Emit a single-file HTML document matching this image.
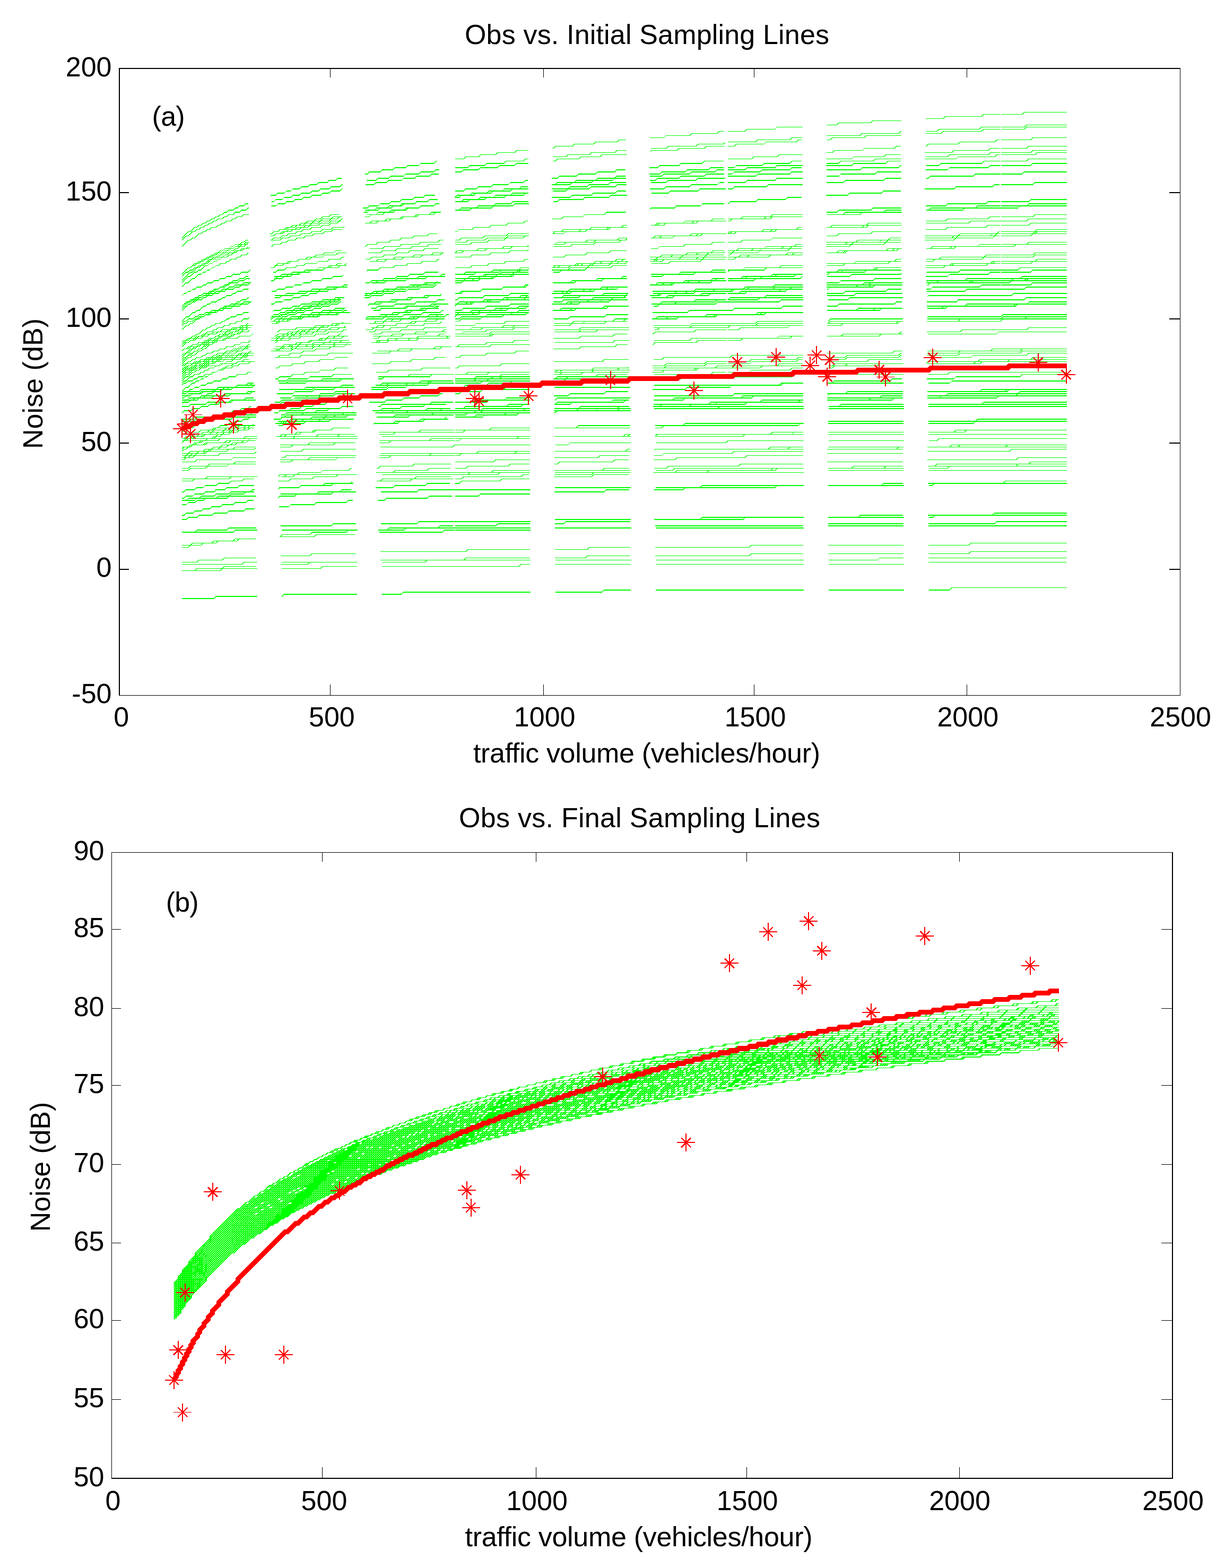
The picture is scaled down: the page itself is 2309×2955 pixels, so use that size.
<!DOCTYPE html>
<html lang="en"><head><meta charset="utf-8"><title>Obs vs. Sampling Lines</title><style>html,body{margin:0;padding:0;background:#fff}svg{display:block}</style></head><body>
<svg width="2309" height="2955" viewBox="0 0 2309 2955">
<rect width="2309" height="2955" fill="#fff"/>
<g transform="translate(343 2.25) scale(0.804 1.005)" fill="none" stroke="#00ff00" stroke-width="1.49" stroke-dasharray="177.49 58.33" shape-rendering="crispEdges">
<path d="M0 444l15-12h5l10-8h5l5-4h5l5-4h5l5-4h5l5-4h5l5-4h5l5-4h5l5-4h5l5-4h10l5-4h5l5-4h10l5-4h10l5-4h5l5-4h15l5-4h10l5-4h10l5-4h15l5-4h10l5-4h15l5-4h15l5-4h15l5-4h20l5-4h15l5-4h20l5-4h20l5-4h20l5-4h25l5-4h25l5-4h25l5-4h25l5-4h30l5-4h30l5-4h10"/>
<path d="M640 296h20l5-4h30l5-4h35l5-4h40l5-4h35l5-4h45l5-4h40l5-4h45l5-4h50l5-4h50l5-4h50l5-4h55l5-4h60l5-4h20"/>
<path d="M1280 244h40l5-4h65l5-4h65l5-4h70l5-4h75l5-4h80l5-4h80l5-4h85l5-4h40"/>
<path d="M1920 212h50l5-4h100"/>
<path d="M0 448l10-8h5l10-8h5l5-4h5l5-4h5l5-4h5l5-4h5l5-4h5l5-4h10l5-4h5l5-4h10l5-4h10l5-4h10l5-4h10l5-4h10l5-4h15l5-4h10l5-4h15l5-4h15l5-4h15l5-4h20l5-4h15l5-4h20l5-4h20l5-4h20l5-4h25l5-4h25l5-4h25l5-4h30l5-4h30l5-4h30l5-4h35l5-4h5"/>
<path d="M640 312h30l5-4h35l5-4h40l5-4h40l5-4h45l5-4h45l5-4h50l5-4h55l5-4h55l5-4h55l5-4h65l5-4h60l5-4h5"/>
<path d="M1280 264h65l5-4h75l5-4h75l5-4h80l5-4h85l5-4h85l5-4h95l5-4h45"/>
<path d="M1920 236h55l5-4h95"/>
<path d="M0 460l15-12h5l5-4h5l10-8h5l5-4h5l5-4h5l5-4h10l5-4h5l5-4h5l5-4h10l5-4h5l5-4h10l5-4h10l5-4h10l5-4h10l5-4h15l5-4h10l5-4h15l5-4h15l5-4h15l5-4h15l5-4h20l5-4h15l5-4h20l5-4h20l5-4h25l5-4h20l5-4h25l5-4h30l5-4h25l5-4h30l5-4h35l5-4h15"/>
<path d="M640 320h15l5-4h35l5-4h40l5-4h35l5-4h45l5-4h40l5-4h50l5-4h45l5-4h55l5-4h50l5-4h60l5-4h60l5-4h50"/>
<path d="M1280 272h15l5-4h65l5-4h70l5-4h75l5-4h75l5-4h85l5-4h85l5-4h90l5-4h40"/>
<path d="M1920 240h55l5-4h95"/>
<path d="M0 524l20-16h5l15-12h5l5-4h5l10-8h5l5-4h5l5-4h5l5-4h5l5-4h5l5-4h5l5-4h5l5-4h10l5-4h5l5-4h10l5-4h5l5-4h10l5-4h10l5-4h10l5-4h10l5-4h10l5-4h15l5-4h10l5-4h15l5-4h10l5-4h15l5-4h20l5-4h15l5-4h15l5-4h20l5-4h20l5-4h20l5-4h20l5-4h25l5-4h20l5-4h25l5-4h25l5-4h10"/>
<path d="M640 356h20l5-4h25l5-4h30l5-4h35l5-4h30l5-4h35l5-4h35l5-4h40l5-4h40l5-4h40l5-4h45l5-4h45l5-4h45l5-4h50l5-4h50l5-4"/>
<path d="M1280 296h55l5-4h55l5-4h60l5-4h60l5-4h65l5-4h70l5-4h70l5-4h70l5-4h80l5-4h10"/>
<path d="M1920 260h70l5-4h80"/>
<path d="M0 524l20-16h5l10-8h5l5-4h5l5-4h5l10-8h5l5-4h5l5-4h5l5-4h10l5-4h5l5-4h5l5-4h10l5-4h5l5-4h10l5-4h10l5-4h10l5-4h10l5-4h10l5-4h10l5-4h15l5-4h15l5-4h10l5-4h15l5-4h20l5-4h15l5-4h15l5-4h20l5-4h20l5-4h20l5-4h25l5-4h20l5-4h25l5-4h25l5-4h30l5-4h25"/>
<path d="M640 368l5-4h30l5-4h35l5-4h30l5-4h35l5-4h35l5-4h40l5-4h40l5-4h45l5-4h40l5-4h50l5-4h45l5-4h55l5-4h50l5-4h40"/>
<path d="M1280 312h15l5-4h60l5-4h60l5-4h65l5-4h70l5-4h70l5-4h75l5-4h75l5-4h80l5-4h25"/>
<path d="M1920 276h60l5-4h90"/>
<path d="M0 512l15-12h5l10-8h5l5-4h5l5-4h5l5-4h5l5-4h5l5-4h5l5-4h5l5-4h10l5-4h5l5-4h10l5-4h5l5-4h10l5-4h10l5-4h10l5-4h15l5-4h10l5-4h15l5-4h15l5-4h15l5-4h15l5-4h15l5-4h20l5-4h20l5-4h20l5-4h20l5-4h20l5-4h25l5-4h25l5-4h30l5-4h25l5-4h30l5-4h25"/>
<path d="M640 368h10l5-4h30l5-4h35l5-4h40l5-4h40l5-4h40l5-4h45l5-4h45l5-4h45l5-4h55l5-4h50l5-4h60l5-4h55l5-4h25"/>
<path d="M1280 316h40l5-4h65l5-4h70l5-4h70l5-4h75l5-4h85l5-4h80l5-4h90l5-4h25"/>
<path d="M1920 284h70l5-4h80"/>
<path d="M0 528l15-12h5l10-8h5l5-4h5l10-8h5l5-4h5l5-4h5l5-4h5l5-4h10l5-4h5l5-4h5l5-4h10l5-4h5l5-4h10l5-4h10l5-4h10l5-4h10l5-4h15l5-4h10l5-4h15l5-4h10l5-4h15l5-4h20l5-4h15l5-4h15l5-4h20l5-4h20l5-4h20l5-4h25l5-4h20l5-4h25l5-4h25l5-4h30l5-4h25l5-4h15"/>
<path d="M640 376h15l5-4h35l5-4h30l5-4h35l5-4h40l5-4h40l5-4h40l5-4h40l5-4h45l5-4h50l5-4h50l5-4h50l5-4h55l5-4h50"/>
<path d="M1280 324h10l5-4h60l5-4h65l5-4h65l5-4h70l5-4h75l5-4h75l5-4h80l5-4h85l5-4h10"/>
<path d="M1920 288h80l5-4h70"/>
<path d="M0 512l15-12h5l5-4h5l5-4h5l5-4h5l5-4h5l5-4h5l5-4h5l5-4h10l5-4h5l5-4h10l5-4h10l5-4h10l5-4h10l5-4h10l5-4h10l5-4h15l5-4h15l5-4h15l5-4h15l5-4h15l5-4h20l5-4h20l5-4h20l5-4h20l5-4h25l5-4h25l5-4h25l5-4h30l5-4h30l5-4h30l5-4h35l5-4h5"/>
<path d="M640 376h30l5-4h35l5-4h40l5-4h40l5-4h45l5-4h45l5-4h50l5-4h55l5-4h55l5-4h55l5-4h65l5-4h65l5-4"/>
<path d="M1280 328h65l5-4h75l5-4h75l5-4h80l5-4h85l5-4h90l5-4h95l5-4h40"/>
<path d="M1920 300h60l5-4h90"/>
<path d="M0 536l10-8h5l10-8h5l10-8h5l5-4h5l5-4h5l5-4h5l5-4h5l5-4h10l5-4h5l5-4h10l5-4h5l5-4h10l5-4h10l5-4h10l5-4h10l5-4h10l5-4h15l5-4h10l5-4h15l5-4h15l5-4h15l5-4h20l5-4h15l5-4h20l5-4h20l5-4h20l5-4h25l5-4h25l5-4h25l5-4h25l5-4h30l5-4h30l5-4h20"/>
<path d="M640 392h10l5-4h35l5-4h35l5-4h35l5-4h40l5-4h40l5-4h45l5-4h45l5-4h50l5-4h50l5-4h55l5-4h55l5-4h60l5-4h20"/>
<path d="M1280 340h40l5-4h65l5-4h70l5-4h70l5-4h80l5-4h80l5-4h80l5-4h90l5-4h25"/>
<path d="M1920 308h70l5-4h80"/>
<path d="M0 516l10-8h5l5-4h5l5-4h5l5-4h5l5-4h5l5-4h5l5-4h10l5-4h10l5-4h5l5-4h10l5-4h10l5-4h15l5-4h10l5-4h15l5-4h15l5-4h15l5-4h15l5-4h20l5-4h20l5-4h20l5-4h20l5-4h25l5-4h25l5-4h25l5-4h30l5-4h30l5-4h35l5-4h35l5-4h35l5-4h5"/>
<path d="M640 392h35l5-4h45l5-4h45l5-4h45l5-4h50l5-4h55l5-4h55l5-4h65l5-4h65l5-4h65l5-4h65"/>
<path d="M1280 352h10l5-4h75l5-4h80l5-4h90l5-4h90l5-4h100l5-4h100l5-4h60"/>
<path d="M1920 324h50l5-4h100"/>
<path d="M0 580l15-12h5l10-8h5l5-4h5l5-4h5l5-4h5l5-4h5l5-4h5l5-4h5l5-4h5l5-4h5l5-4h10l5-4h10l5-4h5l5-4h10l5-4h10l5-4h10l5-4h10l5-4h15l5-4h10l5-4h15l5-4h15l5-4h15l5-4h15l5-4h20l5-4h20l5-4h15l5-4h25l5-4h20l5-4h25l5-4h20l5-4h25l5-4h30l5-4h30l5-4h25"/>
<path d="M640 432h5l5-4h30l5-4h35l5-4h35l5-4h35l5-4h40l5-4h40l5-4h45l5-4h45l5-4h45l5-4h50l5-4h55l5-4h55l5-4h60"/>
<path d="M1280 380l5-4h60l5-4h65l5-4h65l5-4h70l5-4h75l5-4h80l5-4h80l5-4h85l5-4h15"/>
<path d="M1920 344h75l5-4h75"/>
<path d="M0 600l10-8h5l10-8h5l5-4h5l10-8h5l5-4h5l5-4h10l5-4h5l5-4h5l5-4h10l5-4h5l5-4h10l5-4h10l5-4h10l5-4h10l5-4h10l5-4h10l5-4h15l5-4h15l5-4h15l5-4h15l5-4h15l5-4h20l5-4h15l5-4h20l5-4h25l5-4h20l5-4h25l5-4h25l5-4h25l5-4h30l5-4h30l5-4h30l5-4"/>
<path d="M640 456h35l5-4h35l5-4h35l5-4h40l5-4h45l5-4h40l5-4h45l5-4h50l5-4h50l5-4h55l5-4h55l5-4h60l5-4h35"/>
<path d="M1280 408h30l5-4h65l5-4h70l5-4h75l5-4h75l5-4h80l5-4h85l5-4h90l5-4h30"/>
<path d="M1920 376h65l5-4h85"/>
<path d="M0 572l10-8h5l5-4h5l5-4h5l5-4h5l5-4h10l5-4h5l5-4h10l5-4h10l5-4h5l5-4h15l5-4h10l5-4h10l5-4h15l5-4h15l5-4h15l5-4h15l5-4h20l5-4h15l5-4h25l5-4h20l5-4h25l5-4h25l5-4h25l5-4h30l5-4h30l5-4h30l5-4h35l5-4h40l5-4h15"/>
<path d="M640 452h25l5-4h40l5-4h45l5-4h50l5-4h50l5-4h55l5-4h60l5-4h60l5-4h65l5-4h70l5-4h70"/>
<path d="M1280 412h5l5-4h75l5-4h85l5-4h90l5-4h90l5-4h100l5-4h105l5-4h55"/>
<path d="M1920 384h60l5-4h90"/>
<path d="M0 552l5-4h5l5-4h5l5-4h5l5-4h10l5-4h5l5-4h10l5-4h10l5-4h10l5-4h10l5-4h15l5-4h15l5-4h15l5-4h15l5-4h20l5-4h20l5-4h20l5-4h25l5-4h25l5-4h25l5-4h30l5-4h30l5-4h35l5-4h35l5-4h40l5-4h40l5-4h35"/>
<path d="M640 448h10l5-4h50l5-4h50l5-4h60l5-4h60l5-4h60l5-4h70l5-4h75l5-4h80l5-4h80"/>
<path d="M1280 412h5l5-4h90l5-4h95l5-4h105l5-4h110l5-4h120l5-4h85"/>
<path d="M1920 388h40l5-4h110"/>
<path d="M0 616l10-8h5l5-4h5l10-8h5l5-4h5l5-4h5l5-4h10l5-4h5l5-4h5l5-4h10l5-4h10l5-4h5l5-4h10l5-4h15l5-4h10l5-4h10l5-4h15l5-4h15l5-4h15l5-4h15l5-4h15l5-4h20l5-4h20l5-4h20l5-4h25l5-4h20l5-4h25l5-4h30l5-4h25l5-4h30l5-4h30l5-4h35l5-4"/>
<path d="M640 480h35l5-4h40l5-4h40l5-4h40l5-4h45l5-4h45l5-4h50l5-4h55l5-4h55l5-4h60l5-4h60l5-4h60"/>
<path d="M1280 436h5l5-4h70l5-4h75l5-4h75l5-4h80l5-4h85l5-4h90l5-4h95l5-4h25"/>
<path d="M1920 404h75l5-4h75"/>
<path d="M0 572l5-4h5l5-4h5l5-4h5l5-4h10l5-4h10l5-4h10l5-4h10l5-4h10l5-4h10l5-4h15l5-4h15l5-4h15l5-4h20l5-4h20l5-4h20l5-4h25l5-4h25l5-4h25l5-4h30l5-4h30l5-4h35l5-4h35l5-4h40l5-4h40l5-4h50"/>
<path d="M640 472l5-4h45l5-4h55l5-4h55l5-4h60l5-4h65l5-4h70l5-4h80l5-4h80l5-4h85"/>
<path d="M1280 436l5-4h95l5-4h100l5-4h105l5-4h115l5-4h125l5-4h70"/>
<path d="M1920 412h60l5-4h90"/>
<path d="M0 644l15-12h5l5-4h5l5-4h5l10-8h5l5-4h5l5-4h5l5-4h10l5-4h5l5-4h5l5-4h10l5-4h10l5-4h10l5-4h5l5-4h15l5-4h10l5-4h10l5-4h15l5-4h15l5-4h15l5-4h15l5-4h15l5-4h20l5-4h15l5-4h20l5-4h25l5-4h20l5-4h25l5-4h25l5-4h25l5-4h30l5-4h30l5-4h30l5-4"/>
<path d="M640 500h35l5-4h35l5-4h35l5-4h40l5-4h40l5-4h45l5-4h45l5-4h50l5-4h50l5-4h55l5-4h55l5-4h60l5-4h35"/>
<path d="M1280 452h30l5-4h65l5-4h70l5-4h75l5-4h75l5-4h80l5-4h85l5-4h90l5-4h30"/>
<path d="M1920 420h65l5-4h85"/>
<path d="M0 676l15-12h5l10-8h5l5-4h5l10-8h5l5-4h5l5-4h5l5-4h5l5-4h5l5-4h5l5-4h10l5-4h5l5-4h10l5-4h10l5-4h5l5-4h10l5-4h10l5-4h15l5-4h10l5-4h10l5-4h15l5-4h15l5-4h15l5-4h15l5-4h15l5-4h20l5-4h20l5-4h20l5-4h20l5-4h20l5-4h25l5-4h25l5-4h25l5-4h25l5-4h30l5-4"/>
<path d="M640 520h30l5-4h35l5-4h30l5-4h35l5-4h40l5-4h35l5-4h45l5-4h40l5-4h45l5-4h50l5-4h45l5-4h55l5-4h55l5-4h35"/>
<path d="M1280 468h20l5-4h60l5-4h65l5-4h65l5-4h70l5-4h70l5-4h75l5-4h80l5-4h85l5-4h5"/>
<path d="M1920 432h80l5-4h70"/>
<path d="M0 668l10-8h5l10-8h5l5-4h5l10-8h5l5-4h5l5-4h5l5-4h5l5-4h10l5-4h5l5-4h5l5-4h10l5-4h10l5-4h5l5-4h10l5-4h10l5-4h15l5-4h10l5-4h10l5-4h15l5-4h15l5-4h15l5-4h15l5-4h20l5-4h15l5-4h20l5-4h20l5-4h25l5-4h20l5-4h25l5-4h25l5-4h30l5-4h25l5-4h30l5-4h5"/>
<path d="M640 520h30l5-4h30l5-4h35l5-4h40l5-4h40l5-4h40l5-4h40l5-4h50l5-4h45l5-4h50l5-4h55l5-4h55l5-4h60l5-4h5"/>
<path d="M1280 468h55l5-4h65l5-4h70l5-4h70l5-4h75l5-4h80l5-4h80l5-4h85l5-4h20"/>
<path d="M1920 436h75l5-4h75"/>
<path d="M0 680l15-12h5l5-4h5l10-8h5l5-4h5l10-8h5l5-4h5l5-4h10l5-4h5l5-4h5l5-4h10l5-4h5l5-4h10l5-4h5l5-4h10l5-4h10l5-4h15l5-4h10l5-4h10l5-4h15l5-4h15l5-4h15l5-4h15l5-4h15l5-4h15l5-4h20l5-4h20l5-4h20l5-4h25l5-4h20l5-4h25l5-4h25l5-4h30l5-4h25l5-4h15"/>
<path d="M640 528h15l5-4h35l5-4h30l5-4h35l5-4h40l5-4h35l5-4h45l5-4h40l5-4h45l5-4h50l5-4h45l5-4h55l5-4h55l5-4h50"/>
<path d="M1280 476h5l5-4h60l5-4h65l5-4h65l5-4h70l5-4h75l5-4h75l5-4h80l5-4h85l5-4h15"/>
<path d="M1920 440h70l5-4h80"/>
<path d="M0 648l10-8h5l5-4h5l5-4h5l5-4h5l5-4h5l5-4h10l5-4h5l5-4h10l5-4h10l5-4h10l5-4h10l5-4h10l5-4h15l5-4h10l5-4h15l5-4h15l5-4h20l5-4h15l5-4h20l5-4h20l5-4h25l5-4h20l5-4h25l5-4h30l5-4h30l5-4h30l5-4h30l5-4h35l5-4h40l5-4"/>
<path d="M640 524h40l5-4h40l5-4h45l5-4h50l5-4h50l5-4h55l5-4h55l5-4h65l5-4h60l5-4h70l5-4h60"/>
<path d="M1280 484h15l5-4h75l5-4h85l5-4h85l5-4h90l5-4h100l5-4h105l5-4h50"/>
<path d="M1920 456h60l5-4h90"/>
<path d="M0 604l5-4h5l5-4h10l5-4h5l5-4h10l5-4h10l5-4h15l5-4h10l5-4h15l5-4h15l5-4h20l5-4h15l5-4h20l5-4h25l5-4h25l5-4h25l5-4h30l5-4h35l5-4h35l5-4h35l5-4h40l5-4h45l5-4h50l5-4h30"/>
<path d="M640 512h20l5-4h60l5-4h60l5-4h65l5-4h70l5-4h80l5-4h85l5-4h90l5-4h70"/>
<path d="M1280 480h25l5-4h105l5-4h115l5-4h125l5-4h130l5-4h115"/>
<path d="M1920 460h30l5-4h120"/>
<path d="M0 672l5-4h5l10-8h5l5-4h5l5-4h5l5-4h5l5-4h10l5-4h5l5-4h10l5-4h10l5-4h5l5-4h10l5-4h15l5-4h10l5-4h15l5-4h10l5-4h15l5-4h20l5-4h15l5-4h20l5-4h20l5-4h20l5-4h25l5-4h20l5-4h30l5-4h25l5-4h30l5-4h30l5-4h35l5-4h35l5-4h20"/>
<path d="M640 548h15l5-4h40l5-4h45l5-4h45l5-4h50l5-4h50l5-4h55l5-4h55l5-4h60l5-4h65l5-4h70l5-4h35"/>
<path d="M1280 504h35l5-4h80l5-4h80l5-4h85l5-4h90l5-4h100l5-4h100l5-4h35"/>
<path d="M1920 476h75l5-4h75"/>
<path d="M0 664l5-4h5l10-8h5l5-4h10l5-4h5l5-4h5l5-4h10l5-4h5l5-4h10l5-4h10l5-4h10l5-4h15l5-4h10l5-4h15l5-4h15l5-4h15l5-4h20l5-4h20l5-4h20l5-4h20l5-4h25l5-4h25l5-4h25l5-4h30l5-4h30l5-4h35l5-4h35l5-4h35l5-4h30"/>
<path d="M640 548h10l5-4h45l5-4h45l5-4h50l5-4h50l5-4h55l5-4h60l5-4h60l5-4h70l5-4h70l5-4h75"/>
<path d="M1280 508l5-4h80l5-4h85l5-4h90l5-4h100l5-4h100l5-4h110l5-4h40"/>
<path d="M1920 480h75l5-4h75"/>
<path d="M0 708l10-8h5l10-8h5l5-4h5l5-4h5l5-4h5l5-4h5l5-4h5l5-4h5l5-4h10l5-4h5l5-4h10l5-4h10l5-4h10l5-4h10l5-4h10l5-4h10l5-4h15l5-4h15l5-4h15l5-4h15l5-4h15l5-4h20l5-4h15l5-4h20l5-4h20l5-4h25l5-4h25l5-4h25l5-4h25l5-4h30l5-4h30l5-4h30l5-4h10"/>
<path d="M640 568h25l5-4h35l5-4h40l5-4h35l5-4h45l5-4h45l5-4h45l5-4h50l5-4h50l5-4h55l5-4h60l5-4h60l5-4h35"/>
<path d="M1280 520h30l5-4h65l5-4h70l5-4h75l5-4h80l5-4h80l5-4h90l5-4h90l5-4h20"/>
<path d="M1920 488h80l5-4h70"/>
<path d="M0 704l10-8h5l10-8h5l5-4h5l5-4h5l5-4h5l5-4h5l5-4h10l5-4h5l5-4h10l5-4h5l5-4h10l5-4h10l5-4h10l5-4h15l5-4h10l5-4h15l5-4h10l5-4h15l5-4h20l5-4h15l5-4h20l5-4h20l5-4h20l5-4h20l5-4h25l5-4h25l5-4h25l5-4h30l5-4h30l5-4h30l5-4h35l5-4"/>
<path d="M640 568h35l5-4h35l5-4h40l5-4h45l5-4h40l5-4h50l5-4h50l5-4h50l5-4h55l5-4h60l5-4h60l5-4h65"/>
<path d="M1280 524h5l5-4h65l5-4h75l5-4h75l5-4h80l5-4h85l5-4h90l5-4h95l5-4h30"/>
<path d="M1920 492h70l5-4h80"/>
<path d="M0 656l5-4h5l5-4h5l5-4h10l5-4h10l5-4h5l5-4h10l5-4h15l5-4h10l5-4h15l5-4h15l5-4h15l5-4h20l5-4h20l5-4h20l5-4h25l5-4h25l5-4h30l5-4h30l5-4h35l5-4h35l5-4h35l5-4h45l5-4h45l5-4h40"/>
<path d="M640 560h5l5-4h55l5-4h55l5-4h60l5-4h70l5-4h70l5-4h75l5-4h85l5-4h85l5-4h35"/>
<path d="M1280 524h60l5-4h105l5-4h110l5-4h115l5-4h130l5-4h95"/>
<path d="M1920 504h40l5-4h110"/>
<path d="M0 732l10-8h5l10-8h5l5-4h5l5-4h5l5-4h5l5-4h5l5-4h5l5-4h5l5-4h5l5-4h10l5-4h5l5-4h10l5-4h10l5-4h10l5-4h10l5-4h10l5-4h15l5-4h10l5-4h15l5-4h15l5-4h15l5-4h20l5-4h15l5-4h20l5-4h20l5-4h20l5-4h25l5-4h20l5-4h25l5-4h30l5-4h30l5-4h30l5-4h30"/>
<path d="M640 592l5-4h35l5-4h35l5-4h35l5-4h40l5-4h40l5-4h45l5-4h45l5-4h50l5-4h50l5-4h55l5-4h55l5-4h60l5-4h30"/>
<path d="M1280 540h35l5-4h65l5-4h70l5-4h75l5-4h75l5-4h80l5-4h85l5-4h90l5-4h25"/>
<path d="M1920 508h70l5-4h80"/>
<path d="M0 684l5-4h5l5-4h5l5-4h5l5-4h10l5-4h5l5-4h10l5-4h10l5-4h10l5-4h15l5-4h10l5-4h15l5-4h15l5-4h20l5-4h15l5-4h20l5-4h20l5-4h25l5-4h25l5-4h30l5-4h25l5-4h35l5-4h30l5-4h40l5-4h40l5-4h40l5-4h30"/>
<path d="M640 580h15l5-4h50l5-4h50l5-4h55l5-4h60l5-4h65l5-4h70l5-4h75l5-4h80l5-4h75"/>
<path d="M1280 544h10l5-4h90l5-4h95l5-4h105l5-4h110l5-4h120l5-4h80"/>
<path d="M1920 520h45l5-4h105"/>
<path d="M0 692l5-4h5l5-4h5l5-4h5l5-4h5l5-4h10l5-4h10l5-4h5l5-4h15l5-4h10l5-4h10l5-4h15l5-4h15l5-4h15l5-4h15l5-4h20l5-4h20l5-4h25l5-4h20l5-4h25l5-4h30l5-4h30l5-4h30l5-4h35l5-4h35l5-4h40l5-4h45l5-4h10"/>
<path d="M640 584h35l5-4h50l5-4h50l5-4h55l5-4h60l5-4h65l5-4h70l5-4h75l5-4h75l5-4h60"/>
<path d="M1280 548h25l5-4h90l5-4h100l5-4h100l5-4h110l5-4h115l5-4h70"/>
<path d="M1920 524h55l5-4h95"/>
<path d="M0 640l5-4h10l5-4h10l5-4h15l5-4h15l5-4h15l5-4h20l5-4h20l5-4h25l5-4h25l5-4h30l5-4h30l5-4h40l5-4h40l5-4h45l5-4h50l5-4h55l5-4h60l5-4h45"/>
<path d="M640 568h25l5-4h75l5-4h85l5-4h90l5-4h105l5-4h110l5-4h120"/>
<path d="M1280 544h5l5-4h135l5-4h150l5-4h165l5-4h165"/>
<path d="M1920 528h20l5-4h130"/>
<path d="M0 716l5-4h5l10-8h5l5-4h10l5-4h5l5-4h5l5-4h10l5-4h5l5-4h10l5-4h10l5-4h15l5-4h10l5-4h10l5-4h15l5-4h15l5-4h20l5-4h15l5-4h20l5-4h20l5-4h20l5-4h25l5-4h25l5-4h25l5-4h30l5-4h30l5-4h35l5-4h35l5-4h35l5-4h30"/>
<path d="M640 600h10l5-4h45l5-4h45l5-4h50l5-4h50l5-4h55l5-4h60l5-4h60l5-4h65l5-4h75l5-4h75"/>
<path d="M1280 560l5-4h80l5-4h85l5-4h90l5-4h95l5-4h100l5-4h110l5-4h45"/>
<path d="M1920 532h70l5-4h80"/>
<path d="M0 692l5-4h5l5-4h5l5-4h10l5-4h10l5-4h5l5-4h15l5-4h10l5-4h10l5-4h15l5-4h15l5-4h20l5-4h15l5-4h20l5-4h25l5-4h20l5-4h30l5-4h25l5-4h30l5-4h35l5-4h35l5-4h40l5-4h40l5-4h45l5-4h40"/>
<path d="M640 596h10l5-4h55l5-4h55l5-4h65l5-4h65l5-4h70l5-4h75l5-4h85l5-4h90l5-4h25"/>
<path d="M1280 560h70l5-4h105l5-4h110l5-4h120l5-4h130l5-4h80"/>
<path d="M1920 540h55l5-4h95"/>
<path d="M0 656l5-4h10l5-4h15l5-4h15l5-4h15l5-4h20l5-4h25l5-4h25l5-4h25l5-4h30l5-4h35l5-4h40l5-4h45l5-4h50l5-4h55l5-4h60l5-4h70l5-4h20"/>
<path d="M640 588h55l5-4h85l5-4h95l5-4h105l5-4h115l5-4h130l5-4h25"/>
<path d="M1280 564h120l5-4h155l5-4h180l5-4h170"/>
<path d="M1920 552h25l5-4h125"/>
<path d="M0 696l5-4h10l5-4h5l5-4h10l5-4h10l5-4h10l5-4h15l5-4h15l5-4h15l5-4h20l5-4h20l5-4h20l5-4h25l5-4h25l5-4h30l5-4h30l5-4h35l5-4h35l5-4h45l5-4h40l5-4h50l5-4h55l5-4h10"/>
<path d="M640 608h45l5-4h65l5-4h65l5-4h75l5-4h80l5-4h90l5-4h95l5-4h90"/>
<path d="M1280 580h10l5-4h110l5-4h125l5-4h130l5-4h140l5-4h100"/>
<path d="M1920 560h55l5-4h95"/>
<path d="M0 720l5-4h5l5-4h10l5-4h5l5-4h10l5-4h10l5-4h10l5-4h10l5-4h15l5-4h10l5-4h20l5-4h15l5-4h20l5-4h20l5-4h20l5-4h25l5-4h25l5-4h30l5-4h30l5-4h30l5-4h40l5-4h35l5-4h45l5-4h45l5-4h35"/>
<path d="M640 624h15l5-4h50l5-4h60l5-4h60l5-4h65l5-4h75l5-4h75l5-4h85l5-4h85l5-4h25"/>
<path d="M1280 588h75l5-4h100l5-4h115l5-4h115l5-4h130l5-4h80"/>
<path d="M1920 568h60l5-4h90"/>
<path d="M0 700l5-4h10l5-4h5l5-4h15l5-4h10l5-4h10l5-4h15l5-4h20l5-4h15l5-4h20l5-4h25l5-4h25l5-4h25l5-4h30l5-4h35l5-4h35l5-4h40l5-4h40l5-4h50l5-4h50l5-4h60l5-4"/>
<path d="M640 616h60l5-4h70l5-4h75l5-4h80l5-4h90l5-4h95l5-4h105l5-4h30"/>
<path d="M1280 588h85l5-4h125l5-4h135l5-4h150l5-4h125"/>
<path d="M1920 572h35l5-4h115"/>
<path d="M0 688h5l5-4h10l5-4h15l5-4h15l5-4h20l5-4h25l5-4h25l5-4h25l5-4h35l5-4h35l5-4h45l5-4h45l5-4h55l5-4h60l5-4h65l5-4h75l5-4h5"/>
<path d="M640 624h80l5-4h95l5-4h105l5-4h120l5-4h130l5-4h85"/>
<path d="M1280 604h65l5-4h165l5-4h185l5-4h210"/>
<path d="M1920 592l5-4h150"/>
<path d="M0 736l5-4h10l5-4h5l5-4h10l5-4h10l5-4h10l5-4h15l5-4h10l5-4h15l5-4h20l5-4h15l5-4h25l5-4h20l5-4h25l5-4h25l5-4h30l5-4h30l5-4h35l5-4h40l5-4h40l5-4h45l5-4h50l5-4h45"/>
<path d="M640 648h5l5-4h60l5-4h60l5-4h70l5-4h75l5-4h75l5-4h90l5-4h90l5-4h75"/>
<path d="M1280 616h25l5-4h110l5-4h120l5-4h125l5-4h140l5-4h95"/>
<path d="M1920 596h55l5-4h95"/>
<path d="M0 684h5l5-4h15l5-4h20l5-4h20l5-4h25l5-4h25l5-4h35l5-4h40l5-4h40l5-4h50l5-4h60l5-4h65l5-4h70l5-4h85l5-4h15"/>
<path d="M640 628h85l5-4h110l5-4h125l5-4h140l5-4h160"/>
<path d="M1280 612l5-4h185l5-4h205l5-4h235"/>
<path d="M1920 600l5-4h150"/>
<path d="M0 756l5-4h10l5-4h5l5-4h10l5-4h10l5-4h10l5-4h15l5-4h10l5-4h15l5-4h20l5-4h15l5-4h20l5-4h25l5-4h25l5-4h25l5-4h30l5-4h30l5-4h35l5-4h40l5-4h40l5-4h45l5-4h50l5-4h45"/>
<path d="M640 668h10l5-4h55l5-4h65l5-4h65l5-4h75l5-4h80l5-4h85l5-4h95l5-4h70"/>
<path d="M1280 636h30l5-4h110l5-4h115l5-4h130l5-4h140l5-4h90"/>
<path d="M1920 616h60l5-4h90"/>
<path d="M0 696h5l5-4h20l5-4h20l5-4h30l5-4h30l5-4h40l5-4h45l5-4h50l5-4h60l5-4h70l5-4h85l5-4h95l5-4h30"/>
<path d="M640 648h80l5-4h130l5-4h150l5-4h175l5-4h85"/>
<path d="M1280 632h115l5-4h235l5-4h270l5-4h5"/>
<path d="M1920 620h155"/>
<path d="M0 744h5l5-4h10l5-4h20l5-4h20l5-4h20l5-4h25l5-4h30l5-4h35l5-4h40l5-4h45l5-4h50l5-4h55l5-4h65l5-4h75l5-4h75"/>
<path d="M640 688h5l5-4h95l5-4h110l5-4h120l5-4h135l5-4h150"/>
<path d="M1280 668h5l5-4h175l5-4h195l5-4h225l5-4h20"/>
<path d="M1920 652h155"/>
<path d="M0 808l5-4h5l5-4h10l5-4h5l5-4h10l5-4h10l5-4h10l5-4h15l5-4h10l5-4h15l5-4h15l5-4h20l5-4h20l5-4h20l5-4h25l5-4h25l5-4h25l5-4h30l5-4h35l5-4h35l5-4h40l5-4h40l5-4h45l5-4h50l5-4h5"/>
<path d="M640 712h45l5-4h55l5-4h65l5-4h65l5-4h70l5-4h80l5-4h80l5-4h90l5-4h50"/>
<path d="M1280 680h50l5-4h105l5-4h110l5-4h120l5-4h135l5-4h95"/>
<path d="M1920 660h45l5-4h105"/>
<path d="M0 828l5-4h5l5-4h5l5-4h10l5-4h5l5-4h10l5-4h5l5-4h10l5-4h15l5-4h10l5-4h15l5-4h10l5-4h20l5-4h15l5-4h20l5-4h20l5-4h20l5-4h25l5-4h25l5-4h25l5-4h30l5-4h30l5-4h35l5-4h35l5-4h40l5-4h45l5-4h25"/>
<path d="M640 724h20l5-4h50l5-4h50l5-4h60l5-4h60l5-4h65l5-4h70l5-4h75l5-4h75l5-4h70"/>
<path d="M1280 688h20l5-4h90l5-4h95l5-4h105l5-4h115l5-4h120l5-4h65"/>
<path d="M1920 664h60l5-4h90"/>
<path d="M0 844l5-4h5l5-4h5l5-4h5l5-4h10l5-4h5l5-4h10l5-4h5l5-4h10l5-4h15l5-4h10l5-4h10l5-4h15l5-4h15l5-4h20l5-4h15l5-4h20l5-4h20l5-4h25l5-4h25l5-4h25l5-4h25l5-4h30l5-4h35l5-4h35l5-4h35l5-4h40l5-4h35"/>
<path d="M640 736h10l5-4h45l5-4h50l5-4h50l5-4h55l5-4h60l5-4h65l5-4h70l5-4h75l5-4h75l5-4h35"/>
<path d="M1280 696h50l5-4h90l5-4h95l5-4h100l5-4h110l5-4h115l5-4h50"/>
<path d="M1920 672h70l5-4h80"/>
<path d="M0 772l5-4h15l5-4h15l5-4h15l5-4h20l5-4h25l5-4h25l5-4h30l5-4h30l5-4h40l5-4h40l5-4h45l5-4h55l5-4h60l5-4h70l5-4h75l5-4"/>
<path d="M640 708h85l5-4h95l5-4h105l5-4h120l5-4h135l5-4h75"/>
<path d="M1280 688h75l5-4h165l5-4h190l5-4h195"/>
<path d="M1920 676h15l5-4h135"/>
<path d="M0 736h10l5-4h25l5-4h35l5-4h40l5-4h50l5-4h60l5-4h75l5-4h85l5-4h110l5-4h105"/>
<path d="M640 700h25l5-4h155l5-4h190l5-4h225l5-4h25"/>
<path d="M1280 684h245l5-4h325l5-4h60"/>
<path d="M1920 676h155"/>
<path d="M0 800l5-4h10l5-4h15l5-4h10l5-4h15l5-4h20l5-4h15l5-4h25l5-4h20l5-4h30l5-4h30l5-4h30l5-4h40l5-4h40l5-4h45l5-4h50l5-4h60l5-4h60l5-4h35"/>
<path d="M640 728h35l5-4h75l5-4h85l5-4h95l5-4h100l5-4h115l5-4h105"/>
<path d="M1280 704h20l5-4h135l5-4h150l5-4h170l5-4h145"/>
<path d="M1920 688h40l5-4h110"/>
<path d="M0 752h5l5-4h25l5-4h30l5-4h35l5-4h45l5-4h55l5-4h60l5-4h80l5-4h90l5-4h110l5-4h55"/>
<path d="M640 712h75l5-4h155l5-4h185l5-4h210"/>
<path d="M1280 700h10l5-4h260l5-4h310l5-4h45"/>
<path d="M1920 688h155"/>
<path d="M0 748h10l5-4h35l5-4h40l5-4h50l5-4h65l5-4h80l5-4h100l5-4h125l5-4h95"/>
<path d="M640 716h60l5-4h190l5-4h235l5-4h140"/>
<path d="M1280 704h150l5-4h360l5-4h120"/>
<path d="M1920 696h155"/>
<path d="M0 840l5-4h10l5-4h5l5-4h10l5-4h10l5-4h15l5-4h10l5-4h15l5-4h15l5-4h20l5-4h20l5-4h20l5-4h25l5-4h25l5-4h30l5-4h30l5-4h35l5-4h35l5-4h45l5-4h40l5-4h50l5-4h55l5-4h10"/>
<path d="M640 752h45l5-4h65l5-4h65l5-4h75l5-4h80l5-4h85l5-4h95l5-4h95"/>
<path d="M1280 724h5l5-4h110l5-4h120l5-4h130l5-4h145l5-4h105"/>
<path d="M1920 704h45l5-4h105"/>
<path d="M0 760h15l5-4h35l5-4h50l5-4h60l5-4h75l5-4h95l5-4h125l5-4h150"/>
<path d="M640 732h5l5-4h195l5-4h245l5-4h180"/>
<path d="M1280 720h125l5-4h390l5-4h115"/>
<path d="M1920 712h155"/>
<path d="M0 820h5l5-4h15l5-4h15l5-4h20l5-4h25l5-4h25l5-4h30l5-4h35l5-4h40l5-4h45l5-4h50l5-4h60l5-4h65l5-4h75l5-4h65"/>
<path d="M640 764h20l5-4h95l5-4h110l5-4h125l5-4h140l5-4h125"/>
<path d="M1280 744h30l5-4h180l5-4h200l5-4h215"/>
<path d="M1920 732h10l5-4h140"/>
<path d="M0 792h5l5-4h25l5-4h30l5-4h35l5-4h45l5-4h55l5-4h60l5-4h80l5-4h90l5-4h110l5-4h55"/>
<path d="M640 752h75l5-4h155l5-4h185l5-4h210"/>
<path d="M1280 740h10l5-4h260l5-4h310l5-4h45"/>
<path d="M1920 728h155"/>
<path d="M0 856h5l5-4h10l5-4h10l5-4h10l5-4h15l5-4h15l5-4h20l5-4h20l5-4h20l5-4h25l5-4h30l5-4h30l5-4h35l5-4h40l5-4h40l5-4h45l5-4h55l5-4h55l5-4h60l5-4h5"/>
<path d="M640 780h65l5-4h75l5-4h85l5-4h90l5-4h100l5-4h110l5-4h85"/>
<path d="M1280 756h40l5-4h130l5-4h150l5-4h160l5-4h140"/>
<path d="M1920 740h35l5-4h115"/>
<path d="M0 824h5l5-4h15l5-4h20l5-4h25l5-4h25l5-4h30l5-4h35l5-4h45l5-4h45l5-4h55l5-4h65l5-4h75l5-4h85l5-4h50"/>
<path d="M640 772h45l5-4h110l5-4h125l5-4h145l5-4h165l5-4h25"/>
<path d="M1280 752h165l5-4h215l5-4h240l5-4h5"/>
<path d="M1920 740h155"/>
<path d="M0 812h5l5-4h30l5-4h30l5-4h40l5-4h50l5-4h60l5-4h75l5-4h90l5-4h110l5-4h105"/>
<path d="M640 776h25l5-4h155l5-4h190l5-4h230l5-4h20"/>
<path d="M1280 760h260l5-4h330l5-4h40"/>
<path d="M1920 752h155"/>
<path d="M0 784h25l5-4h85l5-4h120l5-4h180l5-4h210"/>
<path d="M640 768h60l5-4h400l5-4h170"/>
<path d="M1280 760h425l5-4h210"/>
<path d="M1920 756h155"/>
<path d="M0 836h15l5-4h30l5-4h45l5-4h50l5-4h65l5-4h85l5-4h105l5-4h125l5-4h80"/>
<path d="M640 804h80l5-4h200l5-4h245l5-4h100"/>
<path d="M1280 792h200l5-4h375l5-4h55"/>
<path d="M1920 784h155"/>
<path d="M0 836h15l5-4h35l5-4h50l5-4h60l5-4h80l5-4h100l5-4h125l5-4h140"/>
<path d="M640 808h20l5-4h200l5-4h255l5-4h150"/>
<path d="M1280 796h165l5-4h405l5-4h60"/>
<path d="M1920 788h155"/>
<path d="M0 852h10l5-4h40l5-4h45l5-4h60l5-4h80l5-4h95l5-4h125l5-4h150"/>
<path d="M640 824h10l5-4h200l5-4h250l5-4h165"/>
<path d="M1280 812h150l5-4h400l5-4h80"/>
<path d="M1920 804h155"/>
<path d="M0 820h145l5-4h490"/>
<path d="M640 816h395l5-4h240"/>
<path d="M1280 812h640"/>
<path d="M1920 812h155"/>
<path d="M0 856h25l5-4h55l5-4h80l5-4h105l5-4h145l5-4h200l5-4"/>
<path d="M640 832h265l5-4h365l5-4"/>
<path d="M1280 824h490l5-4h145"/>
<path d="M1920 820h155"/>
<path d="M0 920h5l5-4h20l5-4h15l5-4h25l5-4h25l5-4h25l5-4h35l5-4h40l5-4h40l5-4h50l5-4h60l5-4h65l5-4h75l5-4h85l5-4h5"/>
<path d="M640 864h90l5-4h110l5-4h125l5-4h145l5-4h150"/>
<path d="M1280 848h10l5-4h180l5-4h210l5-4h225"/>
<path d="M1920 836h10l5-4h140"/>
<path d="M0 876h15l5-4h40l5-4h55l5-4h70l5-4h95l5-4h120l5-4h155l5-4h55"/>
<path d="M640 848h140l5-4h255l5-4h235"/>
<path d="M1280 840h95l5-4h420l5-4h115"/>
<path d="M1920 832h155"/>
<path d="M0 864h30l5-4h80l5-4h120l5-4h175l5-4h215"/>
<path d="M640 848h50l5-4h395l5-4h185"/>
<path d="M1280 840h395l5-4h240"/>
<path d="M1920 836h155"/>
<path d="M0 932h5l5-4h15l5-4h20l5-4h20l5-4h20l5-4h25l5-4h35l5-4h35l5-4h35l5-4h50l5-4h50l5-4h60l5-4h65l5-4h75l5-4h60"/>
<path d="M640 876h25l5-4h95l5-4h110l5-4h125l5-4h140l5-4h120"/>
<path d="M1280 856h40l5-4h175l5-4h200l5-4h210"/>
<path d="M1920 844h20l5-4h130"/>
<path d="M0 944h10l5-4h15l5-4h15l5-4h25l5-4h25l5-4h30l5-4h30l5-4h40l5-4h45l5-4h50l5-4h60l5-4h65l5-4h75l5-4h85l5-4"/>
<path d="M640 888h100l5-4h110l5-4h125l5-4h145l5-4h140"/>
<path d="M1280 872h25l5-4h185l5-4h210l5-4h205"/>
<path d="M1920 860h35l5-4h115"/>
<path d="M0 964h5l5-4h15l5-4h15l5-4h15l5-4h20l5-4h25l5-4h25l5-4h30l5-4h35l5-4h35l5-4h45l5-4h50l5-4h55l5-4h60l5-4h70l5-4h65"/>
<path d="M640 904h10l5-4h90l5-4h95l5-4h110l5-4h125l5-4h135l5-4h45"/>
<path d="M1280 880h110l5-4h175l5-4h190l5-4h150"/>
<path d="M1920 868h65l5-4h85"/>
<path d="M0 936h10l5-4h25l5-4h30l5-4h30l5-4h45l5-4h45l5-4h60l5-4h70l5-4h80l5-4h95l5-4h100"/>
<path d="M640 896h15l5-4h135l5-4h160l5-4h190l5-4h120"/>
<path d="M1280 880h100l5-4h260l5-4h270"/>
<path d="M1920 872h35l5-4h115"/>
<path d="M0 900h25l5-4h80l5-4h125l5-4h190l5-4h200"/>
<path d="M640 884h85l5-4h420l5-4h125"/>
<path d="M1280 876h515l5-4h120"/>
<path d="M1920 872h155"/>
<path d="M0 896h55l5-4h200l5-4h375"/>
<path d="M640 888h30l5-4h605"/>
<path d="M1280 884h210l5-4h425"/>
<path d="M1920 880h155"/>
<path d="M0 972h10l5-4h20l5-4h30l5-4h30l5-4h35l5-4h40l5-4h55l5-4h55l5-4h70l5-4h85l5-4h95l5-4h60"/>
<path d="M640 928h55l5-4h130l5-4h155l5-4h180l5-4h100"/>
<path d="M1280 912h110l5-4h245l5-4h275"/>
<path d="M1920 904h5l5-4h145"/>
<path d="M0 936h30l5-4h70l5-4h95l5-4h140l5-4h195l5-4h85"/>
<path d="M640 916h185l5-4h385l5-4h60"/>
<path d="M1280 908h480l5-4h155"/>
<path d="M1920 904h155"/>
<path d="M0 1024h15l5-4h25l5-4h30l5-4h35l5-4h45l5-4h55l5-4h65l5-4h80l5-4h90l5-4h115l5-4h35"/>
<path d="M640 984h95l5-4h155l5-4h190l5-4h185"/>
<path d="M1280 972h35l5-4h265l5-4h310l5-4h15"/>
<path d="M1920 960h155"/>
<path d="M0 996h30l5-4h70l5-4h95l5-4h140l5-4h195l5-4h85"/>
<path d="M640 976h190l5-4h380l5-4h60"/>
<path d="M1280 968h480l5-4h155"/>
<path d="M1920 964h155"/>
<path d="M0 1020h20l5-4h45l5-4h55l5-4h75l5-4h95l5-4h130l5-4h160l5-4h25"/>
<path d="M640 992h185l5-4h270l5-4h175"/>
<path d="M1280 984h175l5-4h445l5-4h10"/>
<path d="M1920 976h155"/>
<path d="M0 996h120l5-4h395l5-4h115"/>
<path d="M640 988h640"/>
<path d="M1280 988h230l5-4h405"/>
<path d="M1920 984h155"/>
<path d="M0 1052h35l5-4h55l5-4h85l5-4h110l5-4h150l5-4h180"/>
<path d="M640 1032h25l5-4h280l5-4h325"/>
<path d="M1280 1024h50l5-4h510l5-4h70"/>
<path d="M1920 1016h155"/>
<path d="M0 1068h30l5-4h60l5-4h80l5-4h110l5-4h150l5-4h185"/>
<path d="M640 1048h20l5-4h280l5-4h330"/>
<path d="M1280 1040h50l5-4h510l5-4h70"/>
<path d="M1920 1032h155"/>
<path d="M0 1056h140l5-4h425l5-4h65"/>
<path d="M640 1048h640"/>
<path d="M1280 1048h350l5-4h285"/>
<path d="M1920 1044h155"/>
<path d="M0 1068h90l5-4h230l5-4h310"/>
<path d="M640 1060h150l5-4h485"/>
<path d="M1280 1056h435l5-4h200"/>
<path d="M1920 1052h155"/>
<path d="M0 1120h75l5-4h155l5-4h275l5-4h120"/>
<path d="M640 1108h345l5-4h290"/>
<path d="M1280 1104h520l5-4h115"/>
<path d="M1920 1100h155"/>
<path d="M0 824h5l5-4h15l5-4h15l5-4h15l5-4h25l5-4h20l5-4h30l5-4h30l5-4h35l5-4h45l5-4h45l5-4h50l5-4h60l5-4h70l5-4h75l5-4h30"/>
<path d="M640 764h55l5-4h95l5-4h110l5-4h120l5-4h135l5-4h100"/>
<path d="M1280 744h55l5-4h175l5-4h195l5-4h200"/>
<path d="M1920 732h15l5-4h135"/>
<path d="M0 644l5-4h10l5-4h10l5-4h10l5-4h10l5-4h15l5-4h20l5-4h15l5-4h20l5-4h25l5-4h25l5-4h30l5-4h30l5-4h35l5-4h40l5-4h40l5-4h45l5-4h55l5-4h55l5-4h55"/>
<path d="M640 568h5l5-4h70l5-4h75l5-4h85l5-4h90l5-4h95l5-4h110l5-4h75"/>
<path d="M1280 540h45l5-4h130l5-4h145l5-4h155l5-4h145"/>
<path d="M1920 524h25l5-4h125"/>
<path d="M0 848h15l5-4h40l5-4h55l5-4h70l5-4h95l5-4h120l5-4h155l5-4h55"/>
<path d="M640 820h145l5-4h255l5-4h230"/>
<path d="M1280 812h100l5-4h425l5-4h105"/>
<path d="M1920 804h155"/>
<path d="M0 696l5-4h10l5-4h10l5-4h10l5-4h10l5-4h15l5-4h15l5-4h20l5-4h20l5-4h20l5-4h25l5-4h25l5-4h30l5-4h30l5-4h35l5-4h40l5-4h45l5-4h45l5-4h50l5-4h60l5-4h25"/>
<path d="M640 616h35l5-4h70l5-4h75l5-4h80l5-4h90l5-4h95l5-4h110l5-4h50"/>
<path d="M1280 588h65l5-4h130l5-4h135l5-4h155l5-4h135"/>
<path d="M1920 572h30l5-4h120"/>
<path d="M0 788h25l5-4h85l5-4h120l5-4h180l5-4h210"/>
<path d="M640 772h60l5-4h400l5-4h170"/>
<path d="M1280 764h425l5-4h210"/>
<path d="M1920 760h155"/>
<path d="M0 880h15l5-4h35l5-4h45l5-4h65l5-4h75l5-4h100l5-4h120l5-4h150"/>
<path d="M640 852h10l5-4h195l5-4h250l5-4h170"/>
<path d="M1280 840h140l5-4h395l5-4h95"/>
<path d="M1920 832h155"/>
<path d="M0 860h5l5-4h5l5-4h10l5-4h15l5-4h10l5-4h15l5-4h15l5-4h15l5-4h20l5-4h25l5-4h25l5-4h25l5-4h30l5-4h30l5-4h35l5-4h40l5-4h45l5-4h45l5-4h55l5-4h55l5-4h20"/>
<path d="M640 780h45l5-4h65l5-4h75l5-4h85l5-4h90l5-4h95l5-4h110l5-4h40"/>
<path d="M1280 752h75l5-4h130l5-4h140l5-4h150l5-4h125"/>
<path d="M1920 736h40l5-4h110"/>
<path d="M0 740h10l5-4h25l5-4h30l5-4h35l5-4h45l5-4h50l5-4h65l5-4h75l5-4h95l5-4h105l5-4h55"/>
<path d="M640 700h75l5-4h155l5-4h185l5-4h210"/>
<path d="M1280 688h10l5-4h260l5-4h310l5-4h45"/>
<path d="M1920 676h155"/>
<path d="M0 576l5-4h5l5-4h5l5-4h5l5-4h10l5-4h5l5-4h10l5-4h10l5-4h10l5-4h15l5-4h10l5-4h15l5-4h15l5-4h15l5-4h20l5-4h20l5-4h20l5-4h25l5-4h25l5-4h30l5-4h25l5-4h35l5-4h35l5-4h35l5-4h40l5-4h40l5-4h30"/>
<path d="M640 472h15l5-4h50l5-4h55l5-4h55l5-4h60l5-4h65l5-4h70l5-4h75l5-4h80l5-4h70"/>
<path d="M1280 436h15l5-4h90l5-4h100l5-4h105l5-4h110l5-4h120l5-4h70"/>
<path d="M1920 412h60l5-4h90"/>
<path d="M0 804l5-4h5l5-4h10l5-4h5l5-4h10l5-4h10l5-4h10l5-4h15l5-4h10l5-4h15l5-4h15l5-4h20l5-4h20l5-4h20l5-4h25l5-4h25l5-4h25l5-4h30l5-4h35l5-4h35l5-4h40l5-4h40l5-4h45l5-4h50l5-4h5"/>
<path d="M640 708h45l5-4h55l5-4h65l5-4h65l5-4h70l5-4h80l5-4h80l5-4h90l5-4h50"/>
<path d="M1280 676h50l5-4h105l5-4h110l5-4h120l5-4h135l5-4h95"/>
<path d="M1920 656h45l5-4h105"/>
<path d="M0 696l5-4h5l5-4h5l5-4h5l5-4h5l5-4h10l5-4h5l5-4h10l5-4h10l5-4h10l5-4h10l5-4h15l5-4h15l5-4h15l5-4h15l5-4h20l5-4h15l5-4h20l5-4h25l5-4h25l5-4h25l5-4h25l5-4h30l5-4h35l5-4h35l5-4h35l5-4h40l5-4h40"/>
<path d="M640 588h5l5-4h45l5-4h45l5-4h55l5-4h55l5-4h60l5-4h65l5-4h65l5-4h75l5-4h80l5-4h40"/>
<path d="M1280 548h40l5-4h90l5-4h95l5-4h100l5-4h105l5-4h115l5-4h65"/>
<path d="M1920 524h60l5-4h90"/>
<path d="M0 824h85l5-4h345l5-4h200"/>
<path d="M640 816h640"/>
<path d="M1280 816h35l5-4h600"/>
<path d="M1920 812h155"/>
<path d="M0 676l15-12h5l10-8h5l5-4h5l10-8h5l5-4h5l5-4h5l5-4h5l5-4h10l5-4h5l5-4h5l5-4h10l5-4h10l5-4h5l5-4h10l5-4h10l5-4h10l5-4h15l5-4h10l5-4h15l5-4h15l5-4h10l5-4h20l5-4h15l5-4h15l5-4h20l5-4h20l5-4h20l5-4h25l5-4h20l5-4h25l5-4h25l5-4h30l5-4h25l5-4h15"/>
<path d="M640 524h20l5-4h30l5-4h35l5-4h35l5-4h35l5-4h40l5-4h40l5-4h45l5-4h45l5-4h45l5-4h50l5-4h55l5-4h55l5-4h45"/>
<path d="M1280 472h10l5-4h60l5-4h65l5-4h65l5-4h70l5-4h75l5-4h75l5-4h80l5-4h85l5-4h10"/>
<path d="M1920 436h80l5-4h70"/>
<path d="M0 712l10-8h5l10-8h5l5-4h5l5-4h5l10-8h10l5-4h5l5-4h5l5-4h5l5-4h10l5-4h5l5-4h10l5-4h10l5-4h10l5-4h10l5-4h10l5-4h15l5-4h10l5-4h15l5-4h15l5-4h15l5-4h20l5-4h15l5-4h20l5-4h20l5-4h20l5-4h25l5-4h25l5-4h25l5-4h25l5-4h30l5-4h30l5-4h30"/>
<path d="M640 572l5-4h35l5-4h35l5-4h35l5-4h40l5-4h45l5-4h40l5-4h50l5-4h45l5-4h55l5-4h55l5-4h55l5-4h60l5-4h25"/>
<path d="M1280 520h40l5-4h65l5-4h70l5-4h75l5-4h75l5-4h85l5-4h85l5-4h90l5-4h15"/>
<path d="M1920 488h80l5-4h70"/>
<path d="M0 608l5-4h5l5-4h10l5-4h5l5-4h10l5-4h10l5-4h10l5-4h10l5-4h15l5-4h15l5-4h15l5-4h20l5-4h20l5-4h20l5-4h25l5-4h25l5-4h25l5-4h30l5-4h35l5-4h35l5-4h35l5-4h45l5-4h40l5-4h50l5-4h10"/>
<path d="M640 512h45l5-4h55l5-4h60l5-4h65l5-4h75l5-4h75l5-4h80l5-4h90l5-4h55"/>
<path d="M1280 480h45l5-4h100l5-4h115l5-4h120l5-4h130l5-4h105"/>
<path d="M1920 460h30l5-4h120"/>
<path d="M0 692h5l5-4h10l5-4h15l5-4h15l5-4h20l5-4h25l5-4h25l5-4h25l5-4h35l5-4h35l5-4h45l5-4h45l5-4h55l5-4h60l5-4h65l5-4h75l5-4h5"/>
<path d="M640 628h80l5-4h95l5-4h105l5-4h120l5-4h130l5-4h85"/>
<path d="M1280 608h65l5-4h165l5-4h185l5-4h210"/>
<path d="M1920 596l5-4h150"/>
</g>
<g transform="translate(328 2.1) scale(1.34 0.5025)" fill="none" stroke="#00ff00" stroke-width="2.19" shape-rendering="crispEdges">
<path d="M0 4944l6-16v-8l9-24v-8l6-16v-8l15-40v-8l54-144h3l9-24h3l9-24h3l6-16h3l6-16h3l6-16h3l3-8h3l6-16h3l3-8h3l3-8h3l3-8h3l6-16h3l3-8h3l3-8h3l3-8h3l3-8h3l3-8h6l3-8h3l3-8h3l3-8h3l3-8h6l3-8h3l3-8h3l3-8h6l3-8h3l3-8h6l3-8h6l3-8h3l3-8h6l3-8h6l3-8h6l3-8h6l3-8h6l3-8h6l3-8h6l3-8h6l3-8h6l3-8h6l3-8h9l3-8h6l3-8h9l3-8h6l3-8h9l3-8h9l3-8h9l3-8h9l3-8h9l3-8h9l3-8h9l3-8h9l3-8h12l3-8h9l3-8h12l3-8h9l3-8h12l3-8h12l3-8h12l3-8h12l3-8h12l3-8h12l3-8h15l3-8h12l3-8h15l3-8h12l3-8h15l3-8h15l3-8h15l3-8h15l3-8h18l3-8h15l3-8h18l3-8h18l3-8h18l3-8h18l3-8h18l3-8h18l3-8h21l3-8h18l3-8h21l3-8h21l3-8h21l3-8h24l3-8h21l3-8h24l3-8h24l3-8h24l3-8h21"/>
<path d="M0 4944l6-16v-8l6-16v-8l6-16v-8l12-32v-8l66-176h3l9-24h3l9-24h3l6-16h3l6-16h3l3-8h3l6-16h3l3-8h3l6-16h3l3-8h3l3-8h3l3-8h3l3-8h3l3-8h3l3-8h3l3-8h3l3-8h3l3-8h3l3-8h6l3-8h3l3-8h3l3-8h3l3-8h6l3-8h3l3-8h6l3-8h3l3-8h6l3-8h6l3-8h3l3-8h6l3-8h6l3-8h6l3-8h6l3-8h6l3-8h6l3-8h6l3-8h6l3-8h9l3-8h6l3-8h6l3-8h9l3-8h9l3-8h6l3-8h9l3-8h9l3-8h9l3-8h9l3-8h9l3-8h9l3-8h9l3-8h9l3-8h12l3-8h9l3-8h12l3-8h9l3-8h12l3-8h12l3-8h12l3-8h12l3-8h12l3-8h15l3-8h12l3-8h15l3-8h12l3-8h15l3-8h15l3-8h15l3-8h15l3-8h15l3-8h18l3-8h15l3-8h18l3-8h18l3-8h18l3-8h18l3-8h18l3-8h18l3-8h21l3-8h21l3-8h21l3-8h21l3-8h21l3-8h21l3-8h24l3-8h24l3-8h21l3-8h27l3-8h3"/>
<path d="M0 4944l6-16v-8l6-16v-8l9-24v-8l12-32v-8l54-144h3l9-24h3l9-24h3l6-16h3l6-16h3l6-16h3l3-8h3l6-16h3l3-8h3l3-8h3l3-8h3l3-8h3l6-16h3l3-8h3l3-8h6l3-8h3l3-8h3l3-8h3l3-8h3l3-8h6l3-8h3l3-8h3l3-8h6l3-8h3l3-8h6l3-8h3l3-8h6l3-8h6l3-8h6l3-8h3l3-8h6l3-8h6l3-8h6l3-8h6l3-8h9l3-8h6l3-8h6l3-8h6l3-8h9l3-8h6l3-8h9l3-8h9l3-8h6l3-8h9l3-8h9l3-8h9l3-8h9l3-8h9l3-8h12l3-8h9l3-8h12l3-8h9l3-8h12l3-8h12l3-8h9l3-8h12l3-8h12l3-8h15l3-8h12l3-8h12l3-8h15l3-8h12l3-8h15l3-8h15l3-8h15l3-8h15l3-8h15l3-8h18l3-8h15l3-8h18l3-8h18l3-8h18l3-8h18l3-8h18l3-8h21l3-8h18l3-8h21l3-8h21l3-8h21l3-8h21l3-8h24l3-8h21l3-8h24l3-8h24l3-8h24l3-8h27"/>
<path d="M0 4944l3-8v-8l6-16v-8l9-24v-8l12-32v-8l60-160h3l9-24h3l6-16h3l6-16h3l6-16h3l6-16h3l3-8h3l6-16h3l3-8h3l3-8h3l6-16h3l3-8h3l3-8h3l3-8h3l3-8h3l3-8h3l3-8h6l3-8h3l3-8h3l3-8h3l3-8h6l3-8h3l3-8h3l3-8h6l3-8h6l3-8h3l3-8h6l3-8h6l3-8h3l3-8h6l3-8h6l3-8h6l3-8h6l3-8h6l3-8h6l3-8h9l3-8h6l3-8h6l3-8h9l3-8h6l3-8h9l3-8h6l3-8h9l3-8h9l3-8h9l3-8h9l3-8h9l3-8h9l3-8h12l3-8h9l3-8h9l3-8h12l3-8h12l3-8h9l3-8h12l3-8h12l3-8h12l3-8h12l3-8h15l3-8h12l3-8h15l3-8h12l3-8h15l3-8h15l3-8h15l3-8h15l3-8h15l3-8h18l3-8h15l3-8h18l3-8h18l3-8h18l3-8h18l3-8h18l3-8h18l3-8h21l3-8h21l3-8h21l3-8h21l3-8h21l3-8h24l3-8h21l3-8h24l3-8h24l3-8h24l3-8h27"/>
<path d="M0 4944l3-8v-8l6-16v-8l6-16v-8l12-32v-8l18-48v-8l39-104h3l9-24h3l9-24h3l6-16h3l6-16h3l6-16h3l6-16h3l3-8h3l6-16h3l3-8h3l3-8h3l3-8h3l3-8h3l3-8h3l3-8h3l3-8h3l3-8h3l3-8h3l3-8h3l3-8h3l3-8h6l3-8h3l3-8h3l3-8h6l3-8h3l3-8h6l3-8h3l3-8h6l3-8h6l3-8h3l3-8h6l3-8h6l3-8h6l3-8h6l3-8h6l3-8h6l3-8h6l3-8h9l3-8h6l3-8h6l3-8h9l3-8h6l3-8h9l3-8h9l3-8h6l3-8h9l3-8h9l3-8h9l3-8h9l3-8h12l3-8h9l3-8h9l3-8h12l3-8h9l3-8h12l3-8h12l3-8h12l3-8h12l3-8h12l3-8h12l3-8h12l3-8h15l3-8h12l3-8h15l3-8h12l3-8h15l3-8h15l3-8h15l3-8h18l3-8h15l3-8h18l3-8h15l3-8h18l3-8h18l3-8h18l3-8h21l3-8h18l3-8h21l3-8h18l3-8h21l3-8h21l3-8h24l3-8h21l3-8h24l3-8h21l3-8h24l3-8h27l3-8h15"/>
<path d="M0 4936l6-16v-8l6-16v-8l9-24v-8l12-32v-8l63-168h3l9-24h3l9-24h3l6-16h3l6-16h3l3-8h3l6-16h3l3-8h3l6-16h3l3-8h3l3-8h3l3-8h3l3-8h3l3-8h3l3-8h3l3-8h3l3-8h3l3-8h3l3-8h3l3-8h3l3-8h6l3-8h3l3-8h3l3-8h6l3-8h3l3-8h6l3-8h3l3-8h6l3-8h6l3-8h3l3-8h6l3-8h6l3-8h6l3-8h6l3-8h6l3-8h6l3-8h6l3-8h9l3-8h6l3-8h6l3-8h9l3-8h6l3-8h9l3-8h9l3-8h6l3-8h9l3-8h9l3-8h9l3-8h9l3-8h9l3-8h12l3-8h9l3-8h9l3-8h12l3-8h9l3-8h12l3-8h12l3-8h12l3-8h12l3-8h12l3-8h12l3-8h15l3-8h12l3-8h15l3-8h12l3-8h15l3-8h15l3-8h15l3-8h15l3-8h15l3-8h18l3-8h15l3-8h18l3-8h18l3-8h18l3-8h18l3-8h18l3-8h21l3-8h18l3-8h21l3-8h21l3-8h21l3-8h21l3-8h21l3-8h24l3-8h24l3-8h24l3-8h21"/>
<path d="M0 4936l6-16v-8l6-16v-8l9-24v-8l15-40v-8l54-144h3l9-24h3l6-16h3l9-24h3l6-16h3l3-8h3l6-16h3l3-8h3l6-16h3l3-8h3l3-8h3l3-8h3l3-8h3l3-8h3l3-8h3l3-8h3l3-8h3l3-8h3l3-8h3l3-8h6l3-8h3l3-8h3l3-8h6l3-8h3l3-8h6l3-8h3l3-8h6l3-8h3l3-8h6l3-8h6l3-8h6l3-8h6l3-8h6l3-8h6l3-8h6l3-8h6l3-8h6l3-8h6l3-8h9l3-8h6l3-8h9l3-8h6l3-8h9l3-8h9l3-8h9l3-8h6l3-8h9l3-8h12l3-8h9l3-8h9l3-8h9l3-8h12l3-8h9l3-8h12l3-8h12l3-8h9l3-8h12l3-8h12l3-8h12l3-8h15l3-8h12l3-8h15l3-8h12l3-8h15l3-8h15l3-8h15l3-8h15l3-8h15l3-8h15l3-8h18l3-8h15l3-8h18l3-8h18l3-8h18l3-8h18l3-8h21l3-8h18l3-8h21l3-8h21l3-8h21l3-8h21l3-8h21l3-8h24l3-8h21l3-8h24l3-8h24l3-8h24l3-8h3"/>
<path d="M0 4936l6-16v-8l6-16v-8l9-24v-8l15-40v-8l48-128h3l9-24h3l9-24h3l6-16h3l6-16h3l6-16h3l3-8h3l6-16h3l3-8h3l3-8h3l3-8h3l6-16h3l3-8h3l3-8h3l3-8h3l3-8h6l3-8h3l3-8h3l3-8h3l3-8h3l3-8h6l3-8h3l3-8h6l3-8h3l3-8h6l3-8h3l3-8h6l3-8h6l3-8h3l3-8h6l3-8h6l3-8h6l3-8h6l3-8h6l3-8h6l3-8h9l3-8h6l3-8h6l3-8h9l3-8h6l3-8h9l3-8h9l3-8h6l3-8h9l3-8h9l3-8h9l3-8h9l3-8h9l3-8h12l3-8h9l3-8h9l3-8h12l3-8h12l3-8h9l3-8h12l3-8h12l3-8h12l3-8h12l3-8h15l3-8h12l3-8h15l3-8h12l3-8h15l3-8h15l3-8h15l3-8h15l3-8h15l3-8h18l3-8h15l3-8h18l3-8h18l3-8h18l3-8h18l3-8h21l3-8h18l3-8h21l3-8h18l3-8h21l3-8h24l3-8h21l3-8h21l3-8h24l3-8h24l3-8h24l3-8h24l3-8h27"/>
<path d="M0 4936l3-8v-8l9-24v-8l9-24v-8l12-32v-8l51-136h3l12-32h3l6-16h3l6-16h3l6-16h3l6-16h3l3-8h3l6-16h3l3-8h3l3-8h3l6-16h3l3-8h3l3-8h3l3-8h3l3-8h3l3-8h3l3-8h3l3-8h6l3-8h3l3-8h3l3-8h6l3-8h3l3-8h3l3-8h6l3-8h3l3-8h6l3-8h6l3-8h3l3-8h6l3-8h6l3-8h6l3-8h6l3-8h6l3-8h6l3-8h6l3-8h6l3-8h9l3-8h6l3-8h6l3-8h9l3-8h9l3-8h6l3-8h9l3-8h9l3-8h9l3-8h9l3-8h9l3-8h9l3-8h9l3-8h12l3-8h9l3-8h12l3-8h9l3-8h12l3-8h12l3-8h12l3-8h12l3-8h12l3-8h15l3-8h12l3-8h15l3-8h12l3-8h15l3-8h15l3-8h15l3-8h15l3-8h15l3-8h18l3-8h15l3-8h18l3-8h18l3-8h18l3-8h18l3-8h18l3-8h21l3-8h21l3-8h18l3-8h21l3-8h21l3-8h24l3-8h21l3-8h24l3-8h24l3-8h24l3-8h24l3-8h27"/>
<path d="M0 4936l3-8v-8l6-16v-8l9-24v-8l9-24v-8l66-176h3l9-24h3l6-16h3l6-16h3l6-16h3l6-16h3l3-8h3l6-16h3l3-8h3l3-8h3l3-8h3l3-8h3l3-8h3l3-8h3l3-8h3l3-8h3l3-8h3l3-8h3l3-8h3l3-8h3l3-8h6l3-8h3l3-8h6l3-8h3l3-8h6l3-8h3l3-8h6l3-8h3l3-8h6l3-8h6l3-8h6l3-8h6l3-8h6l3-8h6l3-8h6l3-8h6l3-8h6l3-8h9l3-8h6l3-8h9l3-8h6l3-8h9l3-8h6l3-8h9l3-8h9l3-8h9l3-8h9l3-8h9l3-8h9l3-8h12l3-8h9l3-8h12l3-8h9l3-8h12l3-8h12l3-8h9l3-8h12l3-8h15l3-8h12l3-8h12l3-8h12l3-8h15l3-8h15l3-8h12l3-8h15l3-8h15l3-8h18l3-8h15l3-8h15l3-8h18l3-8h18l3-8h15l3-8h18l3-8h21l3-8h18l3-8h18l3-8h21l3-8h21l3-8h21l3-8h21l3-8h21l3-8h24l3-8h21l3-8h24l3-8h24l3-8h24l3-8h18"/>
<path d="M0 4928l9-24v-8l6-16v-8l9-24v-8l12-32v-8l54-144h3l9-24h3l9-24h3l6-16h3l6-16h3l6-16h3l3-8h3l6-16h3l3-8h3l3-8h3l3-8h3l6-16h3l3-8h3l3-8h3l3-8h3l3-8h3l3-8h6l3-8h3l3-8h3l3-8h3l3-8h3l3-8h6l3-8h3l3-8h6l3-8h3l3-8h6l3-8h3l3-8h6l3-8h6l3-8h6l3-8h3l3-8h6l3-8h6l3-8h6l3-8h9l3-8h6l3-8h6l3-8h6l3-8h9l3-8h6l3-8h9l3-8h6l3-8h9l3-8h9l3-8h6l3-8h9l3-8h9l3-8h9l3-8h9l3-8h12l3-8h9l3-8h9l3-8h12l3-8h12l3-8h9l3-8h12l3-8h12l3-8h12l3-8h12l3-8h12l3-8h15l3-8h12l3-8h15l3-8h12l3-8h15l3-8h15l3-8h15l3-8h15l3-8h18l3-8h15l3-8h18l3-8h15l3-8h18l3-8h18l3-8h21l3-8h18l3-8h18l3-8h21l3-8h21l3-8h21l3-8h21l3-8h21l3-8h21l3-8h24l3-8h24l3-8h24l3-8h27"/>
<path d="M0 4928l6-16v-8l9-24v-8l9-24v-8l15-40v-8l45-120h3l12-32h3l6-16h3l6-16h3l6-16h3l6-16h3l6-16h3l3-8h3l6-16h3l3-8h3l3-8h3l3-8h3l3-8h3l3-8h3l3-8h3l3-8h3l3-8h3l3-8h3l3-8h3l3-8h6l3-8h3l3-8h3l3-8h6l3-8h3l3-8h3l3-8h6l3-8h6l3-8h3l3-8h6l3-8h6l3-8h6l3-8h6l3-8h6l3-8h6l3-8h6l3-8h6l3-8h6l3-8h6l3-8h9l3-8h6l3-8h9l3-8h6l3-8h9l3-8h9l3-8h6l3-8h9l3-8h9l3-8h9l3-8h12l3-8h9l3-8h9l3-8h12l3-8h9l3-8h12l3-8h9l3-8h12l3-8h12l3-8h12l3-8h12l3-8h15l3-8h12l3-8h15l3-8h12l3-8h15l3-8h15l3-8h15l3-8h15l3-8h15l3-8h15l3-8h18l3-8h18l3-8h15l3-8h18l3-8h18l3-8h21l3-8h18l3-8h21l3-8h18l3-8h21l3-8h21l3-8h21l3-8h24l3-8h21l3-8h24l3-8h24l3-8h24l3-8h27l3-8"/>
<path d="M0 4928l6-16v-8l6-16v-8l9-24v-8l15-40v-8l48-128h3l9-24h3l9-24h3l6-16h3l6-16h3l6-16h3l6-16h3l3-8h3l3-8h3l6-16h3l3-8h3l3-8h3l3-8h3l3-8h3l3-8h3l3-8h3l3-8h3l3-8h3l3-8h6l3-8h3l3-8h3l3-8h6l3-8h3l3-8h6l3-8h3l3-8h6l3-8h3l3-8h6l3-8h6l3-8h3l3-8h6l3-8h6l3-8h6l3-8h6l3-8h6l3-8h9l3-8h6l3-8h6l3-8h9l3-8h6l3-8h9l3-8h6l3-8h9l3-8h9l3-8h9l3-8h9l3-8h9l3-8h9l3-8h9l3-8h9l3-8h12l3-8h9l3-8h12l3-8h12l3-8h9l3-8h12l3-8h12l3-8h12l3-8h15l3-8h12l3-8h12l3-8h15l3-8h15l3-8h15l3-8h12l3-8h18l3-8h15l3-8h15l3-8h18l3-8h15l3-8h18l3-8h18l3-8h18l3-8h18l3-8h18l3-8h21l3-8h21l3-8h21l3-8h21l3-8h21l3-8h21l3-8h24l3-8h21l3-8h24l3-8h24l3-8h27l3-8h12"/>
<path d="M0 4928l6-16v-8l6-16v-8l9-24v-8l12-32v-8l54-144h3l12-32h3l6-16h3l6-16h3l6-16h3l6-16h3l3-8h3l6-16h3l3-8h3l3-8h3l3-8h3l6-16h3l3-8h3l3-8h3l3-8h3l3-8h6l3-8h3l3-8h3l3-8h3l3-8h3l3-8h6l3-8h3l3-8h6l3-8h3l3-8h6l3-8h3l3-8h6l3-8h6l3-8h6l3-8h3l3-8h6l3-8h6l3-8h6l3-8h6l3-8h9l3-8h6l3-8h6l3-8h6l3-8h9l3-8h6l3-8h9l3-8h9l3-8h6l3-8h9l3-8h9l3-8h9l3-8h9l3-8h9l3-8h12l3-8h9l3-8h12l3-8h9l3-8h12l3-8h9l3-8h12l3-8h12l3-8h12l3-8h12l3-8h15l3-8h12l3-8h15l3-8h12l3-8h15l3-8h15l3-8h15l3-8h15l3-8h15l3-8h18l3-8h15l3-8h18l3-8h18l3-8h18l3-8h18l3-8h18l3-8h21l3-8h18l3-8h21l3-8h21l3-8h21l3-8h21l3-8h24l3-8h21l3-8h24l3-8h24l3-8h24l3-8h27"/>
<path d="M0 4928l3-8v-8l6-16v-8l9-24v-8l9-24v-8l66-176h3l9-24h3l6-16h3l9-24h3l3-8h3l6-16h3l3-8h3l6-16h3l3-8h3l3-8h3l6-16h3l3-8h3l3-8h3l3-8h3l3-8h3l3-8h3l3-8h6l3-8h3l3-8h3l3-8h3l3-8h6l3-8h3l3-8h6l3-8h3l3-8h6l3-8h3l3-8h6l3-8h6l3-8h3l3-8h6l3-8h6l3-8h6l3-8h6l3-8h6l3-8h6l3-8h9l3-8h6l3-8h6l3-8h9l3-8h6l3-8h9l3-8h9l3-8h6l3-8h9l3-8h9l3-8h9l3-8h9l3-8h9l3-8h12l3-8h9l3-8h9l3-8h12l3-8h9l3-8h12l3-8h12l3-8h12l3-8h12l3-8h12l3-8h12l3-8h15l3-8h12l3-8h15l3-8h15l3-8h12l3-8h15l3-8h18l3-8h15l3-8h15l3-8h18l3-8h15l3-8h18l3-8h18l3-8h18l3-8h18l3-8h21l3-8h18l3-8h21l3-8h21l3-8h21l3-8h21l3-8h21l3-8h24l3-8h24l3-8h24l3-8h24l3-8h27"/>
<path d="M0 4928l3-8v-8l6-16v-8l9-24v-8l9-24v-8l63-168h3l9-24h3l6-16h3l6-16h3l6-16h3l6-16h3l3-8h3l6-16h3l3-8h3l3-8h3l3-8h3l3-8h3l3-8h3l3-8h3l3-8h3l3-8h3l3-8h3l3-8h3l3-8h3l3-8h6l3-8h3l3-8h3l3-8h6l3-8h3l3-8h6l3-8h3l3-8h6l3-8h6l3-8h3l3-8h6l3-8h6l3-8h6l3-8h6l3-8h6l3-8h6l3-8h9l3-8h6l3-8h6l3-8h9l3-8h6l3-8h9l3-8h6l3-8h9l3-8h9l3-8h9l3-8h9l3-8h9l3-8h9l3-8h9l3-8h12l3-8h9l3-8h12l3-8h9l3-8h12l3-8h12l3-8h12l3-8h12l3-8h12l3-8h12l3-8h15l3-8h12l3-8h15l3-8h15l3-8h12l3-8h15l3-8h18l3-8h15l3-8h15l3-8h18l3-8h15l3-8h18l3-8h18l3-8h18l3-8h21l3-8h18l3-8h21l3-8h18l3-8h21l3-8h24l3-8h21l3-8h21l3-8h24l3-8h24l3-8h24l3-8h24l3-8h27l3-8h3"/>
<path d="M0 4920l6-16v-8l9-24v-8l9-24v-8l18-48v-8l42-112h3l9-24h3l9-24h3l6-16h3l6-16h3l6-16h3l6-16h3l3-8h3l3-8h3l6-16h3l3-8h3l3-8h3l3-8h3l3-8h3l3-8h3l3-8h3l3-8h3l3-8h3l3-8h3l3-8h6l3-8h3l3-8h3l3-8h6l3-8h3l3-8h6l3-8h3l3-8h6l3-8h3l3-8h6l3-8h6l3-8h6l3-8h6l3-8h6l3-8h6l3-8h6l3-8h6l3-8h6l3-8h9l3-8h6l3-8h6l3-8h9l3-8h6l3-8h9l3-8h9l3-8h9l3-8h9l3-8h9l3-8h9l3-8h9l3-8h9l3-8h9l3-8h12l3-8h9l3-8h12l3-8h12l3-8h12l3-8h12l3-8h12l3-8h12l3-8h12l3-8h12l3-8h15l3-8h15l3-8h12l3-8h15l3-8h15l3-8h15l3-8h15l3-8h18l3-8h15l3-8h18l3-8h18l3-8h18l3-8h18l3-8h18l3-8h21l3-8h18l3-8h21l3-8h21l3-8h21l3-8h21l3-8h21l3-8h24l3-8h24l3-8h24l3-8h24l3-8h27"/>
<path d="M0 4920l6-16v-8l6-16v-8l9-24v-8l15-40v-8l51-136h3l12-32h3l6-16h3l6-16h3l6-16h3l6-16h3l6-16h3l3-8h3l3-8h3l6-16h3l3-8h3l3-8h3l3-8h3l3-8h3l3-8h3l3-8h3l3-8h3l3-8h3l3-8h6l3-8h3l3-8h3l3-8h6l3-8h3l3-8h3l3-8h6l3-8h6l3-8h3l3-8h6l3-8h6l3-8h3l3-8h6l3-8h6l3-8h6l3-8h6l3-8h6l3-8h6l3-8h9l3-8h6l3-8h6l3-8h9l3-8h6l3-8h9l3-8h9l3-8h9l3-8h6l3-8h9l3-8h9l3-8h9l3-8h12l3-8h9l3-8h9l3-8h12l3-8h9l3-8h12l3-8h12l3-8h9l3-8h12l3-8h15l3-8h12l3-8h12l3-8h12l3-8h15l3-8h15l3-8h12l3-8h15l3-8h15l3-8h15l3-8h18l3-8h15l3-8h15l3-8h18l3-8h18l3-8h18l3-8h18l3-8h18l3-8h21l3-8h18l3-8h21l3-8h21l3-8h21l3-8h21l3-8h24l3-8h21l3-8h24l3-8h24l3-8h24l3-8h21"/>
<path d="M0 4920l6-16v-8l6-16v-8l6-16v-8l9-24v-8l18-48v-8l42-112h3l12-32h3l9-24h3l6-16h3l6-16h3l6-16h3l3-8h3l6-16h3l3-8h3l3-8h3l6-16h3l3-8h3l3-8h3l3-8h3l3-8h3l3-8h3l3-8h3l3-8h3l3-8h6l3-8h3l3-8h3l3-8h3l3-8h6l3-8h3l3-8h6l3-8h3l3-8h6l3-8h3l3-8h6l3-8h6l3-8h6l3-8h3l3-8h6l3-8h6l3-8h6l3-8h6l3-8h9l3-8h6l3-8h6l3-8h9l3-8h6l3-8h9l3-8h6l3-8h9l3-8h9l3-8h6l3-8h9l3-8h9l3-8h9l3-8h9l3-8h12l3-8h9l3-8h9l3-8h12l3-8h12l3-8h9l3-8h12l3-8h12l3-8h12l3-8h12l3-8h12l3-8h15l3-8h12l3-8h15l3-8h12l3-8h15l3-8h15l3-8h15l3-8h15l3-8h15l3-8h18l3-8h15l3-8h18l3-8h18l3-8h18l3-8h18l3-8h18l3-8h18l3-8h21l3-8h21l3-8h21l3-8h21l3-8h21l3-8h21l3-8h24l3-8h21l3-8h24l3-8h27"/>
<path d="M0 4920l3-8v-8l6-16v-8l9-24v-8l12-32v-8l60-160h3l9-24h3l9-24h3l6-16h3l6-16h3l3-8h3l6-16h3l3-8h3l6-16h3l3-8h3l3-8h3l3-8h3l3-8h3l3-8h3l3-8h3l3-8h3l3-8h3l3-8h3l3-8h6l3-8h3l3-8h3l3-8h6l3-8h3l3-8h3l3-8h6l3-8h6l3-8h3l3-8h6l3-8h6l3-8h3l3-8h6l3-8h6l3-8h6l3-8h6l3-8h9l3-8h6l3-8h6l3-8h6l3-8h9l3-8h6l3-8h9l3-8h6l3-8h9l3-8h9l3-8h9l3-8h9l3-8h9l3-8h9l3-8h9l3-8h9l3-8h12l3-8h9l3-8h12l3-8h12l3-8h9l3-8h12l3-8h12l3-8h12l3-8h15l3-8h12l3-8h12l3-8h15l3-8h15l3-8h15l3-8h12l3-8h18l3-8h15l3-8h15l3-8h18l3-8h15l3-8h18l3-8h18l3-8h18l3-8h18l3-8h18l3-8h21l3-8h18l3-8h21l3-8h21l3-8h21l3-8h24l3-8h21l3-8h24l3-8h24l3-8h24l3-8h24l3-8h12"/>
<path d="M0 4920l3-8v-8l6-16v-8l6-16v-8l9-24v-8l18-48v-8l45-120h3l12-32h3l6-16h3l9-24h3l3-8h3l6-16h3l6-16h3l3-8h3l6-16h3l3-8h3l3-8h3l3-8h3l3-8h3l3-8h3l3-8h3l3-8h3l3-8h3l3-8h3l3-8h3l3-8h3l3-8h6l3-8h3l3-8h3l3-8h6l3-8h3l3-8h6l3-8h3l3-8h6l3-8h6l3-8h3l3-8h6l3-8h6l3-8h6l3-8h6l3-8h6l3-8h6l3-8h6l3-8h6l3-8h9l3-8h6l3-8h9l3-8h6l3-8h9l3-8h6l3-8h9l3-8h9l3-8h9l3-8h9l3-8h9l3-8h9l3-8h9l3-8h12l3-8h9l3-8h12l3-8h9l3-8h12l3-8h12l3-8h12l3-8h12l3-8h12l3-8h12l3-8h15l3-8h12l3-8h15l3-8h12l3-8h15l3-8h15l3-8h15l3-8h15l3-8h18l3-8h15l3-8h18l3-8h18l3-8h15l3-8h18l3-8h21l3-8h18l3-8h18l3-8h21l3-8h21l3-8h21l3-8h21l3-8h21l3-8h24l3-8h21l3-8h24l3-8h24l3-8h24"/>
<path d="M0 4912l9-24v-8l6-16v-8l12-32v-8l60-160h3l9-24h3l9-24h3l6-16h3l6-16h3l3-8h3l6-16h3l3-8h3l6-16h3l3-8h3l3-8h3l3-8h3l3-8h3l3-8h3l3-8h3l3-8h3l3-8h3l3-8h3l3-8h6l3-8h3l3-8h3l3-8h6l3-8h3l3-8h6l3-8h3l3-8h6l3-8h6l3-8h3l3-8h6l3-8h6l3-8h6l3-8h6l3-8h6l3-8h6l3-8h6l3-8h6l3-8h9l3-8h6l3-8h9l3-8h6l3-8h9l3-8h9l3-8h6l3-8h9l3-8h9l3-8h9l3-8h9l3-8h9l3-8h12l3-8h9l3-8h12l3-8h9l3-8h12l3-8h12l3-8h12l3-8h12l3-8h12l3-8h12l3-8h12l3-8h15l3-8h12l3-8h15l3-8h15l3-8h15l3-8h15l3-8h15l3-8h18l3-8h15l3-8h18l3-8h18l3-8h15l3-8h21l3-8h18l3-8h18l3-8h21l3-8h21l3-8h18l3-8h21l3-8h24l3-8h21l3-8h24l3-8h24l3-8h24l3-8h24l3-8h24l3-8h18"/>
<path d="M0 4912l6-16v-8l6-16v-8l9-24v-8l12-32v-8l60-160h3l9-24h3l6-16h3l6-16h3l6-16h3l6-16h3l6-16h3l3-8h3l3-8h3l6-16h3l3-8h3l3-8h3l3-8h3l3-8h3l3-8h3l3-8h3l3-8h3l3-8h3l3-8h6l3-8h3l3-8h3l3-8h6l3-8h3l3-8h6l3-8h3l3-8h6l3-8h3l3-8h6l3-8h6l3-8h3l3-8h6l3-8h6l3-8h6l3-8h6l3-8h6l3-8h6l3-8h9l3-8h6l3-8h6l3-8h9l3-8h6l3-8h9l3-8h9l3-8h6l3-8h9l3-8h9l3-8h9l3-8h9l3-8h9l3-8h12l3-8h9l3-8h9l3-8h12l3-8h9l3-8h12l3-8h12l3-8h12l3-8h12l3-8h12l3-8h12l3-8h15l3-8h12l3-8h15l3-8h12l3-8h15l3-8h15l3-8h15l3-8h15l3-8h18l3-8h15l3-8h18l3-8h18l3-8h15l3-8h18l3-8h21l3-8h18l3-8h18l3-8h21l3-8h21l3-8h21l3-8h21l3-8h21l3-8h24l3-8h21l3-8h24l3-8h24l3-8h27"/>
<path d="M0 4912l6-16v-8l6-16v-8l9-24v-8l12-32v-8l57-152h3l9-24h3l6-16h3l6-16h3l6-16h3l6-16h3l6-16h3l3-8h3l3-8h3l6-16h3l3-8h3l3-8h3l3-8h3l3-8h3l3-8h3l3-8h3l3-8h3l3-8h3l3-8h6l3-8h3l3-8h3l3-8h6l3-8h3l3-8h6l3-8h3l3-8h6l3-8h3l3-8h6l3-8h6l3-8h3l3-8h6l3-8h6l3-8h6l3-8h6l3-8h6l3-8h9l3-8h6l3-8h6l3-8h9l3-8h6l3-8h9l3-8h6l3-8h9l3-8h9l3-8h9l3-8h9l3-8h9l3-8h9l3-8h9l3-8h9l3-8h12l3-8h9l3-8h12l3-8h9l3-8h12l3-8h12l3-8h12l3-8h12l3-8h12l3-8h12l3-8h15l3-8h12l3-8h15l3-8h15l3-8h15l3-8h15l3-8h15l3-8h15l3-8h18l3-8h15l3-8h18l3-8h18l3-8h18l3-8h18l3-8h18l3-8h21l3-8h18l3-8h21l3-8h21l3-8h21l3-8h21l3-8h24l3-8h21l3-8h24l3-8h24l3-8h24l3-8h18"/>
<path d="M0 4912l6-16v-8l6-16v-8l9-24v-8l12-32v-8l54-144h3l9-24h3l6-16h3l9-24h3l3-8h3l6-16h3l6-16h3l3-8h3l3-8h3l6-16h3l3-8h3l3-8h3l3-8h3l3-8h3l3-8h3l3-8h3l3-8h3l3-8h3l3-8h6l3-8h3l3-8h3l3-8h6l3-8h3l3-8h3l3-8h6l3-8h6l3-8h3l3-8h6l3-8h6l3-8h6l3-8h3l3-8h6l3-8h6l3-8h6l3-8h9l3-8h6l3-8h6l3-8h6l3-8h9l3-8h6l3-8h9l3-8h9l3-8h6l3-8h9l3-8h9l3-8h9l3-8h9l3-8h9l3-8h9l3-8h12l3-8h9l3-8h12l3-8h9l3-8h12l3-8h12l3-8h12l3-8h12l3-8h12l3-8h12l3-8h15l3-8h12l3-8h15l3-8h12l3-8h15l3-8h15l3-8h15l3-8h18l3-8h15l3-8h18l3-8h15l3-8h18l3-8h18l3-8h18l3-8h18l3-8h21l3-8h18l3-8h21l3-8h21l3-8h21l3-8h21l3-8h24l3-8h21l3-8h24l3-8h24l3-8h24l3-8h27l3-8h6"/>
<path d="M0 4912l3-8v-8l6-16v-8l9-24v-8l9-24v-8l66-176h3l9-24h3l6-16h3l6-16h3l6-16h3l6-16h3l3-8h3l6-16h3l3-8h3l3-8h3l3-8h3l3-8h3l3-8h3l3-8h3l3-8h3l3-8h3l3-8h3l3-8h3l3-8h3l3-8h6l3-8h3l3-8h3l3-8h6l3-8h3l3-8h6l3-8h3l3-8h6l3-8h6l3-8h3l3-8h6l3-8h6l3-8h6l3-8h6l3-8h6l3-8h6l3-8h6l3-8h9l3-8h6l3-8h6l3-8h9l3-8h6l3-8h9l3-8h9l3-8h6l3-8h9l3-8h9l3-8h9l3-8h9l3-8h12l3-8h9l3-8h9l3-8h12l3-8h9l3-8h12l3-8h12l3-8h12l3-8h12l3-8h12l3-8h12l3-8h12l3-8h15l3-8h12l3-8h15l3-8h15l3-8h15l3-8h15l3-8h15l3-8h15l3-8h18l3-8h15l3-8h18l3-8h18l3-8h18l3-8h18l3-8h18l3-8h21l3-8h18l3-8h21l3-8h21l3-8h21l3-8h24l3-8h21l3-8h24l3-8h24l3-8h24l3-8h24l3-8h15"/>
<path d="M0 4904l9-24v-8l6-16v-8l9-24v-8l15-40v-8l51-136h3l9-24h3l6-16h3l9-24h3l6-16h3l3-8h3l6-16h3l3-8h3l6-16h3l3-8h3l3-8h3l3-8h3l3-8h3l6-16h6l3-8h3l3-8h3l3-8h3l3-8h3l3-8h3l3-8h3l3-8h6l3-8h3l3-8h6l3-8h3l3-8h6l3-8h3l3-8h6l3-8h3l3-8h6l3-8h6l3-8h6l3-8h6l3-8h6l3-8h6l3-8h6l3-8h6l3-8h6l3-8h9l3-8h6l3-8h9l3-8h6l3-8h9l3-8h6l3-8h9l3-8h9l3-8h9l3-8h9l3-8h9l3-8h9l3-8h9l3-8h12l3-8h9l3-8h12l3-8h9l3-8h12l3-8h12l3-8h12l3-8h12l3-8h12l3-8h12l3-8h15l3-8h12l3-8h15l3-8h15l3-8h12l3-8h15l3-8h15l3-8h18l3-8h15l3-8h15l3-8h18l3-8h18l3-8h18l3-8h18l3-8h18l3-8h18l3-8h21l3-8h18l3-8h21l3-8h21l3-8h21l3-8h24l3-8h21l3-8h24l3-8h24l3-8h24l3-8h21"/>
<path d="M0 4904l6-16v-8l9-24v-8l9-24v-8l21-56v-8l36-96h3l12-32h3l6-16h3l9-24h3l6-16h3l3-8h3l6-16h3l3-8h3l6-16h3l3-8h3l3-8h3l3-8h3l6-16h3l3-8h3l3-8h3l3-8h6l3-8h3l3-8h3l3-8h3l3-8h3l3-8h6l3-8h3l3-8h6l3-8h3l3-8h6l3-8h3l3-8h6l3-8h6l3-8h3l3-8h6l3-8h6l3-8h6l3-8h6l3-8h6l3-8h6l3-8h6l3-8h9l3-8h6l3-8h6l3-8h9l3-8h6l3-8h9l3-8h9l3-8h9l3-8h9l3-8h9l3-8h9l3-8h9l3-8h9l3-8h9l3-8h12l3-8h9l3-8h12l3-8h12l3-8h9l3-8h12l3-8h12l3-8h12l3-8h15l3-8h12l3-8h15l3-8h12l3-8h15l3-8h15l3-8h15l3-8h15l3-8h15l3-8h15l3-8h18l3-8h18l3-8h15l3-8h18l3-8h18l3-8h21l3-8h18l3-8h21l3-8h18l3-8h21l3-8h21l3-8h21l3-8h24l3-8h21l3-8h24l3-8h24l3-8h24l3-8h27l3-8h6"/>
<path d="M0 4904l6-16v-8l6-16v-8l9-24v-8l9-24v-8l66-176h3l9-24h3l6-16h3l6-16h3l6-16h3l6-16h3l3-8h3l6-16h3l3-8h3l3-8h3l3-8h3l3-8h3l3-8h3l3-8h3l3-8h3l3-8h3l3-8h3l3-8h3l3-8h3l3-8h3l3-8h6l3-8h3l3-8h3l3-8h6l3-8h3l3-8h6l3-8h3l3-8h6l3-8h6l3-8h6l3-8h3l3-8h6l3-8h6l3-8h6l3-8h6l3-8h6l3-8h9l3-8h6l3-8h6l3-8h9l3-8h6l3-8h9l3-8h6l3-8h9l3-8h9l3-8h9l3-8h9l3-8h9l3-8h9l3-8h9l3-8h9l3-8h12l3-8h9l3-8h12l3-8h9l3-8h12l3-8h12l3-8h12l3-8h12l3-8h12l3-8h15l3-8h12l3-8h12l3-8h15l3-8h15l3-8h15l3-8h15l3-8h15l3-8h15l3-8h18l3-8h15l3-8h18l3-8h15l3-8h18l3-8h21l3-8h18l3-8h18l3-8h21l3-8h18l3-8h21l3-8h21l3-8h24l3-8h21l3-8h21l3-8h24l3-8h24l3-8h24l3-8h12"/>
<path d="M0 4904l6-16v-8l6-16v-8l6-16v-8l9-24v-8l18-48v-8l42-112h3l12-32h3l6-16h3l9-24h3l6-16h3l3-8h3l6-16h3l6-16h3l3-8h3l3-8h3l3-8h3l6-16h3l3-8h3l3-8h3l3-8h3l3-8h3l3-8h3l3-8h6l3-8h3l3-8h3l3-8h3l3-8h6l3-8h3l3-8h3l3-8h6l3-8h3l3-8h6l3-8h6l3-8h3l3-8h6l3-8h6l3-8h6l3-8h6l3-8h6l3-8h6l3-8h6l3-8h6l3-8h6l3-8h9l3-8h6l3-8h9l3-8h6l3-8h9l3-8h6l3-8h9l3-8h9l3-8h9l3-8h9l3-8h9l3-8h9l3-8h9l3-8h12l3-8h9l3-8h12l3-8h9l3-8h12l3-8h12l3-8h12l3-8h12l3-8h12l3-8h12l3-8h15l3-8h12l3-8h15l3-8h12l3-8h15l3-8h15l3-8h15l3-8h15l3-8h18l3-8h15l3-8h18l3-8h15l3-8h18l3-8h18l3-8h21l3-8h18l3-8h18l3-8h21l3-8h21l3-8h21l3-8h21l3-8h21l3-8h21l3-8h24l3-8h24l3-8h24l3-8h18"/>
<path d="M0 4904l3-8v-8l6-16v-8l6-16v-8l9-24v-8l15-40v-8l51-136h3l12-32h3l6-16h3l6-16h3l6-16h3l6-16h3l6-16h3l3-8h3l6-16h3l3-8h3l3-8h3l3-8h3l3-8h3l3-8h3l3-8h3l3-8h3l3-8h3l3-8h3l3-8h3l3-8h3l3-8h6l3-8h3l3-8h3l3-8h6l3-8h3l3-8h6l3-8h3l3-8h6l3-8h6l3-8h3l3-8h6l3-8h6l3-8h6l3-8h6l3-8h6l3-8h6l3-8h6l3-8h6l3-8h9l3-8h6l3-8h6l3-8h9l3-8h9l3-8h6l3-8h9l3-8h9l3-8h9l3-8h9l3-8h9l3-8h9l3-8h9l3-8h9l3-8h12l3-8h9l3-8h12l3-8h9l3-8h12l3-8h12l3-8h12l3-8h12l3-8h12l3-8h15l3-8h12l3-8h15l3-8h12l3-8h15l3-8h15l3-8h15l3-8h15l3-8h15l3-8h18l3-8h15l3-8h18l3-8h18l3-8h18l3-8h18l3-8h18l3-8h18l3-8h21l3-8h21l3-8h18l3-8h21l3-8h24l3-8h21l3-8h24l3-8h21l3-8h24l3-8h24l3-8h3"/>
<path d="M0 4904l3-8v-8l6-16v-8l6-16v-8l9-24v-8l12-32v-8l57-152h3l9-24h3l9-24h3l6-16h3l6-16h3l6-16h3l3-8h3l6-16h3l3-8h3l3-8h3l3-8h3l6-16h3l3-8h3l3-8h3l3-8h3l3-8h3l3-8h6l3-8h3l3-8h3l3-8h3l3-8h6l3-8h3l3-8h3l3-8h6l3-8h3l3-8h6l3-8h3l3-8h6l3-8h6l3-8h6l3-8h3l3-8h6l3-8h6l3-8h6l3-8h6l3-8h9l3-8h6l3-8h6l3-8h6l3-8h9l3-8h6l3-8h9l3-8h9l3-8h6l3-8h9l3-8h9l3-8h9l3-8h9l3-8h9l3-8h9l3-8h12l3-8h9l3-8h9l3-8h12l3-8h12l3-8h9l3-8h12l3-8h12l3-8h12l3-8h12l3-8h15l3-8h12l3-8h15l3-8h12l3-8h15l3-8h15l3-8h15l3-8h15l3-8h15l3-8h18l3-8h15l3-8h18l3-8h18l3-8h15l3-8h18l3-8h21l3-8h18l3-8h21l3-8h18l3-8h21l3-8h21l3-8h21l3-8h24l3-8h21l3-8h24l3-8h24l3-8h24l3-8h6"/>
<path d="M0 4896l9-24v-8l6-16v-8l12-32v-8l60-160h3l9-24h3l6-16h3l6-16h3l6-16h3l6-16h3l3-8h3l6-16h3l3-8h3l3-8h3l6-16h3l3-8h3l3-8h3l3-8h3l3-8h3l3-8h6l3-8h3l3-8h3l3-8h3l3-8h6l3-8h3l3-8h3l3-8h6l3-8h3l3-8h6l3-8h6l3-8h3l3-8h6l3-8h6l3-8h6l3-8h6l3-8h6l3-8h6l3-8h6l3-8h6l3-8h6l3-8h9l3-8h6l3-8h9l3-8h6l3-8h9l3-8h9l3-8h9l3-8h9l3-8h9l3-8h9l3-8h9l3-8h9l3-8h9l3-8h12l3-8h9l3-8h12l3-8h12l3-8h12l3-8h12l3-8h12l3-8h12l3-8h12l3-8h15l3-8h12l3-8h15l3-8h15l3-8h15l3-8h15l3-8h15l3-8h15l3-8h18l3-8h15l3-8h18l3-8h18l3-8h18l3-8h18l3-8h18l3-8h21l3-8h21l3-8h18l3-8h21l3-8h24l3-8h21l3-8h24l3-8h21l3-8h24l3-8h24l3-8h27l3-8h24l3-8h3"/>
<path d="M0 4896l6-16v-8l6-16v-8l9-24v-8l15-40v-8l51-136h3l12-32h3l6-16h3l6-16h3l6-16h3l6-16h3l6-16h3l3-8h3l3-8h3l6-16h3l3-8h3l3-8h3l3-8h3l3-8h3l3-8h3l3-8h3l3-8h3l3-8h3l3-8h6l3-8h3l3-8h3l3-8h6l3-8h3l3-8h3l3-8h6l3-8h6l3-8h3l3-8h6l3-8h6l3-8h3l3-8h6l3-8h6l3-8h6l3-8h6l3-8h6l3-8h6l3-8h9l3-8h6l3-8h6l3-8h9l3-8h6l3-8h9l3-8h9l3-8h6l3-8h9l3-8h9l3-8h9l3-8h9l3-8h9l3-8h12l3-8h9l3-8h12l3-8h9l3-8h12l3-8h9l3-8h12l3-8h12l3-8h12l3-8h12l3-8h15l3-8h12l3-8h15l3-8h12l3-8h15l3-8h15l3-8h15l3-8h15l3-8h15l3-8h18l3-8h15l3-8h18l3-8h18l3-8h18l3-8h18l3-8h18l3-8h18l3-8h21l3-8h21l3-8h18l3-8h21l3-8h24l3-8h21l3-8h24l3-8h21l3-8h24l3-8h27l3-8h21"/>
<path d="M0 4896l6-16v-8l6-16v-8l9-24v-8l18-48v-8l42-112h3l12-32h3l9-24h3l6-16h3l6-16h3l3-8h3l6-16h3l3-8h3l6-16h3l3-8h3l3-8h3l3-8h3l3-8h3l3-8h3l3-8h3l3-8h3l3-8h3l3-8h3l3-8h3l3-8h3l3-8h6l3-8h3l3-8h3l3-8h6l3-8h3l3-8h6l3-8h6l3-8h3l3-8h6l3-8h6l3-8h6l3-8h3l3-8h6l3-8h6l3-8h9l3-8h6l3-8h6l3-8h6l3-8h9l3-8h6l3-8h9l3-8h6l3-8h9l3-8h9l3-8h9l3-8h9l3-8h9l3-8h9l3-8h9l3-8h9l3-8h12l3-8h9l3-8h12l3-8h9l3-8h12l3-8h12l3-8h12l3-8h12l3-8h12l3-8h15l3-8h12l3-8h15l3-8h12l3-8h15l3-8h15l3-8h15l3-8h15l3-8h18l3-8h15l3-8h18l3-8h15l3-8h18l3-8h18l3-8h18l3-8h21l3-8h18l3-8h21l3-8h21l3-8h21l3-8h21l3-8h21l3-8h24l3-8h24l3-8h24l3-8h24l3-8h24l3-8h21"/>
<path d="M0 4896l3-8v-8l6-16v-8l9-24v-8l9-24v-8l24-64v-8l33-88h3l12-32h3l6-16h3l9-24h3l6-16h3l6-16h3l3-8h3l6-16h3l3-8h3l3-8h3l6-16h3l3-8h3l3-8h3l3-8h3l3-8h3l3-8h3l3-8h3l3-8h3l3-8h6l3-8h3l3-8h3l3-8h3l3-8h6l3-8h3l3-8h6l3-8h3l3-8h6l3-8h6l3-8h3l3-8h6l3-8h6l3-8h6l3-8h6l3-8h6l3-8h6l3-8h6l3-8h6l3-8h6l3-8h9l3-8h6l3-8h9l3-8h6l3-8h9l3-8h6l3-8h9l3-8h9l3-8h9l3-8h9l3-8h9l3-8h9l3-8h12l3-8h9l3-8h12l3-8h9l3-8h12l3-8h12l3-8h9l3-8h12l3-8h12l3-8h15l3-8h12l3-8h12l3-8h15l3-8h12l3-8h15l3-8h15l3-8h15l3-8h15l3-8h15l3-8h18l3-8h15l3-8h18l3-8h18l3-8h18l3-8h18l3-8h18l3-8h18l3-8h21l3-8h21l3-8h18l3-8h24l3-8h21l3-8h21l3-8h24l3-8h21l3-8h24l3-8h24l3-8h15"/>
<path d="M0 4896l3-8v-8l6-16v-8l9-24v-8l9-24v-8l66-176h3l9-24h3l6-16h3l6-16h3l6-16h3l6-16h3l3-8h3l6-16h3l3-8h3l3-8h3l3-8h3l6-16h3l3-8h3l3-8h3l3-8h3l3-8h6l3-8h3l3-8h3l3-8h3l3-8h6l3-8h3l3-8h3l3-8h6l3-8h3l3-8h6l3-8h6l3-8h3l3-8h6l3-8h6l3-8h6l3-8h3l3-8h6l3-8h9l3-8h6l3-8h6l3-8h6l3-8h6l3-8h9l3-8h6l3-8h9l3-8h6l3-8h9l3-8h9l3-8h9l3-8h9l3-8h9l3-8h9l3-8h9l3-8h9l3-8h12l3-8h9l3-8h12l3-8h9l3-8h12l3-8h12l3-8h12l3-8h12l3-8h12l3-8h12l3-8h15l3-8h12l3-8h15l3-8h15l3-8h15l3-8h15l3-8h15l3-8h15l3-8h15l3-8h18l3-8h18l3-8h15l3-8h18l3-8h21l3-8h18l3-8h18l3-8h21l3-8h21l3-8h18l3-8h24l3-8h21l3-8h21l3-8h24l3-8h24l3-8h24l3-8h24l3-8h21"/>
<path d="M0 4888l9-24v-8l6-16v-8l9-24v-8l21-56v-8l39-104h3l9-24h3l9-24h3l6-16h3l6-16h3l6-16h3l6-16h3l3-8h3l3-8h3l6-16h3l3-8h3l3-8h3l3-8h3l3-8h3l3-8h3l3-8h3l3-8h3l3-8h3l3-8h3l3-8h3l3-8h6l3-8h3l3-8h3l3-8h6l3-8h3l3-8h6l3-8h6l3-8h3l3-8h6l3-8h6l3-8h6l3-8h3l3-8h6l3-8h6l3-8h6l3-8h9l3-8h6l3-8h6l3-8h6l3-8h9l3-8h6l3-8h9l3-8h9l3-8h6l3-8h9l3-8h9l3-8h9l3-8h9l3-8h9l3-8h9l3-8h12l3-8h9l3-8h12l3-8h9l3-8h12l3-8h12l3-8h12l3-8h12l3-8h12l3-8h12l3-8h12l3-8h15l3-8h12l3-8h15l3-8h15l3-8h15l3-8h15l3-8h15l3-8h15l3-8h18l3-8h15l3-8h18l3-8h18l3-8h18l3-8h18l3-8h21l3-8h18l3-8h21l3-8h21l3-8h21l3-8h21l3-8h21l3-8h24l3-8h21l3-8h24l3-8h24l3-8h24l3-8h9"/>
<path d="M0 4888l6-16v-8l9-24v-8l6-16v-8l15-40v-8l51-136h3l12-32h3l6-16h3l6-16h3l6-16h3l6-16h3l6-16h3l3-8h3l3-8h3l6-16h3l3-8h3l3-8h3l3-8h3l3-8h3l3-8h3l3-8h3l3-8h3l3-8h3l3-8h6l3-8h3l3-8h3l3-8h3l3-8h6l3-8h3l3-8h6l3-8h3l3-8h6l3-8h6l3-8h3l3-8h6l3-8h6l3-8h6l3-8h6l3-8h6l3-8h6l3-8h6l3-8h6l3-8h9l3-8h6l3-8h9l3-8h6l3-8h9l3-8h6l3-8h9l3-8h9l3-8h9l3-8h9l3-8h9l3-8h9l3-8h9l3-8h12l3-8h9l3-8h12l3-8h9l3-8h12l3-8h12l3-8h12l3-8h12l3-8h12l3-8h12l3-8h12l3-8h15l3-8h15l3-8h12l3-8h15l3-8h15l3-8h15l3-8h15l3-8h18l3-8h15l3-8h18l3-8h18l3-8h18l3-8h18l3-8h18l3-8h18l3-8h21l3-8h18l3-8h21l3-8h21l3-8h21l3-8h24l3-8h21l3-8h24l3-8h24l3-8h24l3-8h27"/>
<path d="M0 4888l6-16v-8l6-16v-8l9-24v-8l18-48v-8l42-112h3l12-32h3l6-16h3l9-24h3l6-16h3l3-8h3l6-16h3l3-8h3l6-16h3l3-8h3l3-8h3l3-8h3l3-8h3l3-8h3l3-8h3l3-8h3l3-8h3l3-8h3l3-8h3l3-8h3l3-8h6l3-8h3l3-8h3l3-8h6l3-8h3l3-8h6l3-8h3l3-8h6l3-8h6l3-8h6l3-8h3l3-8h6l3-8h6l3-8h6l3-8h6l3-8h9l3-8h6l3-8h6l3-8h9l3-8h6l3-8h9l3-8h6l3-8h9l3-8h9l3-8h6l3-8h9l3-8h9l3-8h12l3-8h9l3-8h9l3-8h9l3-8h12l3-8h9l3-8h12l3-8h12l3-8h12l3-8h12l3-8h12l3-8h12l3-8h12l3-8h15l3-8h12l3-8h15l3-8h15l3-8h15l3-8h15l3-8h15l3-8h15l3-8h18l3-8h15l3-8h18l3-8h18l3-8h18l3-8h18l3-8h18l3-8h21l3-8h18l3-8h21l3-8h21l3-8h21l3-8h24l3-8h21l3-8h24l3-8h24l3-8h24l3-8h24l3-8h24"/>
<path d="M0 4888l6-16v-8l6-16v-8l6-16v-8l12-32v-8l60-160h3l9-24h3l9-24h3l6-16h3l6-16h3l3-8h3l6-16h3l3-8h3l6-16h3l3-8h3l3-8h3l3-8h3l3-8h3l3-8h3l3-8h3l3-8h3l3-8h3l3-8h3l3-8h6l3-8h3l3-8h3l3-8h6l3-8h3l3-8h3l3-8h6l3-8h6l3-8h3l3-8h6l3-8h6l3-8h3l3-8h6l3-8h6l3-8h6l3-8h6l3-8h6l3-8h9l3-8h6l3-8h6l3-8h9l3-8h6l3-8h9l3-8h6l3-8h9l3-8h9l3-8h9l3-8h9l3-8h9l3-8h9l3-8h9l3-8h9l3-8h12l3-8h9l3-8h12l3-8h9l3-8h12l3-8h12l3-8h12l3-8h12l3-8h12l3-8h15l3-8h12l3-8h15l3-8h12l3-8h15l3-8h15l3-8h15l3-8h15l3-8h15l3-8h18l3-8h15l3-8h18l3-8h18l3-8h18l3-8h18l3-8h18l3-8h21l3-8h21l3-8h18l3-8h21l3-8h21l3-8h24l3-8h21l3-8h24l3-8h24l3-8h24l3-8h24l3-8h15"/>
<path d="M0 4888l3-8v-8l6-16v-8l9-24v-8l12-32v-8l57-152h3l9-24h3l6-16h3l9-24h3l3-8h3l6-16h3l6-16h3l3-8h3l3-8h3l6-16h3l3-8h3l3-8h3l3-8h3l3-8h3l3-8h3l3-8h3l3-8h3l3-8h6l3-8h3l3-8h3l3-8h3l3-8h6l3-8h3l3-8h6l3-8h3l3-8h6l3-8h6l3-8h3l3-8h6l3-8h6l3-8h6l3-8h6l3-8h6l3-8h6l3-8h6l3-8h6l3-8h9l3-8h6l3-8h6l3-8h9l3-8h9l3-8h6l3-8h9l3-8h9l3-8h9l3-8h9l3-8h9l3-8h9l3-8h9l3-8h12l3-8h9l3-8h12l3-8h9l3-8h12l3-8h12l3-8h12l3-8h12l3-8h12l3-8h12l3-8h15l3-8h12l3-8h15l3-8h15l3-8h15l3-8h15l3-8h15l3-8h15l3-8h18l3-8h15l3-8h18l3-8h18l3-8h18l3-8h18l3-8h18l3-8h21l3-8h21l3-8h18l3-8h21l3-8h24l3-8h21l3-8h21l3-8h24l3-8h24l3-8h24l3-8h24l3-8h27"/>
<path d="M0 4888l3-8v-8l6-16v-8l6-16v-8l6-16v-8l12-32v-8l63-168h3l12-32h3l6-16h3l6-16h3l6-16h3l6-16h3l3-8h3l6-16h3l3-8h3l3-8h3l3-8h3l6-16h3l3-8h3l3-8h3l3-8h3l3-8h6l3-8h3l3-8h3l3-8h3l3-8h3l3-8h6l3-8h3l3-8h3l3-8h6l3-8h3l3-8h6l3-8h6l3-8h3l3-8h6l3-8h6l3-8h6l3-8h6l3-8h3l3-8h6l3-8h9l3-8h6l3-8h6l3-8h6l3-8h9l3-8h6l3-8h6l3-8h9l3-8h9l3-8h6l3-8h9l3-8h9l3-8h9l3-8h9l3-8h9l3-8h9l3-8h12l3-8h9l3-8h12l3-8h9l3-8h12l3-8h9l3-8h12l3-8h12l3-8h12l3-8h12l3-8h15l3-8h12l3-8h15l3-8h12l3-8h15l3-8h15l3-8h15l3-8h15l3-8h15l3-8h15l3-8h18l3-8h15l3-8h18l3-8h18l3-8h18l3-8h18l3-8h21l3-8h18l3-8h21l3-8h18l3-8h21l3-8h21l3-8h24l3-8h21l3-8h24l3-8h24l3-8h24l3-8h6"/>
<path d="M0 4880l9-24v-8l6-16v-8l9-24v-8l69-184h3l9-24h3l6-16h3l6-16h3l6-16h3l6-16h3l3-8h3l3-8h3l6-16h3l3-8h3l3-8h3l3-8h3l3-8h3l3-8h3l3-8h3l3-8h3l3-8h3l3-8h3l3-8h6l3-8h3l3-8h3l3-8h6l3-8h3l3-8h6l3-8h3l3-8h6l3-8h3l3-8h6l3-8h6l3-8h6l3-8h6l3-8h6l3-8h6l3-8h6l3-8h6l3-8h6l3-8h6l3-8h9l3-8h6l3-8h9l3-8h6l3-8h9l3-8h9l3-8h9l3-8h9l3-8h9l3-8h9l3-8h9l3-8h9l3-8h12l3-8h9l3-8h12l3-8h9l3-8h12l3-8h12l3-8h12l3-8h12l3-8h12l3-8h12l3-8h15l3-8h12l3-8h15l3-8h15l3-8h15l3-8h15l3-8h15l3-8h15l3-8h18l3-8h15l3-8h18l3-8h18l3-8h18l3-8h18l3-8h18l3-8h21l3-8h18l3-8h21l3-8h21l3-8h21l3-8h24l3-8h21l3-8h24l3-8h24l3-8h24l3-8h24l3-8h24"/>
<path d="M0 4880l6-16v-8l6-16v-8l9-24v-8l15-40v-8l51-136h3l9-24h3l9-24h3l6-16h3l6-16h3l3-8h3l6-16h3l3-8h3l6-16h3l3-8h3l3-8h3l3-8h3l3-8h3l3-8h3l3-8h3l3-8h3l3-8h3l3-8h3l3-8h3l3-8h3l3-8h6l3-8h3l3-8h3l3-8h6l3-8h3l3-8h6l3-8h3l3-8h6l3-8h6l3-8h6l3-8h3l3-8h6l3-8h6l3-8h6l3-8h6l3-8h9l3-8h6l3-8h6l3-8h6l3-8h9l3-8h6l3-8h9l3-8h9l3-8h6l3-8h9l3-8h9l3-8h9l3-8h9l3-8h9l3-8h12l3-8h9l3-8h9l3-8h12l3-8h12l3-8h9l3-8h12l3-8h12l3-8h12l3-8h12l3-8h12l3-8h15l3-8h12l3-8h15l3-8h15l3-8h12l3-8h15l3-8h18l3-8h15l3-8h15l3-8h18l3-8h15l3-8h18l3-8h18l3-8h18l3-8h18l3-8h21l3-8h18l3-8h21l3-8h21l3-8h21l3-8h21l3-8h21l3-8h24l3-8h24l3-8h24l3-8h24l3-8h24l3-8h3"/>
<path d="M0 4880l6-16v-8l6-16v-8l12-32v-8l63-168h3l9-24h3l9-24h3l6-16h3l3-8h3l6-16h3l3-8h3l6-16h3l3-8h3l3-8h3l3-8h3l3-8h3l6-16h3l3-8h6l3-8h3l3-8h3l3-8h3l3-8h3l3-8h6l3-8h3l3-8h3l3-8h6l3-8h3l3-8h6l3-8h3l3-8h6l3-8h6l3-8h6l3-8h6l3-8h3l3-8h6l3-8h9l3-8h6l3-8h6l3-8h6l3-8h6l3-8h9l3-8h6l3-8h9l3-8h9l3-8h6l3-8h9l3-8h9l3-8h9l3-8h9l3-8h9l3-8h9l3-8h12l3-8h9l3-8h12l3-8h9l3-8h12l3-8h12l3-8h12l3-8h12l3-8h12l3-8h15l3-8h12l3-8h12l3-8h15l3-8h15l3-8h15l3-8h15l3-8h15l3-8h15l3-8h18l3-8h15l3-8h18l3-8h18l3-8h18l3-8h18l3-8h21l3-8h18l3-8h21l3-8h21l3-8h21l3-8h21l3-8h21l3-8h24l3-8h24l3-8h24l3-8h24l3-8h24l3-8h27l3-8h9"/>
<path d="M0 4880l3-8v-8l9-24v-8l9-24v-8l18-48v-8l39-104h3l12-32h3l9-24h3l6-16h3l6-16h3l3-8h3l6-16h3l3-8h3l6-16h3l3-8h3l3-8h3l3-8h3l3-8h3l3-8h3l3-8h3l3-8h3l3-8h3l3-8h3l3-8h3l3-8h3l3-8h6l3-8h3l3-8h6l3-8h3l3-8h6l3-8h3l3-8h6l3-8h3l3-8h6l3-8h6l3-8h6l3-8h6l3-8h6l3-8h6l3-8h6l3-8h6l3-8h9l3-8h6l3-8h6l3-8h9l3-8h6l3-8h9l3-8h9l3-8h9l3-8h9l3-8h9l3-8h9l3-8h9l3-8h9l3-8h9l3-8h12l3-8h9l3-8h12l3-8h12l3-8h12l3-8h12l3-8h12l3-8h12l3-8h12l3-8h15l3-8h12l3-8h15l3-8h15l3-8h15l3-8h15l3-8h15l3-8h15l3-8h18l3-8h15l3-8h18l3-8h18l3-8h18l3-8h18l3-8h18l3-8h21l3-8h21l3-8h21l3-8h21l3-8h21l3-8h21l3-8h24l3-8h24l3-8h21l3-8h27l3-8h24l3-8h27l3-8h3"/>
<path d="M0 4880l3-8v-8l6-16v-8l9-24v-8l12-32v-8l57-152h3l9-24h3l9-24h3l6-16h3l3-8h3l6-16h3l6-16h3l3-8h3l3-8h3l6-16h3l3-8h3l3-8h3l3-8h3l3-8h3l3-8h3l3-8h3l3-8h3l3-8h6l3-8h3l3-8h3l3-8h3l3-8h6l3-8h3l3-8h6l3-8h3l3-8h6l3-8h6l3-8h3l3-8h6l3-8h6l3-8h6l3-8h6l3-8h6l3-8h6l3-8h6l3-8h6l3-8h9l3-8h6l3-8h9l3-8h6l3-8h9l3-8h6l3-8h9l3-8h9l3-8h9l3-8h9l3-8h9l3-8h9l3-8h12l3-8h9l3-8h12l3-8h9l3-8h12l3-8h12l3-8h9l3-8h12l3-8h15l3-8h12l3-8h12l3-8h15l3-8h12l3-8h15l3-8h15l3-8h15l3-8h15l3-8h15l3-8h15l3-8h18l3-8h15l3-8h18l3-8h18l3-8h18l3-8h18l3-8h18l3-8h21l3-8h21l3-8h21l3-8h21l3-8h21l3-8h21l3-8h24l3-8h24l3-8h21l3-8h27l3-8h24l3-8h21"/>
<path d="M0 4872l9-24v-8l6-16v-8l9-24v-8l15-40v-8l48-128h3l12-32h3l6-16h3l9-24h3l6-16h3l3-8h3l6-16h3l3-8h3l6-16h3l3-8h3l3-8h3l3-8h3l3-8h3l3-8h3l3-8h3l3-8h3l3-8h3l3-8h3l3-8h3l3-8h3l3-8h6l3-8h3l3-8h3l3-8h6l3-8h3l3-8h6l3-8h3l3-8h6l3-8h6l3-8h6l3-8h3l3-8h6l3-8h6l3-8h6l3-8h6l3-8h6l3-8h9l3-8h6l3-8h6l3-8h9l3-8h6l3-8h9l3-8h6l3-8h9l3-8h9l3-8h9l3-8h6l3-8h12l3-8h9l3-8h9l3-8h9l3-8h9l3-8h12l3-8h12l3-8h9l3-8h12l3-8h12l3-8h12l3-8h12l3-8h12l3-8h12l3-8h15l3-8h12l3-8h15l3-8h15l3-8h12l3-8h15l3-8h18l3-8h15l3-8h15l3-8h18l3-8h15l3-8h18l3-8h18l3-8h18l3-8h21l3-8h18l3-8h21l3-8h18l3-8h21l3-8h21l3-8h21l3-8h24l3-8h21l3-8h24l3-8h24l3-8h24l3-8h15"/>
<path d="M0 4872l6-16v-8l6-16v-8l9-24v-8l12-32v-8l57-152h3l9-24h3l9-24h3l6-16h3l6-16h3l6-16h3l3-8h3l6-16h3l3-8h3l3-8h3l3-8h3l6-16h3l3-8h3l3-8h3l3-8h3l3-8h3l3-8h6l3-8h3l3-8h3l3-8h3l3-8h6l3-8h3l3-8h3l3-8h6l3-8h3l3-8h6l3-8h6l3-8h3l3-8h6l3-8h6l3-8h6l3-8h6l3-8h6l3-8h6l3-8h6l3-8h6l3-8h6l3-8h9l3-8h6l3-8h9l3-8h6l3-8h9l3-8h6l3-8h9l3-8h9l3-8h9l3-8h9l3-8h9l3-8h9l3-8h9l3-8h12l3-8h9l3-8h12l3-8h12l3-8h9l3-8h12l3-8h12l3-8h12l3-8h12l3-8h15l3-8h12l3-8h12l3-8h15l3-8h15l3-8h15l3-8h15l3-8h15l3-8h15l3-8h15l3-8h18l3-8h18l3-8h15l3-8h18l3-8h18l3-8h21l3-8h18l3-8h21l3-8h18l3-8h21l3-8h21l3-8h21l3-8h24l3-8h21l3-8h24l3-8h24l3-8h24l3-8h18"/>
<path d="M0 4872l6-16v-8l6-16v-8l9-24v-8l12-32v-8l57-152h3l9-24h3l6-16h3l9-24h3l3-8h3l6-16h3l6-16h3l3-8h3l3-8h3l6-16h3l3-8h3l3-8h3l3-8h3l3-8h3l3-8h3l3-8h3l3-8h3l3-8h3l3-8h3l3-8h6l3-8h3l3-8h3l3-8h6l3-8h3l3-8h6l3-8h3l3-8h6l3-8h6l3-8h3l3-8h6l3-8h6l3-8h6l3-8h6l3-8h6l3-8h6l3-8h6l3-8h9l3-8h6l3-8h6l3-8h9l3-8h6l3-8h9l3-8h9l3-8h6l3-8h9l3-8h9l3-8h9l3-8h9l3-8h9l3-8h12l3-8h9l3-8h12l3-8h9l3-8h12l3-8h12l3-8h9l3-8h12l3-8h12l3-8h15l3-8h12l3-8h12l3-8h15l3-8h12l3-8h15l3-8h15l3-8h15l3-8h15l3-8h15l3-8h18l3-8h15l3-8h18l3-8h18l3-8h18l3-8h18l3-8h18l3-8h21l3-8h18l3-8h21l3-8h21l3-8h21l3-8h21l3-8h21l3-8h24l3-8h24l3-8h24l3-8h24l3-8h21"/>
<path d="M0 4872l6-16v-8l6-16v-8l9-24v-8l12-32v-8l51-136h3l12-32h3l6-16h3l6-16h3l6-16h3l6-16h3l3-8h3l6-16h3l3-8h3l3-8h3l6-16h3l3-8h3l3-8h3l3-8h3l3-8h3l3-8h3l3-8h6l3-8h3l3-8h3l3-8h3l3-8h6l3-8h3l3-8h3l3-8h6l3-8h3l3-8h6l3-8h6l3-8h3l3-8h6l3-8h6l3-8h6l3-8h6l3-8h6l3-8h6l3-8h6l3-8h6l3-8h9l3-8h6l3-8h9l3-8h6l3-8h9l3-8h6l3-8h9l3-8h9l3-8h9l3-8h9l3-8h9l3-8h9l3-8h9l3-8h12l3-8h9l3-8h12l3-8h12l3-8h9l3-8h12l3-8h12l3-8h12l3-8h12l3-8h15l3-8h12l3-8h15l3-8h12l3-8h15l3-8h15l3-8h15l3-8h15l3-8h18l3-8h15l3-8h18l3-8h15l3-8h18l3-8h18l3-8h18l3-8h21l3-8h18l3-8h21l3-8h21l3-8h21l3-8h21l3-8h21l3-8h24l3-8h21l3-8h24l3-8h24l3-8h27l3-8h24"/>
<path d="M0 4872l3-8v-8l6-16v-8l6-16v-8l9-24v-8l12-32v-8l57-152h3l9-24h3l9-24h3l6-16h3l6-16h3l6-16h3l3-8h3l6-16h3l3-8h3l3-8h3l6-16h3l3-8h3l3-8h3l3-8h3l3-8h3l3-8h3l3-8h3l3-8h6l3-8h3l3-8h3l3-8h3l3-8h6l3-8h3l3-8h3l3-8h6l3-8h6l3-8h3l3-8h6l3-8h3l3-8h6l3-8h6l3-8h6l3-8h6l3-8h6l3-8h6l3-8h6l3-8h6l3-8h9l3-8h6l3-8h6l3-8h9l3-8h6l3-8h9l3-8h9l3-8h6l3-8h9l3-8h9l3-8h9l3-8h9l3-8h9l3-8h12l3-8h9l3-8h12l3-8h9l3-8h12l3-8h9l3-8h12l3-8h12l3-8h12l3-8h12l3-8h15l3-8h12l3-8h12l3-8h15l3-8h15l3-8h12l3-8h15l3-8h15l3-8h18l3-8h15l3-8h15l3-8h18l3-8h18l3-8h18l3-8h18l3-8h18l3-8h18l3-8h18l3-8h21l3-8h21l3-8h21l3-8h21l3-8h21l3-8h21l3-8h24l3-8h24l3-8h24l3-8h15"/>
<path d="M0 4864l9-24v-8l9-24v-8l12-32v-8l57-152h3l9-24h3l6-16h3l9-24h3l3-8h3l6-16h3l6-16h3l3-8h3l3-8h3l3-8h3l6-16h3l3-8h3l3-8h3l3-8h3l3-8h3l3-8h3l3-8h6l3-8h3l3-8h3l3-8h3l3-8h6l3-8h3l3-8h6l3-8h3l3-8h6l3-8h3l3-8h6l3-8h6l3-8h6l3-8h3l3-8h6l3-8h6l3-8h6l3-8h9l3-8h6l3-8h6l3-8h6l3-8h9l3-8h6l3-8h9l3-8h6l3-8h9l3-8h9l3-8h9l3-8h9l3-8h9l3-8h9l3-8h9l3-8h12l3-8h9l3-8h9l3-8h12l3-8h12l3-8h12l3-8h12l3-8h12l3-8h12l3-8h12l3-8h12l3-8h15l3-8h12l3-8h15l3-8h15l3-8h15l3-8h15l3-8h15l3-8h18l3-8h15l3-8h18l3-8h18l3-8h18l3-8h18l3-8h18l3-8h21l3-8h18l3-8h21l3-8h21l3-8h21l3-8h21l3-8h24l3-8h24l3-8h21l3-8h24l3-8h27l3-8h24l3-8h12"/>
<path d="M0 4864l9-24v-8l6-16v-8l12-32v-8l63-168h3l9-24h3l6-16h3l6-16h3l6-16h3l6-16h3l3-8h3l6-16h3l3-8h3l3-8h3l3-8h3l3-8h3l3-8h3l3-8h3l3-8h3l3-8h3l3-8h3l3-8h3l3-8h3l3-8h6l3-8h3l3-8h3l3-8h6l3-8h3l3-8h6l3-8h3l3-8h6l3-8h6l3-8h3l3-8h6l3-8h6l3-8h6l3-8h6l3-8h6l3-8h6l3-8h9l3-8h6l3-8h6l3-8h9l3-8h6l3-8h9l3-8h9l3-8h6l3-8h9l3-8h9l3-8h9l3-8h9l3-8h9l3-8h12l3-8h9l3-8h9l3-8h12l3-8h12l3-8h9l3-8h12l3-8h12l3-8h12l3-8h15l3-8h12l3-8h12l3-8h15l3-8h12l3-8h15l3-8h15l3-8h15l3-8h15l3-8h18l3-8h15l3-8h18l3-8h15l3-8h18l3-8h18l3-8h18l3-8h21l3-8h18l3-8h21l3-8h21l3-8h21l3-8h21l3-8h21l3-8h24l3-8h24l3-8h21l3-8h27l3-8h24l3-8h27"/>
<path d="M0 4864l6-16v-8l6-16v-8l9-24v-8l12-32v-8l57-152h3l9-24h3l9-24h3l6-16h3l6-16h3l3-8h3l6-16h3l3-8h3l6-16h3l3-8h3l3-8h3l3-8h3l3-8h3l3-8h3l3-8h3l3-8h3l3-8h3l3-8h3l3-8h3l3-8h3l3-8h6l3-8h3l3-8h6l3-8h3l3-8h3l3-8h6l3-8h6l3-8h3l3-8h6l3-8h6l3-8h6l3-8h6l3-8h3l3-8h9l3-8h6l3-8h6l3-8h6l3-8h6l3-8h9l3-8h6l3-8h9l3-8h6l3-8h9l3-8h9l3-8h6l3-8h9l3-8h9l3-8h9l3-8h9l3-8h12l3-8h9l3-8h9l3-8h12l3-8h12l3-8h9l3-8h12l3-8h12l3-8h12l3-8h12l3-8h12l3-8h15l3-8h12l3-8h15l3-8h15l3-8h12l3-8h15l3-8h15l3-8h18l3-8h15l3-8h15l3-8h18l3-8h18l3-8h18l3-8h18l3-8h18l3-8h18l3-8h21l3-8h18l3-8h21l3-8h21l3-8h21l3-8h24l3-8h21l3-8h24l3-8h24l3-8h24l3-8h24l3-8h3"/>
<path d="M0 4864l6-16v-8l6-16v-8l9-24v-8l18-48v-8l42-112h3l9-24h3l9-24h3l6-16h3l6-16h3l6-16h3l3-8h3l6-16h3l3-8h3l6-16h3l3-8h3l3-8h3l3-8h3l3-8h3l3-8h3l3-8h3l3-8h3l3-8h3l3-8h6l3-8h3l3-8h3l3-8h6l3-8h3l3-8h6l3-8h3l3-8h6l3-8h3l3-8h6l3-8h6l3-8h6l3-8h6l3-8h6l3-8h6l3-8h6l3-8h6l3-8h6l3-8h6l3-8h9l3-8h6l3-8h9l3-8h6l3-8h9l3-8h9l3-8h9l3-8h6l3-8h9l3-8h12l3-8h9l3-8h9l3-8h9l3-8h12l3-8h9l3-8h12l3-8h12l3-8h12l3-8h12l3-8h12l3-8h12l3-8h12l3-8h15l3-8h12l3-8h15l3-8h15l3-8h12l3-8h18l3-8h15l3-8h15l3-8h15l3-8h18l3-8h18l3-8h18l3-8h18l3-8h18l3-8h18l3-8h21l3-8h18l3-8h21l3-8h21l3-8h21l3-8h24l3-8h21l3-8h24l3-8h24l3-8h24l3-8h24l3-8h27l3-8"/>
<path d="M0 4864l3-8v-8l6-16v-8l9-24v-8l12-32v-8l63-168h3l9-24h3l6-16h3l6-16h3l6-16h3l6-16h3l3-8h3l6-16h3l3-8h3l3-8h3l6-16h3l3-8h3l3-8h3l3-8h3l3-8h3l3-8h6l3-8h3l3-8h3l3-8h3l3-8h3l3-8h6l3-8h3l3-8h6l3-8h3l3-8h6l3-8h3l3-8h6l3-8h6l3-8h6l3-8h3l3-8h6l3-8h6l3-8h6l3-8h6l3-8h9l3-8h6l3-8h6l3-8h6l3-8h9l3-8h6l3-8h9l3-8h9l3-8h6l3-8h9l3-8h9l3-8h9l3-8h9l3-8h9l3-8h12l3-8h9l3-8h9l3-8h12l3-8h12l3-8h9l3-8h12l3-8h12l3-8h12l3-8h12l3-8h15l3-8h12l3-8h12l3-8h15l3-8h15l3-8h15l3-8h15l3-8h15l3-8h15l3-8h15l3-8h18l3-8h15l3-8h18l3-8h18l3-8h18l3-8h18l3-8h21l3-8h18l3-8h21l3-8h21l3-8h21l3-8h21l3-8h24l3-8h21l3-8h24l3-8h24l3-8h24l3-8h27"/>
<path d="M0 4864l3-8v-8l6-16v-8l6-16v-8l9-24v-8l15-40v-8l48-128h3l12-32h3l6-16h3l6-16h3l6-16h3l6-16h3l6-16h3l3-8h3l6-16h3l3-8h3l3-8h3l3-8h3l3-8h3l3-8h3l3-8h3l3-8h3l3-8h3l3-8h3l3-8h3l3-8h3l3-8h6l3-8h3l3-8h3l3-8h6l3-8h3l3-8h6l3-8h3l3-8h6l3-8h6l3-8h3l3-8h6l3-8h6l3-8h6l3-8h6l3-8h6l3-8h6l3-8h6l3-8h9l3-8h6l3-8h6l3-8h9l3-8h6l3-8h9l3-8h9l3-8h6l3-8h9l3-8h9l3-8h9l3-8h9l3-8h9l3-8h12l3-8h9l3-8h12l3-8h9l3-8h12l3-8h9l3-8h12l3-8h12l3-8h12l3-8h12l3-8h15l3-8h12l3-8h15l3-8h12l3-8h15l3-8h15l3-8h15l3-8h15l3-8h15l3-8h15l3-8h18l3-8h15l3-8h18l3-8h18l3-8h18l3-8h18l3-8h21l3-8h18l3-8h21l3-8h21l3-8h21l3-8h21l3-8h21l3-8h24l3-8h21l3-8h24l3-8h24l3-8h21"/>
<path d="M0 4856l9-24v-8l6-16v-8l9-24v-8l21-56v-8l36-96h3l12-32h3l9-24h3l6-16h3l6-16h3l6-16h3l3-8h3l6-16h3l3-8h3l3-8h3l6-16h3l3-8h3l3-8h3l3-8h3l3-8h3l3-8h3l3-8h3l3-8h6l3-8h3l3-8h3l3-8h3l3-8h6l3-8h3l3-8h6l3-8h3l3-8h6l3-8h3l3-8h6l3-8h6l3-8h6l3-8h6l3-8h3l3-8h6l3-8h6l3-8h9l3-8h6l3-8h6l3-8h6l3-8h9l3-8h6l3-8h9l3-8h6l3-8h9l3-8h9l3-8h9l3-8h9l3-8h9l3-8h9l3-8h9l3-8h9l3-8h12l3-8h9l3-8h12l3-8h9l3-8h12l3-8h12l3-8h12l3-8h12l3-8h12l3-8h15l3-8h12l3-8h15l3-8h12l3-8h15l3-8h15l3-8h15l3-8h15l3-8h18l3-8h15l3-8h18l3-8h15l3-8h18l3-8h18l3-8h18l3-8h21l3-8h18l3-8h21l3-8h21l3-8h21l3-8h21l3-8h21l3-8h21l3-8h24l3-8h24l3-8h24l3-8h24l3-8h18"/>
<path d="M0 4856l6-16v-8l6-16v-8l9-24v-8l15-40v-8l51-136h3l12-32h3l6-16h3l6-16h3l6-16h3l6-16h3l6-16h3l3-8h3l3-8h3l6-16h3l3-8h3l3-8h3l3-8h3l3-8h3l3-8h3l3-8h3l3-8h3l3-8h3l3-8h6l3-8h3l3-8h3l3-8h6l3-8h3l3-8h3l3-8h6l3-8h3l3-8h6l3-8h6l3-8h6l3-8h3l3-8h6l3-8h6l3-8h6l3-8h6l3-8h6l3-8h6l3-8h9l3-8h6l3-8h6l3-8h9l3-8h6l3-8h9l3-8h9l3-8h6l3-8h9l3-8h9l3-8h9l3-8h9l3-8h9l3-8h12l3-8h9l3-8h9l3-8h12l3-8h12l3-8h9l3-8h12l3-8h12l3-8h12l3-8h12l3-8h15l3-8h12l3-8h15l3-8h12l3-8h15l3-8h15l3-8h15l3-8h15l3-8h15l3-8h15l3-8h18l3-8h18l3-8h15l3-8h18l3-8h18l3-8h21l3-8h18l3-8h21l3-8h18l3-8h21l3-8h21l3-8h21l3-8h24l3-8h21l3-8h24l3-8h24l3-8h24l3-8h24"/>
<path d="M0 4856l6-16v-8l6-16v-8l9-24v-8l12-32v-8l54-144h3l9-24h3l9-24h3l6-16h3l6-16h3l6-16h3l3-8h3l6-16h3l3-8h3l3-8h3l6-16h3l3-8h3l3-8h3l3-8h3l3-8h3l3-8h3l3-8h6l3-8h3l3-8h3l3-8h3l3-8h6l3-8h3l3-8h3l3-8h6l3-8h6l3-8h3l3-8h6l3-8h3l3-8h6l3-8h6l3-8h6l3-8h6l3-8h6l3-8h6l3-8h6l3-8h6l3-8h9l3-8h6l3-8h6l3-8h9l3-8h9l3-8h6l3-8h9l3-8h9l3-8h9l3-8h9l3-8h9l3-8h9l3-8h9l3-8h9l3-8h12l3-8h9l3-8h12l3-8h12l3-8h9l3-8h12l3-8h12l3-8h15l3-8h12l3-8h12l3-8h15l3-8h12l3-8h15l3-8h15l3-8h15l3-8h15l3-8h15l3-8h15l3-8h18l3-8h15l3-8h18l3-8h18l3-8h18l3-8h18l3-8h21l3-8h18l3-8h21l3-8h21l3-8h21l3-8h21l3-8h21l3-8h24l3-8h24l3-8h24l3-8h24l3-8h24l3-8h6"/>
<path d="M0 4856l3-8v-8l9-24v-8l9-24v-8l12-32v-8l51-136h3l12-32h3l6-16h3l6-16h3l6-16h3l6-16h3l3-8h3l6-16h3l3-8h3l3-8h3l6-16h3l3-8h3l3-8h3l3-8h3l3-8h3l3-8h3l3-8h6l3-8h3l3-8h3l3-8h3l3-8h6l3-8h3l3-8h3l3-8h6l3-8h6l3-8h3l3-8h6l3-8h6l3-8h3l3-8h6l3-8h6l3-8h6l3-8h6l3-8h6l3-8h6l3-8h9l3-8h6l3-8h6l3-8h9l3-8h6l3-8h9l3-8h9l3-8h6l3-8h9l3-8h9l3-8h9l3-8h9l3-8h9l3-8h12l3-8h9l3-8h12l3-8h9l3-8h12l3-8h12l3-8h9l3-8h12l3-8h15l3-8h12l3-8h12l3-8h12l3-8h15l3-8h15l3-8h12l3-8h15l3-8h15l3-8h18l3-8h15l3-8h15l3-8h18l3-8h18l3-8h18l3-8h18l3-8h18l3-8h18l3-8h21l3-8h18l3-8h21l3-8h21l3-8h21l3-8h24l3-8h21l3-8h24l3-8h24l3-8h24l3-8h24l3-8h24"/>
<path d="M0 4856l3-8v-8l9-24v-8l9-24v-8l60-160h3l9-24h3l9-24h3l6-16h3l3-8h3l6-16h3l6-16h3l3-8h3l3-8h3l3-8h3l3-8h3l6-16h3l3-8h3l3-8h6l3-8h3l3-8h3l3-8h3l3-8h3l3-8h6l3-8h3l3-8h3l3-8h6l3-8h3l3-8h6l3-8h6l3-8h3l3-8h6l3-8h6l3-8h6l3-8h6l3-8h6l3-8h6l3-8h6l3-8h6l3-8h9l3-8h6l3-8h9l3-8h6l3-8h9l3-8h6l3-8h9l3-8h9l3-8h9l3-8h9l3-8h9l3-8h12l3-8h9l3-8h9l3-8h12l3-8h12l3-8h9l3-8h12l3-8h12l3-8h12l3-8h15l3-8h12l3-8h12l3-8h15l3-8h15l3-8h12l3-8h15l3-8h18l3-8h15l3-8h15l3-8h18l3-8h15l3-8h18l3-8h18l3-8h18l3-8h21l3-8h18l3-8h21l3-8h21l3-8h21l3-8h21l3-8h21l3-8h24l3-8h21l3-8h24l3-8h24l3-8h27l3-8h24l3-8h27l3-8h15"/>
<path d="M0 4848l9-24v-8l9-24v-8l12-32v-8l57-152h3l9-24h3l6-16h3l6-16h3l6-16h3l6-16h3l3-8h3l6-16h3l3-8h3l3-8h3l3-8h3l3-8h3l3-8h3l3-8h3l3-8h3l3-8h3l3-8h3l3-8h3l3-8h3l3-8h3l3-8h6l3-8h3l3-8h6l3-8h3l3-8h6l3-8h3l3-8h6l3-8h6l3-8h3l3-8h6l3-8h6l3-8h6l3-8h6l3-8h6l3-8h6l3-8h9l3-8h6l3-8h6l3-8h9l3-8h6l3-8h9l3-8h6l3-8h9l3-8h9l3-8h9l3-8h9l3-8h9l3-8h9l3-8h9l3-8h12l3-8h9l3-8h12l3-8h12l3-8h9l3-8h12l3-8h12l3-8h12l3-8h12l3-8h15l3-8h12l3-8h15l3-8h12l3-8h15l3-8h15l3-8h15l3-8h15l3-8h18l3-8h15l3-8h18l3-8h18l3-8h18l3-8h18l3-8h18l3-8h18l3-8h21l3-8h18l3-8h21l3-8h21l3-8h24l3-8h21l3-8h24l3-8h21l3-8h24l3-8h24l3-8h27l3-8h27"/>
<path d="M0 4848l6-16v-8l9-24v-8l9-24v-8l15-40v-8l45-120h3l9-24h3l9-24h3l6-16h3l6-16h3l6-16h3l6-16h3l3-8h3l3-8h3l6-16h3l3-8h3l3-8h3l3-8h3l3-8h3l3-8h3l3-8h3l3-8h3l3-8h3l3-8h3l3-8h6l3-8h3l3-8h3l3-8h6l3-8h3l3-8h6l3-8h3l3-8h6l3-8h6l3-8h3l3-8h6l3-8h6l3-8h6l3-8h6l3-8h6l3-8h6l3-8h6l3-8h6l3-8h9l3-8h6l3-8h9l3-8h6l3-8h9l3-8h6l3-8h9l3-8h9l3-8h9l3-8h9l3-8h9l3-8h9l3-8h12l3-8h9l3-8h9l3-8h12l3-8h12l3-8h9l3-8h12l3-8h12l3-8h12l3-8h12l3-8h15l3-8h12l3-8h15l3-8h12l3-8h15l3-8h15l3-8h15l3-8h15l3-8h15l3-8h18l3-8h15l3-8h18l3-8h18l3-8h18l3-8h18l3-8h18l3-8h21l3-8h18l3-8h21l3-8h21l3-8h21l3-8h21l3-8h24l3-8h21l3-8h24l3-8h24l3-8h24l3-8h24"/>
<path d="M0 4848l6-16v-8l9-24v-8l9-24v-8l63-168h3l9-24h3l6-16h3l6-16h3l6-16h3l6-16h3l3-8h3l6-16h3l3-8h3l3-8h3l3-8h3l3-8h3l3-8h3l3-8h3l3-8h3l3-8h3l3-8h3l3-8h3l3-8h3l3-8h6l3-8h3l3-8h3l3-8h6l3-8h3l3-8h6l3-8h6l3-8h3l3-8h6l3-8h6l3-8h6l3-8h6l3-8h6l3-8h6l3-8h6l3-8h6l3-8h6l3-8h6l3-8h9l3-8h6l3-8h9l3-8h9l3-8h6l3-8h9l3-8h9l3-8h9l3-8h9l3-8h9l3-8h9l3-8h12l3-8h9l3-8h12l3-8h9l3-8h12l3-8h12l3-8h12l3-8h12l3-8h12l3-8h12l3-8h15l3-8h12l3-8h15l3-8h15l3-8h15l3-8h15l3-8h15l3-8h15l3-8h18l3-8h15l3-8h18l3-8h18l3-8h18l3-8h18l3-8h18l3-8h21l3-8h18l3-8h21l3-8h21l3-8h24l3-8h21l3-8h21l3-8h24l3-8h24l3-8h24l3-8h27l3-8h24l3-8h12"/>
<path d="M0 4848l6-16v-8l6-16v-8l9-24v-8l15-40v-8l48-128h3l9-24h3l9-24h3l6-16h3l6-16h3l6-16h3l3-8h3l6-16h3l3-8h3l3-8h3l6-16h3l3-8h3l3-8h3l3-8h3l3-8h3l3-8h3l3-8h6l3-8h3l3-8h3l3-8h3l3-8h6l3-8h3l3-8h3l3-8h6l3-8h3l3-8h6l3-8h6l3-8h3l3-8h6l3-8h6l3-8h6l3-8h6l3-8h6l3-8h6l3-8h6l3-8h6l3-8h9l3-8h6l3-8h9l3-8h6l3-8h9l3-8h6l3-8h9l3-8h9l3-8h9l3-8h9l3-8h9l3-8h9l3-8h9l3-8h12l3-8h9l3-8h12l3-8h9l3-8h12l3-8h12l3-8h12l3-8h12l3-8h12l3-8h15l3-8h12l3-8h12l3-8h15l3-8h15l3-8h15l3-8h15l3-8h15l3-8h15l3-8h18l3-8h15l3-8h18l3-8h18l3-8h18l3-8h18l3-8h18l3-8h21l3-8h18l3-8h21l3-8h21l3-8h21l3-8h24l3-8h21l3-8h24l3-8h24l3-8h24l3-8h24l3-8h27"/>
<path d="M0 4848l3-8v-8l6-16v-8l9-24v-8l9-24v-8l66-176h3l9-24h3l6-16h3l6-16h3l6-16h3l6-16h3l3-8h3l6-16h3l3-8h3l3-8h3l3-8h3l6-16h3l3-8h3l3-8h3l3-8h6l3-8h3l3-8h3l3-8h3l3-8h3l3-8h6l3-8h3l3-8h3l3-8h6l3-8h3l3-8h6l3-8h3l3-8h6l3-8h6l3-8h6l3-8h6l3-8h3l3-8h6l3-8h6l3-8h9l3-8h6l3-8h6l3-8h6l3-8h9l3-8h6l3-8h9l3-8h6l3-8h9l3-8h9l3-8h9l3-8h6l3-8h9l3-8h12l3-8h9l3-8h9l3-8h9l3-8h12l3-8h9l3-8h12l3-8h12l3-8h12l3-8h12l3-8h12l3-8h12l3-8h12l3-8h12l3-8h15l3-8h15l3-8h12l3-8h15l3-8h15l3-8h15l3-8h18l3-8h15l3-8h18l3-8h15l3-8h18l3-8h18l3-8h18l3-8h18l3-8h21l3-8h18l3-8h21l3-8h21l3-8h21l3-8h21l3-8h24l3-8h21l3-8h24l3-8h24l3-8h24l3-8h24"/>
<path d="M0 4848l3-8v-8l6-16v-8l6-16v-8l9-24v-8l12-32v-8l54-144h3l12-32h3l6-16h3l6-16h3l6-16h3l6-16h3l6-16h3l3-8h3l3-8h3l6-16h3l3-8h3l3-8h3l3-8h3l3-8h3l3-8h3l3-8h3l3-8h3l3-8h3l3-8h3l3-8h6l3-8h3l3-8h3l3-8h6l3-8h3l3-8h6l3-8h3l3-8h6l3-8h3l3-8h6l3-8h6l3-8h6l3-8h6l3-8h6l3-8h6l3-8h6l3-8h6l3-8h6l3-8h6l3-8h9l3-8h6l3-8h6l3-8h9l3-8h9l3-8h6l3-8h9l3-8h9l3-8h9l3-8h9l3-8h9l3-8h9l3-8h12l3-8h9l3-8h9l3-8h12l3-8h12l3-8h9l3-8h12l3-8h12l3-8h12l3-8h12l3-8h15l3-8h12l3-8h12l3-8h15l3-8h15l3-8h15l3-8h15l3-8h15l3-8h15l3-8h15l3-8h18l3-8h15l3-8h18l3-8h18l3-8h18l3-8h18l3-8h21l3-8h18l3-8h21l3-8h21l3-8h21l3-8h21l3-8h21l3-8h24l3-8h21l3-8h24l3-8h24l3-8h15"/>
<path d="M0 4840l9-24v-8l6-16v-8l12-32v-8l60-160h3l9-24h3l6-16h3l6-16h3l6-16h3l6-16h3l3-8h3l6-16h3l3-8h3l3-8h3l3-8h3l3-8h3l3-8h3l3-8h3l3-8h3l3-8h3l3-8h3l3-8h3l3-8h3l3-8h6l3-8h3l3-8h3l3-8h6l3-8h3l3-8h6l3-8h3l3-8h6l3-8h6l3-8h6l3-8h3l3-8h6l3-8h6l3-8h6l3-8h6l3-8h9l3-8h6l3-8h6l3-8h9l3-8h6l3-8h9l3-8h6l3-8h9l3-8h9l3-8h6l3-8h9l3-8h9l3-8h12l3-8h9l3-8h9l3-8h9l3-8h12l3-8h12l3-8h9l3-8h12l3-8h12l3-8h12l3-8h12l3-8h12l3-8h15l3-8h12l3-8h15l3-8h12l3-8h15l3-8h15l3-8h15l3-8h18l3-8h15l3-8h18l3-8h15l3-8h18l3-8h18l3-8h18l3-8h18l3-8h21l3-8h18l3-8h21l3-8h21l3-8h21l3-8h21l3-8h24l3-8h24l3-8h21l3-8h24l3-8h27l3-8h24l3-8h21"/>
<path d="M0 4840l6-16v-8l9-24v-8l9-24v-8l18-48v-8l39-104h3l12-32h3l6-16h3l6-16h3l6-16h3l6-16h3l6-16h3l3-8h3l6-16h3l3-8h3l3-8h3l3-8h3l3-8h3l3-8h3l3-8h3l3-8h3l3-8h3l3-8h3l3-8h3l3-8h3l3-8h6l3-8h3l3-8h6l3-8h3l3-8h3l3-8h6l3-8h6l3-8h3l3-8h6l3-8h6l3-8h6l3-8h6l3-8h6l3-8h6l3-8h6l3-8h6l3-8h6l3-8h6l3-8h9l3-8h6l3-8h9l3-8h6l3-8h9l3-8h9l3-8h9l3-8h9l3-8h9l3-8h9l3-8h9l3-8h9l3-8h12l3-8h9l3-8h12l3-8h9l3-8h12l3-8h12l3-8h12l3-8h12l3-8h12l3-8h15l3-8h12l3-8h15l3-8h12l3-8h15l3-8h15l3-8h15l3-8h15l3-8h18l3-8h15l3-8h18l3-8h15l3-8h18l3-8h18l3-8h18l3-8h21l3-8h18l3-8h21l3-8h21l3-8h21l3-8h21l3-8h21l3-8h24l3-8h24l3-8h21l3-8h27l3-8h24l3-8h21"/>
<path d="M0 4840l6-16v-8l6-16v-8l9-24v-8l12-32v-8l57-152h3l9-24h3l9-24h3l6-16h3l3-8h3l6-16h3l6-16h3l3-8h3l3-8h3l6-16h3l3-8h3l3-8h3l3-8h3l3-8h3l3-8h3l3-8h3l3-8h3l3-8h3l3-8h6l3-8h3l3-8h3l3-8h6l3-8h3l3-8h3l3-8h6l3-8h6l3-8h3l3-8h6l3-8h6l3-8h3l3-8h6l3-8h6l3-8h6l3-8h6l3-8h6l3-8h9l3-8h6l3-8h6l3-8h9l3-8h6l3-8h9l3-8h6l3-8h9l3-8h9l3-8h9l3-8h6l3-8h9l3-8h12l3-8h9l3-8h9l3-8h9l3-8h12l3-8h12l3-8h9l3-8h12l3-8h12l3-8h12l3-8h12l3-8h12l3-8h12l3-8h15l3-8h12l3-8h15l3-8h15l3-8h15l3-8h15l3-8h15l3-8h15l3-8h18l3-8h15l3-8h18l3-8h18l3-8h18l3-8h18l3-8h18l3-8h21l3-8h18l3-8h21l3-8h21l3-8h21l3-8h21l3-8h24l3-8h21l3-8h24l3-8h24l3-8h24l3-8h18"/>
<path d="M0 4840l3-8v-8l6-16v-8l9-24v-8l12-32v-8l63-168h3l9-24h3l9-24h3l6-16h3l6-16h3l3-8h3l6-16h3l3-8h3l3-8h3l6-16h3l3-8h3l3-8h3l3-8h3l3-8h3l3-8h3l3-8h3l3-8h3l3-8h3l3-8h6l3-8h3l3-8h3l3-8h6l3-8h3l3-8h6l3-8h3l3-8h6l3-8h3l3-8h6l3-8h6l3-8h6l3-8h6l3-8h3l3-8h6l3-8h9l3-8h6l3-8h6l3-8h6l3-8h6l3-8h9l3-8h6l3-8h9l3-8h9l3-8h6l3-8h9l3-8h9l3-8h9l3-8h9l3-8h9l3-8h9l3-8h12l3-8h9l3-8h9l3-8h12l3-8h12l3-8h9l3-8h12l3-8h12l3-8h12l3-8h15l3-8h12l3-8h12l3-8h15l3-8h15l3-8h12l3-8h15l3-8h15l3-8h15l3-8h18l3-8h15l3-8h18l3-8h15l3-8h18l3-8h18l3-8h18l3-8h21l3-8h18l3-8h21l3-8h18l3-8h21l3-8h21l3-8h24l3-8h21l3-8h24l3-8h24l3-8h24l3-8h24l3-8h12"/>
<path d="M0 4840l3-8v-8l6-16v-8l9-24v-8l15-40v-8l48-128h3l12-32h3l6-16h3l6-16h3l6-16h3l6-16h3l3-8h3l6-16h3l3-8h3l3-8h3l6-16h3l3-8h3l3-8h3l3-8h3l3-8h3l3-8h3l3-8h6l3-8h3l3-8h3l3-8h3l3-8h6l3-8h3l3-8h3l3-8h6l3-8h6l3-8h3l3-8h6l3-8h6l3-8h3l3-8h6l3-8h6l3-8h6l3-8h6l3-8h6l3-8h9l3-8h6l3-8h6l3-8h9l3-8h6l3-8h9l3-8h6l3-8h9l3-8h9l3-8h9l3-8h9l3-8h9l3-8h9l3-8h9l3-8h9l3-8h12l3-8h9l3-8h12l3-8h12l3-8h12l3-8h9l3-8h15l3-8h12l3-8h12l3-8h12l3-8h15l3-8h12l3-8h15l3-8h15l3-8h15l3-8h15l3-8h18l3-8h15l3-8h18l3-8h15l3-8h18l3-8h18l3-8h18l3-8h21l3-8h18l3-8h21l3-8h21l3-8h18l3-8h24l3-8h21l3-8h24l3-8h21l3-8h24l3-8h24l3-8h27l3-8h24l3-8h12"/>
<path d="M0 4832l6-16v-8l9-24v-8l6-16v-8l12-32v-8l60-160h3l9-24h3l9-24h3l6-16h3l6-16h3l6-16h3l3-8h3l6-16h3l3-8h3l3-8h3l3-8h3l6-16h3l3-8h3l3-8h3l3-8h3l3-8h6l3-8h3l3-8h3l3-8h3l3-8h3l3-8h6l3-8h3l3-8h3l3-8h6l3-8h3l3-8h6l3-8h6l3-8h3l3-8h6l3-8h6l3-8h6l3-8h6l3-8h6l3-8h6l3-8h6l3-8h6l3-8h6l3-8h6l3-8h9l3-8h6l3-8h9l3-8h6l3-8h9l3-8h9l3-8h9l3-8h6l3-8h9l3-8h9l3-8h12l3-8h9l3-8h9l3-8h12l3-8h9l3-8h12l3-8h9l3-8h12l3-8h12l3-8h12l3-8h12l3-8h12l3-8h15l3-8h12l3-8h15l3-8h12l3-8h15l3-8h15l3-8h15l3-8h15l3-8h18l3-8h15l3-8h18l3-8h15l3-8h18l3-8h18l3-8h18l3-8h18l3-8h21l3-8h18l3-8h21l3-8h21l3-8h21l3-8h21l3-8h24l3-8h21l3-8h24l3-8h24l3-8h27"/>
<path d="M0 4832l6-16v-8l9-24v-8l9-24v-8l66-176h3l9-24h3l9-24h3l6-16h3l3-8h3l6-16h3l3-8h3l6-16h3l3-8h3l3-8h3l3-8h3l6-16h3l3-8h3l3-8h3l3-8h6l3-8h3l3-8h3l3-8h3l3-8h3l3-8h6l3-8h3l3-8h6l3-8h3l3-8h6l3-8h3l3-8h6l3-8h6l3-8h3l3-8h6l3-8h6l3-8h6l3-8h6l3-8h6l3-8h6l3-8h6l3-8h9l3-8h6l3-8h9l3-8h6l3-8h9l3-8h6l3-8h9l3-8h9l3-8h9l3-8h9l3-8h9l3-8h9l3-8h9l3-8h12l3-8h9l3-8h12l3-8h9l3-8h12l3-8h12l3-8h12l3-8h12l3-8h12l3-8h15l3-8h12l3-8h12l3-8h15l3-8h15l3-8h15l3-8h15l3-8h15l3-8h15l3-8h18l3-8h15l3-8h18l3-8h18l3-8h18l3-8h18l3-8h18l3-8h21l3-8h21l3-8h18l3-8h21l3-8h21l3-8h24l3-8h21l3-8h24l3-8h24l3-8h24l3-8h24l3-8h27l3-8"/>
<path d="M0 4832l6-16v-8l6-16v-8l6-16v-8l12-32v-8l66-176h3l9-24h3l6-16h3l6-16h3l6-16h3l6-16h3l3-8h3l6-16h3l3-8h3l3-8h3l3-8h3l3-8h3l6-16h3l3-8h3l3-8h6l3-8h3l3-8h3l3-8h3l3-8h3l3-8h6l3-8h3l3-8h3l3-8h6l3-8h3l3-8h6l3-8h3l3-8h6l3-8h6l3-8h3l3-8h6l3-8h6l3-8h6l3-8h6l3-8h6l3-8h6l3-8h9l3-8h6l3-8h6l3-8h9l3-8h6l3-8h9l3-8h6l3-8h9l3-8h9l3-8h9l3-8h9l3-8h9l3-8h9l3-8h9l3-8h9l3-8h12l3-8h9l3-8h12l3-8h9l3-8h12l3-8h12l3-8h12l3-8h12l3-8h12l3-8h12l3-8h15l3-8h12l3-8h15l3-8h15l3-8h15l3-8h15l3-8h15l3-8h15l3-8h15l3-8h18l3-8h18l3-8h15l3-8h18l3-8h18l3-8h21l3-8h18l3-8h21l3-8h18l3-8h21l3-8h21l3-8h21l3-8h24l3-8h21l3-8h24l3-8h24l3-8h24l3-8h12"/>
<path d="M0 4832l6-16v-8l6-16v-8l6-16v-8l15-40v-8l54-144h3l9-24h3l9-24h3l6-16h3l6-16h3l6-16h3l3-8h3l6-16h3l3-8h3l3-8h3l3-8h3l3-8h3l3-8h3l3-8h3l3-8h3l3-8h3l3-8h3l3-8h3l3-8h3l3-8h3l3-8h6l3-8h3l3-8h3l3-8h6l3-8h3l3-8h6l3-8h6l3-8h3l3-8h6l3-8h6l3-8h6l3-8h6l3-8h6l3-8h6l3-8h6l3-8h6l3-8h6l3-8h6l3-8h9l3-8h6l3-8h9l3-8h6l3-8h9l3-8h9l3-8h9l3-8h9l3-8h9l3-8h9l3-8h9l3-8h9l3-8h12l3-8h9l3-8h12l3-8h9l3-8h12l3-8h12l3-8h12l3-8h12l3-8h12l3-8h15l3-8h12l3-8h12l3-8h15l3-8h15l3-8h15l3-8h15l3-8h15l3-8h15l3-8h18l3-8h15l3-8h18l3-8h18l3-8h18l3-8h18l3-8h18l3-8h21l3-8h18l3-8h21l3-8h21l3-8h21l3-8h24l3-8h21l3-8h24l3-8h24l3-8h24l3-8h24l3-8h21"/>
<path d="M0 4832l3-8v-8l6-16v-8l9-24v-8l9-24v-8l69-184h3l6-16h3l9-24h3l6-16h3l6-16h3l3-8h3l6-16h3l3-8h3l3-8h3l6-16h3l3-8h3l3-8h3l3-8h3l3-8h3l3-8h3l3-8h3l3-8h3l3-8h6l3-8h3l3-8h3l3-8h3l3-8h6l3-8h3l3-8h6l3-8h3l3-8h6l3-8h6l3-8h3l3-8h6l3-8h6l3-8h6l3-8h6l3-8h6l3-8h6l3-8h6l3-8h6l3-8h6l3-8h9l3-8h6l3-8h9l3-8h6l3-8h9l3-8h9l3-8h6l3-8h9l3-8h9l3-8h9l3-8h9l3-8h12l3-8h9l3-8h9l3-8h12l3-8h9l3-8h12l3-8h12l3-8h12l3-8h12l3-8h12l3-8h12l3-8h15l3-8h12l3-8h15l3-8h12l3-8h15l3-8h15l3-8h15l3-8h15l3-8h18l3-8h15l3-8h18l3-8h15l3-8h18l3-8h18l3-8h18l3-8h21l3-8h18l3-8h21l3-8h21l3-8h21l3-8h21l3-8h21l3-8h24l3-8h21l3-8h24l3-8h24l3-8h24l3-8h9"/>
<path d="M0 4824l9-24v-8l6-16v-8l9-24v-8l15-40v-8l51-136h3l9-24h3l9-24h3l6-16h3l6-16h3l6-16h3l3-8h3l6-16h3l3-8h3l3-8h3l3-8h3l6-16h3l3-8h3l3-8h3l3-8h3l3-8h3l3-8h6l3-8h3l3-8h3l3-8h3l3-8h6l3-8h3l3-8h3l3-8h6l3-8h3l3-8h6l3-8h3l3-8h6l3-8h6l3-8h6l3-8h6l3-8h3l3-8h6l3-8h6l3-8h9l3-8h6l3-8h6l3-8h6l3-8h9l3-8h6l3-8h9l3-8h6l3-8h9l3-8h9l3-8h6l3-8h9l3-8h9l3-8h9l3-8h12l3-8h9l3-8h9l3-8h12l3-8h9l3-8h12l3-8h9l3-8h12l3-8h12l3-8h12l3-8h12l3-8h12l3-8h15l3-8h12l3-8h15l3-8h12l3-8h15l3-8h15l3-8h15l3-8h15l3-8h18l3-8h15l3-8h18l3-8h15l3-8h18l3-8h18l3-8h18l3-8h21l3-8h18l3-8h21l3-8h21l3-8h21l3-8h21l3-8h21l3-8h21l3-8h24l3-8h24l3-8h24l3-8h27"/>
<path d="M0 4824l6-16v-8l9-24v-8l6-16v-8l15-40v-8l54-144h3l9-24h3l6-16h3l9-24h3l6-16h3l3-8h3l6-16h3l3-8h3l6-16h3l3-8h3l3-8h3l3-8h3l3-8h3l3-8h3l3-8h3l3-8h3l3-8h3l3-8h3l3-8h3l3-8h3l3-8h6l3-8h3l3-8h6l3-8h3l3-8h3l3-8h6l3-8h6l3-8h3l3-8h6l3-8h6l3-8h6l3-8h3l3-8h6l3-8h6l3-8h6l3-8h9l3-8h6l3-8h6l3-8h6l3-8h9l3-8h6l3-8h9l3-8h9l3-8h6l3-8h9l3-8h9l3-8h9l3-8h9l3-8h9l3-8h9l3-8h12l3-8h9l3-8h12l3-8h9l3-8h12l3-8h12l3-8h12l3-8h12l3-8h12l3-8h12l3-8h12l3-8h15l3-8h12l3-8h15l3-8h15l3-8h15l3-8h15l3-8h15l3-8h15l3-8h15l3-8h18l3-8h18l3-8h18l3-8h18l3-8h18l3-8h18l3-8h18l3-8h21l3-8h21l3-8h21l3-8h21l3-8h21l3-8h24l3-8h21l3-8h24l3-8h24l3-8h24l3-8h9"/>
<path d="M0 4824l6-16v-8l6-16v-8l9-24v-8l15-40v-8l51-136h3l9-24h3l9-24h3l6-16h3l6-16h3l6-16h3l3-8h3l6-16h3l3-8h3l3-8h3l3-8h3l3-8h3l6-16h3l3-8h3l3-8h3l3-8h6l3-8h3l3-8h3l3-8h3l3-8h3l3-8h6l3-8h3l3-8h6l3-8h3l3-8h6l3-8h3l3-8h6l3-8h6l3-8h3l3-8h6l3-8h6l3-8h6l3-8h6l3-8h6l3-8h6l3-8h9l3-8h6l3-8h6l3-8h9l3-8h6l3-8h9l3-8h6l3-8h9l3-8h9l3-8h9l3-8h9l3-8h9l3-8h9l3-8h9l3-8h12l3-8h9l3-8h9l3-8h12l3-8h12l3-8h12l3-8h12l3-8h12l3-8h12l3-8h12l3-8h12l3-8h15l3-8h12l3-8h15l3-8h15l3-8h15l3-8h15l3-8h15l3-8h15l3-8h18l3-8h18l3-8h15l3-8h18l3-8h18l3-8h21l3-8h18l3-8h18l3-8h21l3-8h21l3-8h21l3-8h21l3-8h24l3-8h21l3-8h24l3-8h24l3-8h24l3-8h24l3-8h6"/>
<path d="M0 4824l6-16v-8l6-16v-8l9-24v-8l18-48v-8l42-112h3l9-24h3l9-24h3l6-16h3l6-16h3l6-16h3l3-8h3l6-16h3l3-8h3l3-8h3l6-16h3l3-8h3l3-8h3l3-8h3l3-8h3l3-8h3l3-8h3l3-8h6l3-8h3l3-8h3l3-8h6l3-8h3l3-8h3l3-8h6l3-8h3l3-8h6l3-8h6l3-8h3l3-8h6l3-8h6l3-8h6l3-8h6l3-8h6l3-8h6l3-8h6l3-8h6l3-8h9l3-8h6l3-8h6l3-8h9l3-8h9l3-8h6l3-8h9l3-8h9l3-8h9l3-8h9l3-8h9l3-8h9l3-8h9l3-8h12l3-8h9l3-8h12l3-8h12l3-8h9l3-8h12l3-8h12l3-8h12l3-8h12l3-8h15l3-8h12l3-8h15l3-8h12l3-8h15l3-8h15l3-8h15l3-8h15l3-8h18l3-8h15l3-8h18l3-8h18l3-8h18l3-8h18l3-8h18l3-8h18l3-8h21l3-8h18l3-8h21l3-8h21l3-8h24l3-8h21l3-8h24l3-8h21l3-8h24l3-8h24l3-8h27l3-8h24"/>
<path d="M0 4824l3-8v-8l9-24v-8l6-16v-8l15-40v-8l54-144h3l9-24h3l6-16h3l6-16h3l6-16h3l6-16h3l3-8h3l6-16h3l3-8h3l3-8h3l6-16h3l3-8h3l3-8h3l3-8h3l3-8h3l3-8h3l3-8h3l3-8h6l3-8h3l3-8h3l3-8h6l3-8h3l3-8h3l3-8h6l3-8h3l3-8h6l3-8h6l3-8h3l3-8h6l3-8h6l3-8h6l3-8h6l3-8h6l3-8h6l3-8h6l3-8h9l3-8h6l3-8h6l3-8h9l3-8h6l3-8h9l3-8h6l3-8h9l3-8h9l3-8h9l3-8h9l3-8h9l3-8h9l3-8h12l3-8h9l3-8h9l3-8h12l3-8h12l3-8h9l3-8h12l3-8h12l3-8h12l3-8h15l3-8h12l3-8h12l3-8h15l3-8h15l3-8h12l3-8h15l3-8h15l3-8h18l3-8h15l3-8h15l3-8h18l3-8h18l3-8h18l3-8h18l3-8h18l3-8h18l3-8h21l3-8h18l3-8h21l3-8h21l3-8h21l3-8h24l3-8h21l3-8h24l3-8h24l3-8h24l3-8h24l3-8h24"/>
<path d="M0 4824l3-8v-8l6-16v-8l9-24v-8l15-40v-8l48-128h3l12-32h3l6-16h3l6-16h3l6-16h3l6-16h3l3-8h3l6-16h3l3-8h3l3-8h3l6-16h3l3-8h3l3-8h3l3-8h3l3-8h3l3-8h3l3-8h6l3-8h3l3-8h3l3-8h3l3-8h6l3-8h3l3-8h6l3-8h3l3-8h6l3-8h3l3-8h6l3-8h6l3-8h6l3-8h3l3-8h6l3-8h6l3-8h6l3-8h9l3-8h6l3-8h6l3-8h6l3-8h9l3-8h6l3-8h9l3-8h6l3-8h9l3-8h9l3-8h9l3-8h9l3-8h9l3-8h9l3-8h9l3-8h12l3-8h9l3-8h12l3-8h9l3-8h12l3-8h12l3-8h12l3-8h12l3-8h12l3-8h12l3-8h15l3-8h12l3-8h15l3-8h15l3-8h15l3-8h15l3-8h15l3-8h15l3-8h18l3-8h15l3-8h18l3-8h18l3-8h18l3-8h18l3-8h18l3-8h21l3-8h21l3-8h18l3-8h21l3-8h24l3-8h21l3-8h24l3-8h21l3-8h24l3-8h24l3-8h27l3-8h24l3-8h9"/>
<path d="M0 4816l9-24v-8l6-16v-8l9-24v-8l15-40v-8l48-128h3l9-24h3l9-24h3l6-16h3l6-16h3l6-16h3l3-8h3l6-16h3l3-8h3l6-16h3l3-8h3l3-8h3l3-8h3l3-8h3l3-8h3l3-8h3l3-8h3l3-8h3l3-8h6l3-8h3l3-8h3l3-8h6l3-8h3l3-8h3l3-8h6l3-8h3l3-8h6l3-8h6l3-8h6l3-8h3l3-8h6l3-8h6l3-8h6l3-8h6l3-8h6l3-8h6l3-8h9l3-8h6l3-8h6l3-8h9l3-8h6l3-8h9l3-8h6l3-8h9l3-8h9l3-8h9l3-8h9l3-8h9l3-8h9l3-8h9l3-8h12l3-8h9l3-8h12l3-8h9l3-8h12l3-8h12l3-8h12l3-8h12l3-8h12l3-8h12l3-8h15l3-8h12l3-8h15l3-8h12l3-8h15l3-8h15l3-8h15l3-8h15l3-8h18l3-8h15l3-8h18l3-8h18l3-8h15l3-8h21l3-8h18l3-8h18l3-8h21l3-8h18l3-8h21l3-8h21l3-8h21l3-8h24l3-8h21l3-8h24l3-8h24l3-8h24l3-8h27"/>
<path d="M0 4816l6-16v-8l9-24v-8l12-32v-8l60-160h3l9-24h3l6-16h3l6-16h3l6-16h3l6-16h3l3-8h3l3-8h3l6-16h3l3-8h3l3-8h3l3-8h3l3-8h3l3-8h3l3-8h3l3-8h3l3-8h3l3-8h3l3-8h6l3-8h3l3-8h3l3-8h6l3-8h3l3-8h6l3-8h3l3-8h6l3-8h3l3-8h6l3-8h6l3-8h6l3-8h6l3-8h6l3-8h6l3-8h6l3-8h6l3-8h6l3-8h9l3-8h6l3-8h9l3-8h6l3-8h9l3-8h9l3-8h6l3-8h9l3-8h9l3-8h9l3-8h9l3-8h12l3-8h9l3-8h9l3-8h12l3-8h12l3-8h9l3-8h12l3-8h12l3-8h12l3-8h12l3-8h15l3-8h12l3-8h15l3-8h12l3-8h15l3-8h15l3-8h15l3-8h15l3-8h15l3-8h18l3-8h15l3-8h18l3-8h18l3-8h18l3-8h18l3-8h21l3-8h18l3-8h21l3-8h21l3-8h21l3-8h21l3-8h21l3-8h24l3-8h21l3-8h24l3-8h27l3-8h24l3-8h24l3-8h12"/>
<path d="M0 4816l6-16v-8l9-24v-8l12-32v-8l54-144h3l9-24h3l9-24h3l6-16h3l3-8h3l6-16h3l6-16h3l3-8h3l3-8h3l6-16h3l3-8h3l3-8h3l3-8h3l3-8h3l3-8h3l3-8h3l3-8h6l3-8h3l3-8h3l3-8h6l3-8h3l3-8h3l3-8h6l3-8h3l3-8h6l3-8h6l3-8h3l3-8h6l3-8h6l3-8h6l3-8h6l3-8h6l3-8h6l3-8h6l3-8h9l3-8h6l3-8h6l3-8h9l3-8h6l3-8h9l3-8h9l3-8h9l3-8h9l3-8h9l3-8h9l3-8h9l3-8h9l3-8h9l3-8h12l3-8h9l3-8h12l3-8h12l3-8h12l3-8h12l3-8h12l3-8h12l3-8h12l3-8h15l3-8h12l3-8h15l3-8h15l3-8h15l3-8h15l3-8h15l3-8h18l3-8h15l3-8h18l3-8h18l3-8h18l3-8h18l3-8h18l3-8h18l3-8h21l3-8h21l3-8h21l3-8h21l3-8h21l3-8h24l3-8h24l3-8h24l3-8h24l3-8h24l3-8h24l3-8h27l3-8h9"/>
<path d="M0 4816l3-8v-8l6-16v-8l9-24v-8l12-32v-8l63-168h3l9-24h3l6-16h3l6-16h3l6-16h3l6-16h3l3-8h3l6-16h3l3-8h3l3-8h3l3-8h3l6-16h3l3-8h3l3-8h3l3-8h3l3-8h6l3-8h3l3-8h3l3-8h3l3-8h6l3-8h3l3-8h3l3-8h6l3-8h3l3-8h6l3-8h3l3-8h6l3-8h6l3-8h6l3-8h3l3-8h6l3-8h6l3-8h6l3-8h6l3-8h9l3-8h6l3-8h6l3-8h9l3-8h6l3-8h6l3-8h9l3-8h9l3-8h6l3-8h9l3-8h9l3-8h9l3-8h9l3-8h9l3-8h12l3-8h9l3-8h9l3-8h12l3-8h12l3-8h9l3-8h12l3-8h12l3-8h12l3-8h12l3-8h15l3-8h12l3-8h12l3-8h15l3-8h15l3-8h15l3-8h15l3-8h15l3-8h15l3-8h15l3-8h18l3-8h15l3-8h18l3-8h18l3-8h18l3-8h18l3-8h21l3-8h18l3-8h21l3-8h21l3-8h21l3-8h21l3-8h21l3-8h24l3-8h24l3-8h24l3-8h24l3-8h27"/>
<path d="M0 4816l3-8v-8l6-16v-8l9-24v-8l9-24v-8l66-176h3l9-24h3l9-24h3l6-16h3l3-8h3l6-16h3l6-16h3l3-8h3l3-8h3l3-8h3l6-16h3l3-8h3l3-8h3l3-8h3l3-8h3l3-8h3l3-8h6l3-8h3l3-8h3l3-8h3l3-8h6l3-8h3l3-8h6l3-8h3l3-8h6l3-8h3l3-8h6l3-8h6l3-8h3l3-8h6l3-8h6l3-8h6l3-8h6l3-8h6l3-8h6l3-8h9l3-8h6l3-8h6l3-8h9l3-8h6l3-8h9l3-8h6l3-8h9l3-8h9l3-8h9l3-8h9l3-8h9l3-8h9l3-8h9l3-8h12l3-8h9l3-8h12l3-8h9l3-8h12l3-8h12l3-8h12l3-8h12l3-8h12l3-8h12l3-8h15l3-8h12l3-8h15l3-8h15l3-8h12l3-8h15l3-8h15l3-8h18l3-8h15l3-8h18l3-8h15l3-8h18l3-8h18l3-8h18l3-8h18l3-8h21l3-8h18l3-8h21l3-8h21l3-8h21l3-8h21l3-8h21l3-8h24l3-8h24l3-8h24l3-8h24l3-8h27"/>
<path d="M0 4808l9-24v-8l6-16v-8l12-32v-8l66-176h3l6-16h3l9-24h3l6-16h3l6-16h3l3-8h3l6-16h3l3-8h3l3-8h3l6-16h3l3-8h3l3-8h3l3-8h3l3-8h3l3-8h3l3-8h3l3-8h3l3-8h6l3-8h3l3-8h3l3-8h6l3-8h3l3-8h3l3-8h6l3-8h3l3-8h6l3-8h6l3-8h3l3-8h6l3-8h6l3-8h6l3-8h6l3-8h6l3-8h6l3-8h6l3-8h9l3-8h6l3-8h6l3-8h9l3-8h6l3-8h9l3-8h9l3-8h6l3-8h9l3-8h9l3-8h9l3-8h9l3-8h9l3-8h12l3-8h9l3-8h12l3-8h9l3-8h12l3-8h12l3-8h12l3-8h9l3-8h15l3-8h12l3-8h12l3-8h15l3-8h12l3-8h15l3-8h15l3-8h12l3-8h15l3-8h18l3-8h15l3-8h15l3-8h18l3-8h18l3-8h18l3-8h18l3-8h18l3-8h18l3-8h21l3-8h18l3-8h21l3-8h21l3-8h21l3-8h24l3-8h21l3-8h24l3-8h24l3-8h24l3-8h24l3-8h21"/>
<path d="M0 4824l6-16v-8l6-16v-8l6-16v-8l12-32v-8l21-56v-8l36-96h3l9-24h3l9-24h3l6-16h3l9-24h3l3-8h3l6-16h3l3-8h3l6-16h3l3-8h3l3-8h3l6-16h3l3-8h3l3-8h3l3-8h3l3-8h3l3-8h3l3-8h6l3-8h3l3-8h3l3-8h3l3-8h6l3-8h3l3-8h3l3-8h6l3-8h3l3-8h6l3-8h6l3-8h3l3-8h6l3-8h6l3-8h6l3-8h6l3-8h6l3-8h6l3-8h6l3-8h6l3-8h6l3-8h9l3-8h6l3-8h9l3-8h6l3-8h9l3-8h6l3-8h9l3-8h9l3-8h9l3-8h9l3-8h9l3-8h9l3-8h9l3-8h12l3-8h9l3-8h12l3-8h9l3-8h12l3-8h12l3-8h12l3-8h12l3-8h12l3-8h12l3-8h12l3-8h15l3-8h12l3-8h15l3-8h15l3-8h15l3-8h15l3-8h15l3-8h15l3-8h18l3-8h15l3-8h18l3-8h18l3-8h18l3-8h18l3-8h18l3-8h21l3-8h18l3-8h21l3-8h21l3-8h21l3-8h21l3-8h24l3-8h21l3-8h24l3-8h24l3-8h21"/>
<path d="M0 4816l6-16v-8l6-16v-8l9-24v-8l9-24v-8l69-184h3l9-24h3l6-16h3l6-16h3l6-16h3l6-16h3l3-8h3l6-16h3l3-8h3l3-8h3l3-8h3l3-8h3l3-8h3l3-8h3l3-8h3l3-8h3l3-8h3l3-8h3l3-8h3l3-8h3l3-8h6l3-8h3l3-8h3l3-8h6l3-8h3l3-8h6l3-8h3l3-8h6l3-8h6l3-8h3l3-8h6l3-8h6l3-8h6l3-8h6l3-8h6l3-8h6l3-8h6l3-8h9l3-8h6l3-8h6l3-8h9l3-8h6l3-8h9l3-8h9l3-8h9l3-8h6l3-8h9l3-8h9l3-8h9l3-8h12l3-8h9l3-8h9l3-8h12l3-8h9l3-8h12l3-8h9l3-8h12l3-8h12l3-8h12l3-8h12l3-8h15l3-8h12l3-8h12l3-8h15l3-8h15l3-8h12l3-8h15l3-8h15l3-8h18l3-8h15l3-8h15l3-8h18l3-8h18l3-8h15l3-8h18l3-8h21l3-8h18l3-8h18l3-8h21l3-8h21l3-8h21l3-8h21l3-8h21l3-8h21l3-8h24l3-8h24l3-8h24l3-8h18"/>
<path d="M0 4816l3-8v-8l6-16v-8l9-24v-8l9-24v-8l15-40v-8l48-128h3l9-24h3l9-24h3l6-16h3l6-16h3l6-16h3l6-16h3l3-8h3l3-8h3l6-16h3l3-8h3l3-8h3l3-8h3l3-8h3l3-8h3l3-8h3l3-8h3l3-8h3l3-8h3l3-8h3l3-8h6l3-8h3l3-8h3l3-8h6l3-8h3l3-8h6l3-8h3l3-8h6l3-8h6l3-8h3l3-8h6l3-8h6l3-8h6l3-8h6l3-8h6l3-8h6l3-8h6l3-8h6l3-8h9l3-8h6l3-8h6l3-8h9l3-8h9l3-8h6l3-8h9l3-8h9l3-8h9l3-8h9l3-8h9l3-8h9l3-8h9l3-8h9l3-8h12l3-8h9l3-8h12l3-8h9l3-8h12l3-8h12l3-8h12l3-8h12l3-8h12l3-8h15l3-8h12l3-8h15l3-8h12l3-8h15l3-8h15l3-8h15l3-8h15l3-8h15l3-8h18l3-8h15l3-8h18l3-8h15l3-8h18l3-8h18l3-8h21l3-8h18l3-8h21l3-8h18l3-8h21l3-8h21l3-8h21l3-8h24l3-8h21l3-8h24l3-8h24l3-8h24l3-8h3"/>
<path d="M0 4808l6-16v-8l6-16v-8l9-24v-8l9-24v-8l21-56v-8l36-96h3l12-32h3l9-24h3l6-16h3l6-16h3l6-16h3l6-16h3l3-8h3l6-16h3l3-8h3l3-8h3l3-8h3l6-16h3l3-8h3l3-8h3l3-8h3l3-8h6l3-8h3l3-8h3l3-8h3l3-8h3l3-8h6l3-8h3l3-8h6l3-8h3l3-8h6l3-8h3l3-8h6l3-8h3l3-8h6l3-8h6l3-8h6l3-8h6l3-8h6l3-8h6l3-8h6l3-8h6l3-8h6l3-8h9l3-8h6l3-8h6l3-8h9l3-8h6l3-8h9l3-8h9l3-8h9l3-8h6l3-8h9l3-8h9l3-8h12l3-8h9l3-8h9l3-8h9l3-8h12l3-8h9l3-8h12l3-8h12l3-8h12l3-8h12l3-8h12l3-8h12l3-8h12l3-8h12l3-8h15l3-8h15l3-8h12l3-8h15l3-8h15l3-8h15l3-8h15l3-8h18l3-8h15l3-8h18l3-8h15l3-8h18l3-8h18l3-8h18l3-8h21l3-8h18l3-8h21l3-8h21l3-8h21l3-8h21l3-8h21l3-8h21l3-8h24l3-8h24l3-8h24l3-8h3"/>
<path d="M0 4808l6-16v-8l6-16v-8l9-24v-8l9-24v-8l21-56v-8l39-104h3l9-24h3l9-24h3l6-16h3l9-24h3l3-8h3l6-16h3l3-8h3l6-16h3l3-8h3l3-8h3l6-16h3l3-8h3l3-8h3l3-8h3l3-8h3l3-8h3l3-8h3l3-8h6l3-8h3l3-8h3l3-8h3l3-8h6l3-8h3l3-8h6l3-8h3l3-8h6l3-8h3l3-8h6l3-8h6l3-8h6l3-8h3l3-8h6l3-8h6l3-8h6l3-8h6l3-8h9l3-8h6l3-8h6l3-8h6l3-8h9l3-8h6l3-8h9l3-8h6l3-8h9l3-8h9l3-8h9l3-8h9l3-8h9l3-8h9l3-8h9l3-8h9l3-8h12l3-8h9l3-8h12l3-8h9l3-8h12l3-8h12l3-8h12l3-8h12l3-8h12l3-8h12l3-8h15l3-8h12l3-8h15l3-8h12l3-8h15l3-8h15l3-8h15l3-8h15l3-8h15l3-8h18l3-8h15l3-8h18l3-8h18l3-8h18l3-8h18l3-8h18l3-8h21l3-8h18l3-8h21l3-8h21l3-8h21l3-8h21l3-8h21l3-8h24l3-8h24l3-8h24l3-8h9"/>
<path d="M0 4816l3-8v-8l6-16v-8l9-24v-8l9-24v-8l24-64v-8l33-88h3l9-24h3l9-24h3l6-16h3l6-16h3l6-16h3l6-16h3l3-8h3l6-16h3l3-8h3l3-8h3l3-8h3l3-8h3l6-16h3l3-8h6l3-8h3l3-8h3l3-8h3l3-8h3l3-8h3l3-8h6l3-8h3l3-8h3l3-8h6l3-8h3l3-8h6l3-8h6l3-8h3l3-8h6l3-8h6l3-8h6l3-8h6l3-8h6l3-8h6l3-8h6l3-8h6l3-8h6l3-8h6l3-8h9l3-8h6l3-8h9l3-8h6l3-8h9l3-8h9l3-8h9l3-8h9l3-8h9l3-8h9l3-8h9l3-8h9l3-8h9l3-8h12l3-8h9l3-8h12l3-8h12l3-8h12l3-8h12l3-8h12l3-8h12l3-8h12l3-8h12l3-8h15l3-8h12l3-8h15l3-8h15l3-8h15l3-8h15l3-8h15l3-8h18l3-8h15l3-8h18l3-8h15l3-8h18l3-8h18l3-8h21l3-8h18l3-8h18l3-8h21l3-8h21l3-8h21l3-8h21l3-8h24l3-8h21l3-8h24l3-8h24l3-8h24l3-8h24"/>
<path d="M0 4944l9-24v-8l6-16v-8l9-24v-8l21-56v-8l36-96h3l12-32h3l9-24h3l6-16h3l6-16h3l6-16h3l3-8h3l6-16h3l3-8h3l6-16h3l3-8h3l3-8h3l3-8h3l3-8h3l3-8h3l3-8h3l3-8h3l3-8h3l3-8h6l3-8h3l3-8h3l3-8h3l3-8h6l3-8h3l3-8h6l3-8h3l3-8h6l3-8h6l3-8h3l3-8h6l3-8h6l3-8h6l3-8h6l3-8h6l3-8h6l3-8h6l3-8h6l3-8h9l3-8h6l3-8h9l3-8h6l3-8h9l3-8h6l3-8h9l3-8h9l3-8h9l3-8h9l3-8h9l3-8h9l3-8h9l3-8h12l3-8h9l3-8h12l3-8h9l3-8h12l3-8h12l3-8h12l3-8h12l3-8h12l3-8h12l3-8h15l3-8h12l3-8h15l3-8h15l3-8h12l3-8h15l3-8h18l3-8h15l3-8h15l3-8h18l3-8h15l3-8h18l3-8h18l3-8h18l3-8h18l3-8h21l3-8h18l3-8h21l3-8h21l3-8h21l3-8h21l3-8h24l3-8h21l3-8h24l3-8h24l3-8h24l3-8h27"/>
<path d="M0 4944l6-16v-8l6-16v-8l9-24v-8l15-40v-8l51-136h3l9-24h3l9-24h3l6-16h3l6-16h3l3-8h3l6-16h3l3-8h3l6-16h3l3-8h3l3-8h3l3-8h3l3-8h3l3-8h3l3-8h3l3-8h3l3-8h3l3-8h3l3-8h3l3-8h3l3-8h6l3-8h3l3-8h3l3-8h6l3-8h3l3-8h6l3-8h6l3-8h3l3-8h6l3-8h6l3-8h6l3-8h3l3-8h6l3-8h6l3-8h9l3-8h6l3-8h6l3-8h6l3-8h9l3-8h6l3-8h9l3-8h6l3-8h9l3-8h9l3-8h6l3-8h9l3-8h9l3-8h9l3-8h12l3-8h9l3-8h9l3-8h12l3-8h9l3-8h12l3-8h12l3-8h12l3-8h9l3-8h15l3-8h12l3-8h12l3-8h12l3-8h15l3-8h12l3-8h15l3-8h15l3-8h15l3-8h15l3-8h15l3-8h18l3-8h15l3-8h18l3-8h18l3-8h18l3-8h18l3-8h18l3-8h21l3-8h18l3-8h21l3-8h21l3-8h21l3-8h21l3-8h24l3-8h21l3-8h24l3-8h24l3-8h24l3-8h27"/>
</g>
<path d="M328 2418h1v68h-1zM332 2476h1v10h-1z" fill="#00ff00" shape-rendering="crispEdges"/>
<path transform="translate(343 2.25) scale(4.02)" d="M0 200h1l1-1h2l1-1h2l1-1h2l1-1h3l1-1h4l1-1h4l1-1h4l1-1h5l1-1h5l1-1h6l1-1h7l1-1h7l1-1h8l1-1h9l1-1h10l1-1h11l1-1h13l1-1h13l1-1h15l1-1h17l1-1h18l1-1h21l1-1h22l1-1h25l1-1h27l1-1h29l1-1h33l1-1h36l1-1h27" fill="none" stroke="#ff0000" stroke-width="2.3383" stroke-linejoin="miter" shape-rendering="crispEdges"/>
<path transform="translate(328 2.1) scale(4.02)" d="M0 646l1-1v-1l1-1v-1l1-1v-1l1-1v-1l1-1v-1l1-1v-1l1-1v-1l1-1v-1l1-1v-1l2-2v-1l1-1v-1l2-2v-1l2-2v-1l2-2v-1l3-3v-1l4-4v-1l5-5v-1l22-22h1l4-4h1l3-3h1l2-2h1l3-3h1l2-2h1l2-2h1l1-1h1l2-2h1l2-2h1l1-1h1l1-1h1l2-2h1l1-1h1l1-1h1l1-1h1l1-1h1l2-2h1l1-1h1l1-1h1l1-1h1l1-1h1l1-1h2l1-1h1l1-1h1l1-1h1l1-1h1l1-1h2l1-1h1l1-1h1l1-1h2l1-1h1l1-1h1l1-1h2l1-1h1l1-1h2l1-1h1l1-1h2l1-1h2l1-1h1l1-1h2l1-1h2l1-1h2l1-1h2l1-1h2l1-1h2l1-1h2l1-1h2l1-1h2l1-1h2l1-1h2l1-1h2l1-1h3l1-1h2l1-1h2l1-1h3l1-1h2l1-1h3l1-1h2l1-1h3l1-1h3l1-1h2l1-1h3l1-1h3l1-1h3l1-1h3l1-1h3l1-1h3l1-1h3l1-1h3l1-1h4l1-1h3l1-1h4l1-1h3l1-1h4l1-1h3l1-1h4l1-1h4l1-1h3l1-1h4l1-1h4l1-1h4l1-1h5l1-1h4l1-1h4l1-1h4l1-1h5l1-1h4l1-1h5l1-1h5l1-1h4l1-1h5l1-1h5l1-1h5l1-1h5l1-1h6l1-1h5l1-1h5l1-1h6l1-1h4" fill="none" stroke="#ff0000" stroke-width="2.3383" stroke-linejoin="miter" shape-rendering="crispEdges"/>
<g fill="none" stroke="#ff0000" shape-rendering="crispEdges">
<g transform="translate(343 807.93)"><path d="M-17 0H17M0-17V17" stroke-width="1.9"/><path d="M-9-9L9 9M-9 9L9-9" stroke-width="2.4"/></g>
<g transform="translate(351 798.91)"><path d="M-17 0H17M0-17V17" stroke-width="1.9"/><path d="M-9-9L9 9M-9 9L9-9" stroke-width="2.4"/></g>
<g transform="translate(359.4 817.66)"><path d="M-17 0H17M0-17V17" stroke-width="1.9"/><path d="M-9-9L9 9M-9 9L9-9" stroke-width="2.4"/></g>
<g transform="translate(363.72 781.53)"><path d="M-17 0H17M0-17V17" stroke-width="1.9"/><path d="M-9-9L9 9M-9 9L9-9" stroke-width="2.4"/></g>
<g transform="translate(416 751.2)"><path d="M-17 0H17M0-17V17" stroke-width="1.9"/><path d="M-9-9L9 9M-9 9L9-9" stroke-width="2.4"/></g>
<g transform="translate(440.2 800.28)"><path d="M-17 0H17M0-17V17" stroke-width="1.9"/><path d="M-9-9L9 9M-9 9L9-9" stroke-width="2.4"/></g>
<g transform="translate(549.8 800.28)"><path d="M-17 0H17M0-17V17" stroke-width="1.9"/><path d="M-9-9L9 9M-9 9L9-9" stroke-width="2.4"/></g>
<g transform="translate(655 750.82)"><path d="M-17 0H17M0-17V17" stroke-width="1.9"/><path d="M-9-9L9 9M-9 9L9-9" stroke-width="2.4"/></g>
<g transform="translate(894.6 750.68)"><path d="M-17 0H17M0-17V17" stroke-width="1.9"/><path d="M-9-9L9 9M-9 9L9-9" stroke-width="2.4"/></g>
<g transform="translate(902.6 755.87)"><path d="M-17 0H17M0-17V17" stroke-width="1.9"/><path d="M-9-9L9 9M-9 9L9-9" stroke-width="2.4"/></g>
<g transform="translate(996.2 745.95)"><path d="M-17 0H17M0-17V17" stroke-width="1.9"/><path d="M-9-9L9 9M-9 9L9-9" stroke-width="2.4"/></g>
<g transform="translate(1150.6 716.38)"><path d="M-17 0H17M0-17V17" stroke-width="1.9"/><path d="M-9-9L9 9M-9 9L9-9" stroke-width="2.4"/></g>
<g transform="translate(1308.2 736.27)"><path d="M-17 0H17M0-17V17" stroke-width="1.9"/><path d="M-9-9L9 9M-9 9L9-9" stroke-width="2.4"/></g>
<g transform="translate(1389.8 682.18)"><path d="M-17 0H17M0-17V17" stroke-width="1.9"/><path d="M-9-9L9 9M-9 9L9-9" stroke-width="2.4"/></g>
<g transform="translate(1462.6 672.73)"><path d="M-17 0H17M0-17V17" stroke-width="1.9"/><path d="M-9-9L9 9M-9 9L9-9" stroke-width="2.4"/></g>
<g transform="translate(1527 688.79)"><path d="M-17 0H17M0-17V17" stroke-width="1.9"/><path d="M-9-9L9 9M-9 9L9-9" stroke-width="2.4"/></g>
<g transform="translate(1539.4 669.43)"><path d="M-17 0H17M0-17V17" stroke-width="1.9"/><path d="M-9-9L9 9M-9 9L9-9" stroke-width="2.4"/></g>
<g transform="translate(1564.2 678.4)"><path d="M-17 0H17M0-17V17" stroke-width="1.9"/><path d="M-9-9L9 9M-9 9L9-9" stroke-width="2.4"/></g>
<g transform="translate(1559.4 710.05)"><path d="M-17 0H17M0-17V17" stroke-width="1.9"/><path d="M-9-9L9 9M-9 9L9-9" stroke-width="2.4"/></g>
<g transform="translate(1657.4 697.01)"><path d="M-17 0H17M0-17V17" stroke-width="1.9"/><path d="M-9-9L9 9M-9 9L9-9" stroke-width="2.4"/></g>
<g transform="translate(1669 710.52)"><path d="M-17 0H17M0-17V17" stroke-width="1.9"/><path d="M-9-9L9 9M-9 9L9-9" stroke-width="2.4"/></g>
<g transform="translate(1758.28 673.91)"><path d="M-17 0H17M0-17V17" stroke-width="1.9"/><path d="M-9-9L9 9M-9 9L9-9" stroke-width="2.4"/></g>
<g transform="translate(1956.6 682.84)"><path d="M-17 0H17M0-17V17" stroke-width="1.9"/><path d="M-9-9L9 9M-9 9L9-9" stroke-width="2.4"/></g>
<g transform="translate(2009.8 706.13)"><path d="M-17 0H17M0-17V17" stroke-width="1.9"/><path d="M-9-9L9 9M-9 9L9-9" stroke-width="2.4"/></g>
<g transform="translate(328 2600.74)"><path d="M-17 0H17M0-17V17" stroke-width="1.9"/><path d="M-9-9L9 9M-9 9L9-9" stroke-width="2.4"/></g>
<g transform="translate(336 2544.39)"><path d="M-17 0H17M0-17V17" stroke-width="1.9"/><path d="M-9-9L9 9M-9 9L9-9" stroke-width="2.4"/></g>
<g transform="translate(344.4 2661.51)"><path d="M-17 0H17M0-17V17" stroke-width="1.9"/><path d="M-9-9L9 9M-9 9L9-9" stroke-width="2.4"/></g>
<g transform="translate(348.72 2435.84)"><path d="M-17 0H17M0-17V17" stroke-width="1.9"/><path d="M-9-9L9 9M-9 9L9-9" stroke-width="2.4"/></g>
<g transform="translate(401 2246.44)"><path d="M-17 0H17M0-17V17" stroke-width="1.9"/><path d="M-9-9L9 9M-9 9L9-9" stroke-width="2.4"/></g>
<g transform="translate(425.2 2552.95)"><path d="M-17 0H17M0-17V17" stroke-width="1.9"/><path d="M-9-9L9 9M-9 9L9-9" stroke-width="2.4"/></g>
<g transform="translate(534.8 2552.95)"><path d="M-17 0H17M0-17V17" stroke-width="1.9"/><path d="M-9-9L9 9M-9 9L9-9" stroke-width="2.4"/></g>
<g transform="translate(640 2244.09)"><path d="M-17 0H17M0-17V17" stroke-width="1.9"/><path d="M-9-9L9 9M-9 9L9-9" stroke-width="2.4"/></g>
<g transform="translate(879.6 2243.2)"><path d="M-17 0H17M0-17V17" stroke-width="1.9"/><path d="M-9-9L9 9M-9 9L9-9" stroke-width="2.4"/></g>
<g transform="translate(887.6 2275.65)"><path d="M-17 0H17M0-17V17" stroke-width="1.9"/><path d="M-9-9L9 9M-9 9L9-9" stroke-width="2.4"/></g>
<g transform="translate(981.2 2213.7)"><path d="M-17 0H17M0-17V17" stroke-width="1.9"/><path d="M-9-9L9 9M-9 9L9-9" stroke-width="2.4"/></g>
<g transform="translate(1135.6 2029.03)"><path d="M-17 0H17M0-17V17" stroke-width="1.9"/><path d="M-9-9L9 9M-9 9L9-9" stroke-width="2.4"/></g>
<g transform="translate(1293.2 2153.22)"><path d="M-17 0H17M0-17V17" stroke-width="1.9"/><path d="M-9-9L9 9M-9 9L9-9" stroke-width="2.4"/></g>
<g transform="translate(1374.8 1815.45)"><path d="M-17 0H17M0-17V17" stroke-width="1.9"/><path d="M-9-9L9 9M-9 9L9-9" stroke-width="2.4"/></g>
<g transform="translate(1447.6 1756.45)"><path d="M-17 0H17M0-17V17" stroke-width="1.9"/><path d="M-9-9L9 9M-9 9L9-9" stroke-width="2.4"/></g>
<g transform="translate(1512 1856.75)"><path d="M-17 0H17M0-17V17" stroke-width="1.9"/><path d="M-9-9L9 9M-9 9L9-9" stroke-width="2.4"/></g>
<g transform="translate(1524.4 1735.8)"><path d="M-17 0H17M0-17V17" stroke-width="1.9"/><path d="M-9-9L9 9M-9 9L9-9" stroke-width="2.4"/></g>
<g transform="translate(1549.2 1791.85)"><path d="M-17 0H17M0-17V17" stroke-width="1.9"/><path d="M-9-9L9 9M-9 9L9-9" stroke-width="2.4"/></g>
<g transform="translate(1544.4 1989.5)"><path d="M-17 0H17M0-17V17" stroke-width="1.9"/><path d="M-9-9L9 9M-9 9L9-9" stroke-width="2.4"/></g>
<g transform="translate(1642.4 1908.08)"><path d="M-17 0H17M0-17V17" stroke-width="1.9"/><path d="M-9-9L9 9M-9 9L9-9" stroke-width="2.4"/></g>
<g transform="translate(1654 1992.45)"><path d="M-17 0H17M0-17V17" stroke-width="1.9"/><path d="M-9-9L9 9M-9 9L9-9" stroke-width="2.4"/></g>
<g transform="translate(1743.28 1763.82)"><path d="M-17 0H17M0-17V17" stroke-width="1.9"/><path d="M-9-9L9 9M-9 9L9-9" stroke-width="2.4"/></g>
<g transform="translate(1941.6 1819.58)"><path d="M-17 0H17M0-17V17" stroke-width="1.9"/><path d="M-9-9L9 9M-9 9L9-9" stroke-width="2.4"/></g>
<g transform="translate(1994.8 1965.02)"><path d="M-17 0H17M0-17V17" stroke-width="1.9"/><path d="M-9-9L9 9M-9 9L9-9" stroke-width="2.4"/></g>
</g>
<g fill="#000" shape-rendering="crispEdges">
<rect x="224" y="128" width="2" height="1183"/>
<rect x="2224" y="128" width="1" height="1183"/>
<rect x="224" y="128" width="2001" height="2"/>
<rect x="224" y="1310" width="2001" height="1"/>
<rect x="210" y="1606" width="1" height="1181"/>
<rect x="2209" y="1606" width="2" height="1181"/>
<rect x="210" y="1606" width="2001" height="1"/>
<rect x="210" y="2785" width="2001" height="2"/>
<rect x="622" y="1290" width="1" height="20"/>
<rect x="622" y="128" width="1" height="18"/>
<rect x="1024" y="1290" width="1" height="20"/>
<rect x="1024" y="128" width="1" height="18"/>
<rect x="1421" y="1290" width="1" height="20"/>
<rect x="1421" y="128" width="1" height="18"/>
<rect x="1822" y="1290" width="1" height="20"/>
<rect x="1822" y="128" width="1" height="18"/>
<rect x="224" y="362" width="19" height="2"/>
<rect x="2204" y="362" width="20" height="2"/>
<rect x="224" y="600" width="19" height="2"/>
<rect x="2204" y="600" width="20" height="2"/>
<rect x="224" y="834" width="19" height="2"/>
<rect x="2204" y="834" width="20" height="2"/>
<rect x="224" y="1072" width="19" height="2"/>
<rect x="2204" y="1072" width="20" height="2"/>
<rect x="607" y="2765" width="1" height="20"/>
<rect x="607" y="1606" width="1" height="18"/>
<rect x="1010" y="2765" width="1" height="20"/>
<rect x="1010" y="1606" width="1" height="18"/>
<rect x="1407" y="2765" width="1" height="20"/>
<rect x="1407" y="1606" width="1" height="18"/>
<rect x="1808" y="2765" width="1" height="20"/>
<rect x="1808" y="1606" width="1" height="18"/>
<rect x="210" y="1751" width="18" height="1"/>
<rect x="2189" y="1751" width="21" height="1"/>
<rect x="210" y="1900" width="18" height="1"/>
<rect x="2189" y="1900" width="21" height="1"/>
<rect x="210" y="2045" width="18" height="1"/>
<rect x="2189" y="2045" width="21" height="1"/>
<rect x="210" y="2194" width="18" height="1"/>
<rect x="2189" y="2194" width="21" height="1"/>
<rect x="210" y="2342" width="18" height="1"/>
<rect x="2189" y="2342" width="21" height="1"/>
<rect x="210" y="2488" width="18" height="1"/>
<rect x="2189" y="2488" width="21" height="1"/>
<rect x="210" y="2637" width="18" height="1"/>
<rect x="2189" y="2637" width="21" height="1"/>
</g>
<g font-family="'Liberation Sans', Arial, Helvetica, sans-serif" font-size="52" fill="#000">
<text x="1219.5" y="82.7" text-anchor="middle" textLength="687" lengthAdjust="spacing">Obs vs. Initial Sampling Lines</text>
<text x="1205.5" y="1559" text-anchor="middle" textLength="681" lengthAdjust="spacing">Obs vs. Final Sampling Lines</text>
<text x="1219" y="1437" text-anchor="middle" textLength="654" lengthAdjust="spacing">traffic volume (vehicles/hour)</text>
<text x="1204" y="2913.6" text-anchor="middle" textLength="655" lengthAdjust="spacing">traffic volume (vehicles/hour)</text>
<text x="80.3" y="723" text-anchor="middle" textLength="246" lengthAdjust="spacing" transform="rotate(-90 80.3 723)">Noise (dB)</text>
<text x="94.2" y="2199" text-anchor="middle" textLength="244.5" lengthAdjust="spacing" transform="rotate(-90 94.2 2199)">Noise (dB)</text>
<text x="286.6" y="237" text-anchor="start" textLength="62" lengthAdjust="spacing">(a)</text>
<text x="228.8" y="1369" text-anchor="middle">0</text>
<text x="625.4" y="1369" text-anchor="middle">500</text>
<text x="1026.7" y="1369" text-anchor="middle">1000</text>
<text x="1423.5" y="1369" text-anchor="middle">1500</text>
<text x="1824.3" y="1369" text-anchor="middle">2000</text>
<text x="2225.1" y="1369" text-anchor="middle">2500</text>
<text x="210.5" y="144.3" text-anchor="end">200</text>
<text x="210.5" y="378.3" text-anchor="end">150</text>
<text x="210.5" y="616" text-anchor="end">100</text>
<text x="210.5" y="849.6" text-anchor="end">50</text>
<text x="210.5" y="1087.3" text-anchor="end">0</text>
<text x="210.5" y="1325.3" text-anchor="end">-50</text>
<text x="213" y="2846" text-anchor="middle">0</text>
<text x="611" y="2846" text-anchor="middle">500</text>
<text x="1012" y="2846" text-anchor="middle">1000</text>
<text x="1408.5" y="2846" text-anchor="middle">1500</text>
<text x="1809" y="2846" text-anchor="middle">2000</text>
<text x="2211" y="2846" text-anchor="middle">2500</text>
<text x="196.5" y="1620.6" text-anchor="end">90</text>
<text x="196.5" y="1765.6" text-anchor="end">85</text>
<text x="196.5" y="1914.9" text-anchor="end">80</text>
<text x="196.5" y="2060.1" text-anchor="end">75</text>
<text x="196.5" y="2208.6" text-anchor="end">70</text>
<text x="196.5" y="2357.2" text-anchor="end">65</text>
<text x="196.5" y="2502.8" text-anchor="end">60</text>
<text x="196.5" y="2651.5" text-anchor="end">55</text>
<text x="196.5" y="2800.6" text-anchor="end">50</text>
<text x="312.7" y="1718" text-anchor="start" textLength="62" lengthAdjust="spacing">(b)</text>
</g>
</svg>
</body></html>
